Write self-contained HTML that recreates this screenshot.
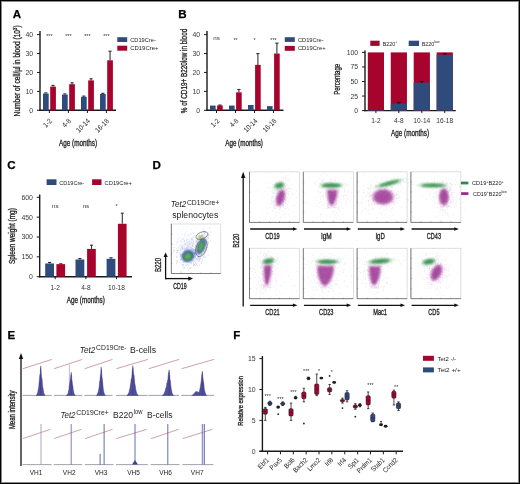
<!DOCTYPE html>
<html><head><meta charset="utf-8"><style>
html,body{margin:0;padding:0;background:#fff;}
body{width:520px;height:484px;overflow:hidden;}
svg{display:block;font-family:"Liberation Sans",sans-serif;filter:blur(0.3px);}
.c{stroke:#222;stroke-width:0.32px;}
</style></head><body>
<svg width="520" height="484" viewBox="0 0 520 484">
<defs><filter id="bl" x="-50%" y="-50%" width="200%" height="200%"><feGaussianBlur stdDeviation="0.8"/></filter></defs>
<rect x="0" y="0" width="520" height="484" fill="#fff"/>
<text transform="translate(12.70,18.20)" font-size="11.6" text-anchor="start" font-weight="bold" fill="#000" stroke="#000" stroke-width="0.25">A</text>
<line x1="40.00" y1="31.00" x2="40.00" y2="110.90" stroke="#1a1a1a" stroke-width="1.4"/>
<line x1="39.30" y1="110.30" x2="116.00" y2="110.30" stroke="#1a1a1a" stroke-width="1.4"/>
<line x1="37.00" y1="110.30" x2="40.00" y2="110.30" stroke="#1a1a1a" stroke-width="1"/>
<text transform="translate(33.20,112.75)" font-size="6.9" text-anchor="end" font-weight="normal" fill="#3a3a3a">0</text>
<line x1="37.00" y1="91.38" x2="40.00" y2="91.38" stroke="#1a1a1a" stroke-width="1"/>
<text transform="translate(33.20,93.83)" font-size="6.9" text-anchor="end" font-weight="normal" fill="#3a3a3a">10</text>
<line x1="37.00" y1="72.45" x2="40.00" y2="72.45" stroke="#1a1a1a" stroke-width="1"/>
<text transform="translate(33.20,74.90)" font-size="6.9" text-anchor="end" font-weight="normal" fill="#3a3a3a">20</text>
<line x1="37.00" y1="53.52" x2="40.00" y2="53.52" stroke="#1a1a1a" stroke-width="1"/>
<text transform="translate(33.20,55.97)" font-size="6.9" text-anchor="end" font-weight="normal" fill="#3a3a3a">30</text>
<line x1="37.00" y1="34.60" x2="40.00" y2="34.60" stroke="#1a1a1a" stroke-width="1"/>
<text transform="translate(33.20,37.05)" font-size="6.9" text-anchor="end" font-weight="normal" fill="#3a3a3a">40</text>
<line x1="45.85" y1="93.60" x2="45.85" y2="92.90" stroke="#1d2b48" stroke-width="1.1"/>
<line x1="44.25" y1="92.90" x2="47.45" y2="92.90" stroke="#1d2b48" stroke-width="1.1"/>
<rect x="43.00" y="93.60" width="5.70" height="16.70" fill="#2e4b7c"/>
<line x1="53.05" y1="86.60" x2="53.05" y2="85.40" stroke="#333" stroke-width="1.1"/>
<line x1="51.45" y1="85.40" x2="54.65" y2="85.40" stroke="#333" stroke-width="1.1"/>
<rect x="50.20" y="86.60" width="5.70" height="23.70" fill="#a6042c"/>
<line x1="49.40" y1="110.30" x2="49.40" y2="113.00" stroke="#1a1a1a" stroke-width="1"/>
<text transform="translate(49.40,38.40)" font-size="5.4" text-anchor="middle" font-weight="normal" fill="#333">***</text>
<line x1="64.85" y1="94.60" x2="64.85" y2="93.90" stroke="#1d2b48" stroke-width="1.1"/>
<line x1="63.25" y1="93.90" x2="66.45" y2="93.90" stroke="#1d2b48" stroke-width="1.1"/>
<rect x="62.00" y="94.60" width="5.70" height="15.70" fill="#2e4b7c"/>
<line x1="72.05" y1="84.20" x2="72.05" y2="82.80" stroke="#333" stroke-width="1.1"/>
<line x1="70.45" y1="82.80" x2="73.65" y2="82.80" stroke="#333" stroke-width="1.1"/>
<rect x="69.20" y="84.20" width="5.70" height="26.10" fill="#a6042c"/>
<line x1="68.40" y1="110.30" x2="68.40" y2="113.00" stroke="#1a1a1a" stroke-width="1"/>
<text transform="translate(68.40,38.40)" font-size="5.4" text-anchor="middle" font-weight="normal" fill="#333">***</text>
<line x1="83.85" y1="96.80" x2="83.85" y2="96.10" stroke="#1d2b48" stroke-width="1.1"/>
<line x1="82.25" y1="96.10" x2="85.45" y2="96.10" stroke="#1d2b48" stroke-width="1.1"/>
<rect x="81.00" y="96.80" width="5.70" height="13.50" fill="#2e4b7c"/>
<line x1="91.05" y1="80.40" x2="91.05" y2="78.80" stroke="#333" stroke-width="1.1"/>
<line x1="89.45" y1="78.80" x2="92.65" y2="78.80" stroke="#333" stroke-width="1.1"/>
<rect x="88.20" y="80.40" width="5.70" height="29.90" fill="#a6042c"/>
<line x1="87.40" y1="110.30" x2="87.40" y2="113.00" stroke="#1a1a1a" stroke-width="1"/>
<text transform="translate(87.40,38.40)" font-size="5.4" text-anchor="middle" font-weight="normal" fill="#333">***</text>
<line x1="102.85" y1="94.00" x2="102.85" y2="93.30" stroke="#1d2b48" stroke-width="1.1"/>
<line x1="101.25" y1="93.30" x2="104.45" y2="93.30" stroke="#1d2b48" stroke-width="1.1"/>
<rect x="100.00" y="94.00" width="5.70" height="16.30" fill="#2e4b7c"/>
<line x1="110.05" y1="60.30" x2="110.05" y2="51.20" stroke="#333" stroke-width="1.1"/>
<line x1="108.45" y1="51.20" x2="111.65" y2="51.20" stroke="#333" stroke-width="1.1"/>
<rect x="107.20" y="60.30" width="5.70" height="50.00" fill="#a6042c"/>
<line x1="106.40" y1="110.30" x2="106.40" y2="113.00" stroke="#1a1a1a" stroke-width="1"/>
<text transform="translate(106.40,38.40)" font-size="5.4" text-anchor="middle" font-weight="normal" fill="#333">***</text>
<text transform="translate(52.50,121.60) rotate(-45) scale(0.88,1)" font-size="7.2" text-anchor="end" font-weight="normal" fill="#222">1-2</text>
<text transform="translate(71.50,121.60) rotate(-45) scale(0.88,1)" font-size="7.2" text-anchor="end" font-weight="normal" fill="#222">4-8</text>
<text transform="translate(90.50,121.60) rotate(-45) scale(0.88,1)" font-size="7.2" text-anchor="end" font-weight="normal" fill="#222">10-14</text>
<text transform="translate(109.50,121.60) rotate(-45) scale(0.88,1)" font-size="7.2" text-anchor="end" font-weight="normal" fill="#222">16-18</text>
<text transform="translate(59.00,145.80)" font-size="8.8" textLength="38.10" lengthAdjust="spacingAndGlyphs" font-weight="normal" fill="#222" class="c">Age (months)</text>
<text transform="translate(20.30,116.40) rotate(-90)" font-size="8.8" textLength="91.00" lengthAdjust="spacingAndGlyphs" font-weight="normal" fill="#222" class="c">Number of cell/µl in blood (10<tspan font-size="5.5" dy="-3">3</tspan><tspan dy="3">)</tspan></text>
<rect x="117.30" y="37.20" width="9.90" height="4.80" fill="#2e4b7c"/>
<rect x="117.30" y="45.70" width="9.90" height="5.00" fill="#a6042c"/>
<text transform="translate(130.20,41.60)" font-size="5.8" textLength="25.60" lengthAdjust="spacingAndGlyphs" font-weight="normal" fill="#222">CD19Cre-</text>
<text transform="translate(130.20,50.30)" font-size="5.8" textLength="28.30" lengthAdjust="spacingAndGlyphs" font-weight="normal" fill="#222">CD19Cre+</text>
<text transform="translate(178.30,18.00)" font-size="11.6" text-anchor="start" font-weight="bold" fill="#000" stroke="#000" stroke-width="0.25">B</text>
<line x1="207.00" y1="31.00" x2="207.00" y2="110.90" stroke="#1a1a1a" stroke-width="1.4"/>
<line x1="206.30" y1="110.30" x2="283.50" y2="110.30" stroke="#1a1a1a" stroke-width="1.4"/>
<line x1="204.00" y1="110.30" x2="207.00" y2="110.30" stroke="#1a1a1a" stroke-width="1"/>
<text transform="translate(200.20,112.75)" font-size="6.9" text-anchor="end" font-weight="normal" fill="#3a3a3a">0</text>
<line x1="204.00" y1="91.38" x2="207.00" y2="91.38" stroke="#1a1a1a" stroke-width="1"/>
<text transform="translate(200.20,93.83)" font-size="6.9" text-anchor="end" font-weight="normal" fill="#3a3a3a">10</text>
<line x1="204.00" y1="72.45" x2="207.00" y2="72.45" stroke="#1a1a1a" stroke-width="1"/>
<text transform="translate(200.20,74.90)" font-size="6.9" text-anchor="end" font-weight="normal" fill="#3a3a3a">20</text>
<line x1="204.00" y1="53.52" x2="207.00" y2="53.52" stroke="#1a1a1a" stroke-width="1"/>
<text transform="translate(200.20,55.97)" font-size="6.9" text-anchor="end" font-weight="normal" fill="#3a3a3a">30</text>
<line x1="204.00" y1="34.60" x2="207.00" y2="34.60" stroke="#1a1a1a" stroke-width="1"/>
<text transform="translate(200.20,37.05)" font-size="6.9" text-anchor="end" font-weight="normal" fill="#3a3a3a">40</text>
<rect x="210.00" y="105.57" width="5.60" height="4.73" fill="#2e4b7c"/>
<line x1="219.90" y1="105.38" x2="219.90" y2="105.00" stroke="#333" stroke-width="1.1"/>
<line x1="218.30" y1="105.00" x2="221.50" y2="105.00" stroke="#333" stroke-width="1.1"/>
<rect x="217.10" y="105.38" width="5.60" height="4.92" fill="#a6042c"/>
<line x1="216.50" y1="110.30" x2="216.50" y2="113.00" stroke="#1a1a1a" stroke-width="1"/>
<text transform="translate(216.50,40.10)" font-size="6.2" text-anchor="middle" font-weight="normal" fill="#333">ns</text>
<rect x="229.00" y="105.57" width="5.60" height="4.73" fill="#2e4b7c"/>
<line x1="238.90" y1="92.32" x2="238.90" y2="89.48" stroke="#333" stroke-width="1.1"/>
<line x1="237.30" y1="89.48" x2="240.50" y2="89.48" stroke="#333" stroke-width="1.1"/>
<rect x="236.10" y="92.32" width="5.60" height="17.98" fill="#a6042c"/>
<line x1="235.50" y1="110.30" x2="235.50" y2="113.00" stroke="#1a1a1a" stroke-width="1"/>
<text transform="translate(235.50,41.60)" font-size="5.4" text-anchor="middle" font-weight="normal" fill="#333">**</text>
<rect x="248.00" y="105.00" width="5.60" height="5.30" fill="#2e4b7c"/>
<line x1="257.90" y1="64.88" x2="257.90" y2="53.52" stroke="#333" stroke-width="1.1"/>
<line x1="256.30" y1="53.52" x2="259.50" y2="53.52" stroke="#333" stroke-width="1.1"/>
<rect x="255.10" y="64.88" width="5.60" height="45.42" fill="#a6042c"/>
<line x1="254.50" y1="110.30" x2="254.50" y2="113.00" stroke="#1a1a1a" stroke-width="1"/>
<text transform="translate(254.50,41.60)" font-size="5.4" text-anchor="middle" font-weight="normal" fill="#333">*</text>
<rect x="267.00" y="106.14" width="5.60" height="4.16" fill="#2e4b7c"/>
<line x1="276.90" y1="53.52" x2="276.90" y2="43.12" stroke="#333" stroke-width="1.1"/>
<line x1="275.30" y1="43.12" x2="278.50" y2="43.12" stroke="#333" stroke-width="1.1"/>
<rect x="274.10" y="53.52" width="5.60" height="56.78" fill="#a6042c"/>
<line x1="273.50" y1="110.30" x2="273.50" y2="113.00" stroke="#1a1a1a" stroke-width="1"/>
<text transform="translate(273.50,41.60)" font-size="5.4" text-anchor="middle" font-weight="normal" fill="#333">***</text>
<text transform="translate(219.90,121.40) rotate(-45) scale(0.88,1)" font-size="7.2" text-anchor="end" font-weight="normal" fill="#222">1-2</text>
<text transform="translate(238.90,121.40) rotate(-45) scale(0.88,1)" font-size="7.2" text-anchor="end" font-weight="normal" fill="#222">4-8</text>
<text transform="translate(257.90,121.40) rotate(-45) scale(0.88,1)" font-size="7.2" text-anchor="end" font-weight="normal" fill="#222">10-14</text>
<text transform="translate(276.90,121.40) rotate(-45) scale(0.88,1)" font-size="7.2" text-anchor="end" font-weight="normal" fill="#222">16-18</text>
<text transform="translate(225.20,146.20)" font-size="8.8" textLength="37.70" lengthAdjust="spacingAndGlyphs" font-weight="normal" fill="#222" class="c">Age (months)</text>
<text transform="translate(186.50,113.20) rotate(-90)" font-size="8.8" textLength="84.40" lengthAdjust="spacingAndGlyphs" font-weight="normal" fill="#222" class="c">% of CD19+ B220low in blood</text>
<rect x="284.80" y="37.20" width="10.00" height="4.70" fill="#2e4b7c"/>
<rect x="284.80" y="45.90" width="10.00" height="4.90" fill="#a6042c"/>
<text transform="translate(297.90,41.60)" font-size="5.6" textLength="25.70" lengthAdjust="spacingAndGlyphs" font-weight="normal" fill="#222">CD19Cre-</text>
<text transform="translate(297.90,50.00)" font-size="5.6" textLength="27.70" lengthAdjust="spacingAndGlyphs" font-weight="normal" fill="#222">CD19Cre+</text>
<line x1="365.00" y1="50.50" x2="365.00" y2="111.20" stroke="#1a1a1a" stroke-width="1.4"/>
<line x1="364.30" y1="110.60" x2="455.80" y2="110.60" stroke="#1a1a1a" stroke-width="1.4"/>
<line x1="362.00" y1="110.60" x2="365.00" y2="110.60" stroke="#1a1a1a" stroke-width="1"/>
<text transform="translate(358.20,113.05)" font-size="6.9" text-anchor="end" font-weight="normal" fill="#3a3a3a">0</text>
<line x1="362.00" y1="96.05" x2="365.00" y2="96.05" stroke="#1a1a1a" stroke-width="1"/>
<text transform="translate(358.20,98.50)" font-size="6.9" text-anchor="end" font-weight="normal" fill="#3a3a3a">25</text>
<line x1="362.00" y1="81.50" x2="365.00" y2="81.50" stroke="#1a1a1a" stroke-width="1"/>
<text transform="translate(358.20,83.95)" font-size="6.9" text-anchor="end" font-weight="normal" fill="#3a3a3a">50</text>
<line x1="362.00" y1="66.95" x2="365.00" y2="66.95" stroke="#1a1a1a" stroke-width="1"/>
<text transform="translate(358.20,69.40)" font-size="6.9" text-anchor="end" font-weight="normal" fill="#3a3a3a">75</text>
<line x1="362.00" y1="52.40" x2="365.00" y2="52.40" stroke="#1a1a1a" stroke-width="1"/>
<text transform="translate(358.20,54.85)" font-size="6.9" text-anchor="end" font-weight="normal" fill="#3a3a3a">100</text>
<rect x="367.80" y="52.40" width="16.20" height="58.20" fill="#a6042c"/>
<rect x="367.80" y="110.02" width="16.20" height="0.58" fill="#2e4b7c"/>
<text transform="translate(375.90,123.00)" font-size="6.6" text-anchor="middle" font-weight="normal" fill="#333">1-2</text>
<line x1="375.90" y1="110.60" x2="375.90" y2="113.10" stroke="#1a1a1a" stroke-width="1"/>
<rect x="390.75" y="52.40" width="16.20" height="58.20" fill="#a6042c"/>
<rect x="390.75" y="103.62" width="16.20" height="6.98" fill="#2e4b7c"/>
<line x1="396.85" y1="102.42" x2="400.85" y2="102.42" stroke="#111" stroke-width="1.0"/>
<line x1="398.85" y1="102.42" x2="398.85" y2="104.12" stroke="#111" stroke-width="1.0"/>
<text transform="translate(398.85,123.00)" font-size="6.6" text-anchor="middle" font-weight="normal" fill="#333">4-8</text>
<line x1="398.85" y1="110.60" x2="398.85" y2="113.10" stroke="#1a1a1a" stroke-width="1"/>
<rect x="413.70" y="52.40" width="16.20" height="58.20" fill="#a6042c"/>
<rect x="413.70" y="82.66" width="16.20" height="27.94" fill="#2e4b7c"/>
<line x1="419.80" y1="81.46" x2="423.80" y2="81.46" stroke="#111" stroke-width="1.0"/>
<line x1="421.80" y1="81.46" x2="421.80" y2="83.16" stroke="#111" stroke-width="1.0"/>
<text transform="translate(421.80,123.00)" font-size="6.6" text-anchor="middle" font-weight="normal" fill="#333">10-14</text>
<line x1="421.80" y1="110.60" x2="421.80" y2="113.10" stroke="#1a1a1a" stroke-width="1"/>
<rect x="436.65" y="52.40" width="16.20" height="58.20" fill="#a6042c"/>
<rect x="436.65" y="54.73" width="16.20" height="55.87" fill="#2e4b7c"/>
<line x1="442.75" y1="53.53" x2="446.75" y2="53.53" stroke="#111" stroke-width="1.0"/>
<line x1="444.75" y1="53.53" x2="444.75" y2="55.23" stroke="#111" stroke-width="1.0"/>
<text transform="translate(444.75,123.00)" font-size="6.6" text-anchor="middle" font-weight="normal" fill="#333">16-18</text>
<line x1="444.75" y1="110.60" x2="444.75" y2="113.10" stroke="#1a1a1a" stroke-width="1"/>
<text transform="translate(391.00,136.20)" font-size="8.8" textLength="38.00" lengthAdjust="spacingAndGlyphs" font-weight="normal" fill="#222" class="c">Age (months)</text>
<text transform="translate(340.30,94.80) rotate(-90)" font-size="8.6" textLength="31.00" lengthAdjust="spacingAndGlyphs" font-weight="normal" fill="#222" class="c">Percentage</text>
<rect x="370.30" y="40.70" width="9.30" height="5.20" fill="#a6042c"/>
<text transform="translate(382.70,45.60)" font-size="5.4" text-anchor="start" font-weight="normal" fill="#222">B220<tspan font-size="3.5" dy="-2.2">+</tspan></text>
<rect x="408.70" y="40.70" width="10.30" height="5.30" fill="#2e4b7c"/>
<text transform="translate(421.70,45.60)" font-size="5.4" text-anchor="start" font-weight="normal" fill="#222">B220<tspan font-size="3.5" dy="-2.2">low</tspan></text>
<text transform="translate(7.20,169.00)" font-size="11.6" text-anchor="start" font-weight="bold" fill="#000" stroke="#000" stroke-width="0.25">C</text>
<line x1="39.70" y1="194.50" x2="39.70" y2="277.30" stroke="#1a1a1a" stroke-width="1.4"/>
<line x1="39.00" y1="276.70" x2="132.00" y2="276.70" stroke="#1a1a1a" stroke-width="1.4"/>
<line x1="36.70" y1="276.70" x2="39.70" y2="276.70" stroke="#1a1a1a" stroke-width="1"/>
<text transform="translate(32.90,279.15)" font-size="6.9" text-anchor="end" font-weight="normal" fill="#3a3a3a">0</text>
<line x1="36.70" y1="256.85" x2="39.70" y2="256.85" stroke="#1a1a1a" stroke-width="1"/>
<text transform="translate(32.90,259.30)" font-size="6.9" text-anchor="end" font-weight="normal" fill="#3a3a3a">150</text>
<line x1="36.70" y1="237.00" x2="39.70" y2="237.00" stroke="#1a1a1a" stroke-width="1"/>
<text transform="translate(32.90,239.45)" font-size="6.9" text-anchor="end" font-weight="normal" fill="#3a3a3a">300</text>
<line x1="36.70" y1="217.15" x2="39.70" y2="217.15" stroke="#1a1a1a" stroke-width="1"/>
<text transform="translate(32.90,219.60)" font-size="6.9" text-anchor="end" font-weight="normal" fill="#3a3a3a">450</text>
<line x1="36.70" y1="197.30" x2="39.70" y2="197.30" stroke="#1a1a1a" stroke-width="1"/>
<text transform="translate(32.90,199.75)" font-size="6.9" text-anchor="end" font-weight="normal" fill="#3a3a3a">600</text>
<line x1="49.60" y1="263.47" x2="49.60" y2="262.47" stroke="#1d2b48" stroke-width="1.1"/>
<line x1="48.00" y1="262.47" x2="51.20" y2="262.47" stroke="#1d2b48" stroke-width="1.1"/>
<rect x="45.20" y="263.47" width="8.80" height="13.23" fill="#2e4b7c"/>
<line x1="60.80" y1="264.13" x2="60.80" y2="263.73" stroke="#333" stroke-width="1.1"/>
<line x1="59.30" y1="263.73" x2="62.30" y2="263.73" stroke="#333" stroke-width="1.1"/>
<rect x="56.40" y="264.13" width="8.70" height="12.57" fill="#a6042c"/>
<line x1="55.20" y1="276.70" x2="55.20" y2="279.20" stroke="#1a1a1a" stroke-width="1"/>
<text transform="translate(55.20,207.80)" font-size="6.2" text-anchor="middle" font-weight="normal" fill="#333">ns</text>
<text transform="translate(55.20,289.90)" font-size="6.6" text-anchor="middle" font-weight="normal" fill="#333">1-2</text>
<line x1="79.90" y1="259.50" x2="79.90" y2="258.50" stroke="#1d2b48" stroke-width="1.1"/>
<line x1="78.30" y1="258.50" x2="81.50" y2="258.50" stroke="#1d2b48" stroke-width="1.1"/>
<rect x="75.50" y="259.50" width="8.80" height="17.20" fill="#2e4b7c"/>
<line x1="91.50" y1="248.91" x2="91.50" y2="245.20" stroke="#333" stroke-width="1.1"/>
<line x1="90.00" y1="245.20" x2="93.00" y2="245.20" stroke="#333" stroke-width="1.1"/>
<rect x="87.10" y="248.91" width="8.70" height="27.79" fill="#a6042c"/>
<line x1="85.90" y1="276.70" x2="85.90" y2="279.20" stroke="#1a1a1a" stroke-width="1"/>
<text transform="translate(85.90,207.80)" font-size="6.2" text-anchor="middle" font-weight="normal" fill="#333">ns</text>
<text transform="translate(85.90,289.90)" font-size="6.6" text-anchor="middle" font-weight="normal" fill="#333">4-8</text>
<line x1="111.00" y1="258.83" x2="111.00" y2="257.83" stroke="#1d2b48" stroke-width="1.1"/>
<line x1="109.40" y1="257.83" x2="112.60" y2="257.83" stroke="#1d2b48" stroke-width="1.1"/>
<rect x="106.60" y="258.83" width="8.80" height="17.87" fill="#2e4b7c"/>
<line x1="122.30" y1="223.77" x2="122.30" y2="213.18" stroke="#333" stroke-width="1.1"/>
<line x1="120.80" y1="213.18" x2="123.80" y2="213.18" stroke="#333" stroke-width="1.1"/>
<rect x="117.90" y="223.77" width="8.70" height="52.93" fill="#a6042c"/>
<line x1="116.50" y1="276.70" x2="116.50" y2="279.20" stroke="#1a1a1a" stroke-width="1"/>
<text transform="translate(116.50,208.10)" font-size="5.4" text-anchor="middle" font-weight="normal" fill="#333">*</text>
<text transform="translate(116.50,289.90)" font-size="6.6" text-anchor="middle" font-weight="normal" fill="#333">10-18</text>
<text transform="translate(66.80,302.50)" font-size="8.8" textLength="38.10" lengthAdjust="spacingAndGlyphs" font-weight="normal" fill="#222" class="c">Age (months)</text>
<text transform="translate(15.20,264.10) rotate(-90)" font-size="8.4" textLength="56.00" lengthAdjust="spacingAndGlyphs" font-weight="normal" fill="#222" class="c">Spleen weight (mg)</text>
<rect x="46.60" y="179.30" width="9.90" height="5.70" fill="#2e4b7c"/>
<text transform="translate(59.20,184.50)" font-size="5.6" textLength="25.00" lengthAdjust="spacingAndGlyphs" font-weight="normal" fill="#222">CD19Cre-</text>
<rect x="92.10" y="179.30" width="9.40" height="5.70" fill="#a6042c"/>
<text transform="translate(104.60,184.50)" font-size="5.6" textLength="27.30" lengthAdjust="spacingAndGlyphs" font-weight="normal" fill="#222">CD19Cre+</text>
<text transform="translate(152.40,169.00)" font-size="11.6" text-anchor="start" font-weight="bold" fill="#000" stroke="#000" stroke-width="0.25">D</text>
<text transform="translate(170.80,207.20)" font-size="9.4" textLength="15.50" lengthAdjust="spacingAndGlyphs" font-weight="normal" fill="#222" font-style="italic">Tet2</text>
<text transform="translate(186.90,204.50)" font-size="6.8" textLength="32.30" lengthAdjust="spacingAndGlyphs" font-weight="normal" fill="#222">CD19Cre+</text>
<text transform="translate(172.20,218.20)" font-size="9.2" textLength="46.10" lengthAdjust="spacingAndGlyphs" font-weight="normal" fill="#222">splenocytes</text>
<rect x="171.3" y="224" width="49.5" height="49.5" fill="#fff" stroke="#c8c8c8" stroke-width="0.6"/>
<line x1="171.30" y1="224.00" x2="171.30" y2="273.50" stroke="#666" stroke-width="0.8"/>
<line x1="171.30" y1="273.50" x2="220.80" y2="273.50" stroke="#666" stroke-width="0.8"/>
<line x1="181.20" y1="273.50" x2="181.20" y2="272.50" stroke="#666" stroke-width="0.5"/>
<line x1="171.30" y1="233.90" x2="172.30" y2="233.90" stroke="#666" stroke-width="0.5"/>
<line x1="191.10" y1="273.50" x2="191.10" y2="272.50" stroke="#666" stroke-width="0.5"/>
<line x1="171.30" y1="243.80" x2="172.30" y2="243.80" stroke="#666" stroke-width="0.5"/>
<line x1="201.00" y1="273.50" x2="201.00" y2="272.50" stroke="#666" stroke-width="0.5"/>
<line x1="171.30" y1="253.70" x2="172.30" y2="253.70" stroke="#666" stroke-width="0.5"/>
<line x1="210.90" y1="273.50" x2="210.90" y2="272.50" stroke="#666" stroke-width="0.5"/>
<line x1="171.30" y1="263.60" x2="172.30" y2="263.60" stroke="#666" stroke-width="0.5"/>
<path d="M187.4 247.0h0M184.9 243.7h0M181.7 247.1h0M193.9 241.0h0M193.0 240.6h0M189.6 243.1h0M181.5 254.2h0M191.1 243.8h0M173.0 244.4h0M181.1 245.9h0M188.4 242.5h0M187.5 239.4h0M189.8 244.2h0M189.2 253.3h0M193.6 246.3h0M181.5 243.8h0M184.9 245.0h0M190.9 242.3h0M181.7 242.2h0M188.3 250.9h0M183.8 248.3h0M184.3 236.5h0M191.4 248.8h0M175.9 251.2h0M183.8 241.3h0M189.3 241.7h0M182.4 253.3h0M193.4 244.8h0M195.3 239.4h0M183.4 238.5h0M188.1 239.1h0M180.7 241.0h0M180.5 246.0h0M186.9 230.8h0M180.5 251.0h0M196.0 240.2h0M169.4 242.3h0M186.4 239.7h0M184.6 252.4h0M193.0 240.0h0M189.6 244.6h0M196.9 239.7h0M191.3 243.9h0M183.3 255.5h0M193.5 242.0h0M175.1 249.8h0M185.4 233.5h0M189.4 248.7h0M185.6 255.6h0M189.3 241.1h0M190.7 245.1h0M191.3 247.9h0M182.4 245.2h0M192.3 239.8h0M185.7 251.3h0M192.9 236.2h0M179.7 249.2h0M185.3 243.5h0M190.7 234.2h0M189.2 233.9h0M185.1 249.7h0M195.4 242.6h0M189.2 243.1h0M189.6 245.6h0M187.0 245.8h0M189.9 241.6h0M192.6 243.0h0M198.1 236.8h0M183.7 244.4h0M189.9 247.6h0M186.6 246.9h0M187.9 226.5h0M182.2 249.6h0M189.8 243.2h0M187.0 248.3h0M186.7 240.8h0M200.2 235.2h0M183.9 245.9h0M185.7 244.7h0M171.9 253.5h0M188.3 235.3h0M189.7 247.9h0M196.1 246.1h0M177.4 249.8h0M187.3 247.8h0M183.8 229.2h0M187.8 233.9h0M185.6 235.4h0M191.7 247.8h0M186.9 245.4h0M191.4 241.2h0M191.5 250.2h0M191.3 238.5h0M197.0 228.1h0M190.7 239.2h0M189.9 246.1h0M190.2 245.5h0M174.5 244.6h0M187.0 237.7h0M177.2 242.7h0M195.7 241.6h0M191.3 234.3h0M183.3 239.6h0M195.9 246.9h0M187.6 253.7h0M191.3 239.2h0M181.7 257.6h0M184.6 242.1h0M190.3 243.9h0M191.2 233.8h0M197.4 244.9h0M193.7 237.2h0M186.6 251.0h0M188.0 244.0h0M193.2 237.0h0M174.3 252.1h0M180.4 254.9h0M186.6 240.3h0M189.6 247.2h0M191.7 248.8h0M190.0 248.2h0M199.6 243.9h0M186.5 250.2h0M174.2 247.7h0M180.7 256.3h0M180.8 249.1h0M186.0 244.7h0M184.8 247.4h0M196.1 236.7h0M192.9 245.6h0M182.0 240.0h0M187.7 250.4h0M176.9 248.6h0M194.6 242.8h0M189.6 247.1h0M184.0 238.8h0M177.2 248.1h0M189.8 238.0h0M180.0 244.8h0M179.0 250.0h0M182.3 250.3h0M176.3 255.1h0M177.6 239.2h0M189.7 239.9h0M173.1 250.0h0M187.0 241.0h0M193.3 243.6h0M191.4 242.5h0M195.8 241.0h0M182.5 234.1h0M195.7 245.3h0M184.0 243.4h0M191.0 229.2h0M197.1 251.3h0M184.6 250.5h0M196.0 235.7h0M192.7 245.1h0M182.2 247.4h0M191.1 245.9h0M186.2 243.4h0M180.8 246.9h0M191.8 240.7h0M180.0 244.3h0M203.9 237.2h0M181.8 231.4h0M191.6 243.2h0M196.8 238.6h0M188.3 246.3h0M180.6 256.1h0M186.4 240.0h0M199.4 245.4h0M177.9 247.3h0M189.0 243.5h0M181.9 241.9h0M200.9 239.1h0M176.7 243.8h0M198.7 240.7h0M198.7 239.5h0M183.5 248.6h0M173.8 250.2h0M188.4 246.2h0M183.0 246.6h0M190.5 243.5h0M190.8 242.1h0M187.9 248.4h0M184.6 240.6h0M183.9 246.6h0M187.0 245.1h0M187.6 244.7h0M182.3 239.7h0M192.5 246.3h0M188.6 241.5h0M186.1 238.4h0M177.7 252.2h0M184.7 250.7h0M173.2 238.5h0M186.9 254.4h0M180.7 240.4h0M184.9 249.2h0M190.0 242.6h0M196.7 240.5h0M188.8 246.4h0M198.4 240.8h0M188.6 235.6h0M188.6 247.4h0M189.0 249.3h0M192.9 245.0h0M194.1 254.6h0M192.5 238.0h0M195.8 253.6h0M188.1 248.8h0M191.9 239.9h0M181.8 249.6h0M192.4 246.8h0M191.0 240.8h0M193.0 242.5h0M188.2 243.4h0M188.0 247.6h0M179.7 246.0h0M182.3 238.4h0M178.4 238.1h0M185.4 249.0h0M189.6 241.4h0M181.3 239.5h0M197.8 238.3h0M189.6 236.1h0M180.2 237.8h0M193.9 244.3h0M177.4 251.7h0M184.5 234.6h0M174.5 247.5h0M179.4 241.3h0M188.0 244.8h0M192.4 244.0h0M198.2 242.2h0M178.8 247.5h0M178.3 244.3h0M186.6 244.4h0M184.3 235.9h0M180.8 249.1h0M185.0 243.6h0M184.2 241.4h0M191.6 242.4h0M184.4 241.8h0M177.4 234.3h0M182.2 248.2h0M180.2 251.0h0M183.3 238.1h0M184.7 243.8h0M191.3 244.4h0M184.1 240.9h0M186.1 244.4h0M191.6 242.1h0M179.0 241.8h0M182.8 242.7h0M181.1 248.2h0M184.9 246.5h0M188.3 240.2h0M197.5 233.1h0M192.9 239.9h0" stroke="#9aa4d8" stroke-width="0.6" stroke-linecap="round" opacity="0.4"/>
<path d="M187.4 242.6h0M185.0 259.1h0M196.7 264.5h0M192.7 260.7h0M194.0 258.0h0M190.0 253.9h0M187.7 249.9h0M191.1 248.3h0M194.5 264.5h0M187.0 256.7h0M193.6 252.9h0M184.8 259.3h0M192.5 257.5h0M188.7 265.7h0M196.0 251.5h0M188.2 253.4h0M193.0 249.1h0M190.0 252.1h0M186.5 261.0h0M194.3 252.3h0M186.8 261.4h0M188.5 257.5h0M198.1 256.7h0M191.2 267.3h0M190.0 259.4h0M184.8 257.6h0M184.1 268.5h0M191.5 247.0h0M176.8 253.1h0M192.5 250.8h0M186.9 254.8h0M184.7 251.6h0M184.5 249.7h0M188.4 257.5h0M189.6 253.7h0M184.1 259.2h0M189.6 264.1h0M191.4 253.4h0M184.0 254.3h0M182.7 257.0h0M190.7 257.4h0M196.0 263.5h0M184.7 258.0h0M196.6 240.2h0M185.9 258.2h0M189.8 257.3h0M187.8 258.2h0M190.2 259.2h0M176.8 257.4h0M185.4 251.5h0M184.6 261.6h0M186.5 260.5h0M192.3 255.3h0M190.2 254.1h0M181.2 259.7h0M188.8 252.5h0M189.4 259.5h0M185.4 261.2h0M195.5 248.5h0M188.3 254.9h0M196.1 253.1h0M190.6 250.5h0M187.9 256.0h0M183.1 267.1h0M187.9 246.0h0M191.2 253.4h0M191.1 256.4h0M180.3 259.2h0M193.7 249.4h0M179.7 252.9h0M183.0 260.8h0M197.1 253.2h0M194.8 265.0h0M183.8 254.5h0M191.9 256.9h0M180.2 253.7h0M190.0 256.3h0M181.3 258.7h0M186.6 259.5h0M187.2 255.9h0M189.0 261.5h0M193.7 250.6h0M190.1 250.4h0M190.2 259.0h0M194.3 250.2h0M188.1 257.1h0M180.9 260.2h0M185.7 259.5h0M177.7 250.5h0M188.8 257.0h0M187.6 261.4h0M185.2 254.1h0M186.4 247.9h0M184.7 257.8h0M191.6 253.0h0M187.8 252.3h0M193.6 262.4h0M190.6 268.1h0M185.0 257.8h0M191.4 260.0h0M176.9 250.3h0M192.9 257.8h0M197.5 265.7h0M189.6 256.5h0M193.3 255.0h0M192.8 246.1h0M177.6 242.1h0M190.9 252.2h0M197.8 262.8h0M187.3 254.9h0M183.5 253.7h0M186.6 260.5h0M188.3 256.2h0M189.5 260.4h0M190.0 254.0h0M190.8 253.5h0M186.1 265.5h0M187.8 250.6h0M194.0 254.5h0M184.6 267.3h0M191.8 258.9h0M188.6 254.8h0M183.1 264.5h0M187.4 254.7h0M189.9 255.4h0M190.3 252.5h0M182.5 246.8h0M187.7 260.1h0M193.5 250.7h0M191.4 263.2h0M188.3 260.1h0M196.1 251.6h0M192.1 249.5h0M188.8 255.1h0M191.4 260.6h0M197.7 246.5h0M186.5 259.7h0M184.2 261.1h0M190.0 253.2h0M186.7 247.8h0M187.8 247.2h0M183.3 255.5h0M188.2 260.8h0M187.4 254.1h0M194.5 261.4h0M188.9 257.6h0M194.6 253.8h0M188.1 270.3h0M193.6 241.3h0M188.9 257.9h0M194.3 256.2h0M184.1 252.2h0M191.1 260.2h0M180.2 254.5h0M183.0 247.7h0M185.7 254.8h0M188.4 251.7h0M182.8 256.7h0M186.1 253.3h0M189.9 259.2h0M197.9 260.1h0M183.2 256.3h0M180.9 271.1h0M184.5 257.8h0M187.1 248.7h0M190.1 254.6h0M180.0 262.3h0M189.0 244.6h0M192.4 254.7h0M191.4 256.6h0M193.7 251.4h0M191.1 251.8h0M189.4 250.5h0M191.8 263.8h0M189.7 254.1h0M180.6 255.7h0M191.3 259.5h0M191.3 257.1h0M191.2 262.0h0M184.8 254.7h0M192.4 253.8h0M185.2 254.3h0M188.3 259.4h0M186.7 249.8h0M190.5 255.6h0M185.2 262.1h0M185.8 255.3h0M195.1 259.5h0M185.8 259.8h0M189.6 268.4h0M188.6 262.5h0M186.9 261.3h0M192.2 238.9h0M187.2 259.4h0M185.9 253.4h0M198.4 250.4h0M182.3 264.2h0M182.7 265.7h0M185.6 258.2h0M194.3 253.0h0M177.1 252.5h0M195.5 256.0h0M186.3 262.0h0M192.0 257.4h0M176.5 260.9h0M194.1 256.7h0M186.1 242.9h0M190.0 257.7h0M197.8 244.9h0M186.5 257.1h0M191.1 251.6h0M191.5 249.4h0M188.0 253.0h0M187.0 252.6h0M183.1 265.1h0M188.0 252.7h0M191.4 259.7h0M183.1 258.2h0M191.9 256.8h0M181.1 247.8h0M194.7 254.0h0M187.4 254.8h0M188.2 253.4h0M181.3 255.6h0M183.6 255.0h0M184.1 261.9h0M183.4 262.5h0M184.0 260.3h0M195.1 253.1h0M184.6 258.2h0M184.4 248.1h0M185.5 258.4h0M186.0 257.6h0M193.4 257.3h0M193.8 256.1h0M186.6 256.7h0M185.9 255.4h0M182.8 249.0h0M186.4 256.8h0M183.3 258.6h0M190.0 253.9h0M191.4 239.0h0M182.5 248.7h0M199.3 264.8h0M176.4 263.4h0M189.7 253.3h0M185.0 244.8h0M193.0 255.3h0M186.6 253.4h0M189.8 252.1h0M187.8 253.2h0M177.2 262.0h0M190.8 258.7h0M183.7 258.3h0M191.3 254.9h0M198.9 261.2h0M178.9 250.2h0M195.9 260.3h0M194.4 257.0h0M183.3 254.6h0M190.0 249.6h0M176.9 256.7h0M204.7 257.5h0M182.9 254.7h0M187.2 252.1h0M194.0 252.1h0M186.1 264.7h0M185.8 258.6h0M187.2 254.7h0M187.8 252.1h0M173.7 251.5h0M180.1 256.2h0M188.0 256.3h0M190.9 255.0h0M182.4 255.1h0M177.5 261.1h0M191.6 257.0h0M187.0 255.6h0M192.5 253.5h0M193.0 256.5h0M192.3 261.1h0M184.4 256.0h0M182.2 254.8h0M199.8 259.3h0M189.5 258.4h0M195.6 256.3h0M190.6 247.2h0M186.1 259.7h0M195.1 252.5h0M183.0 256.8h0M182.7 254.1h0M193.6 249.2h0M193.5 265.3h0M194.5 254.2h0M186.1 259.5h0M197.3 254.2h0M194.3 253.0h0M190.0 253.7h0M193.3 260.5h0M181.0 259.7h0M187.7 252.9h0M188.5 260.3h0M199.1 253.2h0M185.7 248.4h0M197.4 251.0h0M185.0 251.3h0M185.0 251.4h0M189.5 257.8h0M188.8 257.1h0M187.5 264.5h0M180.3 249.9h0M185.2 253.2h0M182.3 257.2h0M186.4 250.1h0M190.9 262.6h0M190.9 253.5h0M188.3 255.1h0M189.6 259.3h0M181.5 245.8h0M185.7 252.2h0" stroke="#4a60b8" stroke-width="0.66" stroke-linecap="round" opacity="0.45"/>
<path d="M204.6 243.5h0M195.3 262.3h0M201.1 237.9h0M203.5 228.7h0M194.4 247.3h0M204.4 233.2h0M194.9 249.5h0M199.7 243.5h0M198.2 256.8h0M203.9 256.5h0M200.9 248.5h0M202.3 259.1h0M198.8 249.8h0M201.7 247.7h0M203.2 237.2h0M203.8 235.6h0M203.1 252.2h0M193.5 255.3h0M209.0 234.8h0M204.2 254.8h0M210.6 240.9h0M201.4 250.6h0M201.1 248.4h0M208.3 237.9h0M201.2 235.8h0M201.0 242.1h0M201.3 249.3h0M203.0 242.3h0M197.0 253.1h0M203.0 248.6h0M195.7 257.4h0M197.4 250.8h0M205.2 246.5h0M206.6 240.2h0M203.4 249.6h0M194.4 249.8h0M194.8 254.8h0M199.4 245.0h0M202.8 245.0h0M203.3 243.5h0M203.0 247.8h0M209.4 228.1h0M204.4 248.6h0M195.4 245.5h0M199.4 255.0h0M193.4 256.5h0M193.8 263.5h0M198.7 251.6h0M203.0 238.8h0M201.7 254.6h0M203.2 254.8h0M204.0 234.8h0M201.0 241.5h0M196.9 250.1h0M202.7 245.5h0M201.9 246.2h0M199.5 252.5h0M205.8 243.4h0M192.5 255.1h0M198.2 254.8h0M197.1 242.7h0M205.1 237.0h0M197.4 251.4h0M199.7 259.4h0M202.4 236.2h0M199.9 254.2h0M205.2 238.2h0M201.1 253.4h0M204.0 244.3h0M199.7 252.9h0M204.5 233.5h0M200.6 250.7h0M198.5 253.2h0M199.5 245.7h0M198.5 250.6h0M206.4 247.2h0M202.8 260.1h0M201.7 252.0h0M206.8 247.9h0M203.7 239.5h0M198.6 256.9h0M201.4 250.6h0M199.9 247.9h0M193.8 252.6h0M202.9 238.8h0M201.1 240.4h0M200.6 255.4h0M194.4 251.8h0M205.3 244.0h0M198.7 240.0h0M198.2 248.6h0M205.6 232.5h0M206.0 236.6h0M207.1 239.7h0M201.3 240.2h0M195.7 255.4h0M201.8 252.2h0M206.3 236.6h0M201.0 242.5h0M196.7 249.4h0M200.8 241.2h0M203.7 231.4h0M199.0 257.0h0M204.3 240.4h0M192.5 245.0h0M203.8 250.5h0M199.6 258.4h0M205.6 245.3h0M201.9 253.7h0M197.6 242.3h0M197.1 244.5h0M205.7 240.3h0M191.3 253.6h0M198.0 257.7h0M194.1 252.8h0M201.5 263.4h0M199.6 248.6h0M197.7 253.8h0M203.8 248.8h0M194.9 250.5h0M197.8 250.8h0M197.2 258.6h0M205.6 245.2h0M197.1 259.7h0M198.2 249.4h0M201.0 257.2h0M206.2 238.4h0M196.6 247.2h0M195.0 265.2h0M195.2 253.9h0M208.0 236.3h0M198.1 247.2h0M200.0 245.3h0M204.7 241.9h0M204.2 243.1h0M197.9 250.1h0M198.5 248.3h0M205.7 249.1h0M198.5 251.9h0M196.9 254.1h0M195.5 249.8h0M201.7 240.8h0M208.6 243.2h0M204.4 253.7h0M208.1 241.9h0M200.5 258.6h0M201.0 246.0h0M207.8 251.2h0M201.5 242.1h0M201.4 249.8h0M196.7 259.2h0M198.7 249.9h0M208.2 241.8h0M198.9 261.0h0M200.1 237.7h0M203.1 232.9h0M207.6 234.6h0M198.4 257.7h0M197.1 242.9h0M193.1 250.1h0M199.6 244.3h0M199.6 250.9h0M199.9 246.7h0M199.1 247.1h0M197.3 246.0h0M196.6 241.3h0M206.5 249.8h0M196.5 247.3h0M202.8 234.4h0M196.7 251.2h0M202.4 246.8h0M201.3 238.4h0M204.3 250.3h0M204.1 231.2h0M190.0 262.6h0M197.8 245.1h0M202.1 246.2h0M204.0 237.1h0M193.1 257.5h0M196.4 252.0h0M196.7 243.1h0M198.9 254.5h0M196.0 249.8h0M204.2 242.3h0M204.9 241.3h0M198.7 245.9h0M193.3 243.0h0M202.1 235.6h0M197.6 251.8h0M196.2 255.3h0M201.2 236.5h0M204.5 251.6h0M206.1 242.4h0M202.7 249.8h0M202.9 248.0h0M206.4 243.9h0M202.3 235.6h0M206.5 243.3h0M200.5 239.2h0M203.3 237.6h0M201.9 242.3h0M202.1 239.7h0M202.4 243.8h0M200.6 248.9h0M208.2 232.2h0M201.6 240.8h0M207.7 237.0h0M199.7 244.1h0M197.2 253.5h0M197.0 253.2h0M201.7 232.6h0M203.4 251.5h0M202.1 248.4h0M205.9 239.1h0M205.3 244.4h0M203.7 248.8h0M198.8 235.7h0M204.7 247.4h0M199.1 248.2h0M201.3 242.7h0M200.9 248.1h0M205.4 249.1h0M201.5 261.8h0M203.1 256.4h0M201.0 248.1h0M202.6 241.7h0M202.6 242.5h0M204.4 252.7h0M205.1 233.1h0M202.0 244.0h0M201.0 237.8h0M192.7 248.3h0M193.6 264.9h0M201.3 245.9h0M204.9 249.7h0M202.5 244.6h0M195.0 256.7h0M199.1 260.1h0M199.9 246.8h0M195.7 252.7h0M195.3 249.3h0M200.3 258.1h0M195.2 253.5h0M201.0 240.9h0M193.8 253.4h0M207.6 244.8h0M199.7 243.7h0M205.6 257.0h0M204.4 233.9h0M195.7 254.4h0M207.3 247.4h0M200.4 242.6h0M192.9 251.1h0M194.8 253.1h0M199.5 236.1h0M204.0 242.0h0M203.3 248.0h0M195.8 249.9h0M208.9 234.7h0M205.0 252.6h0M208.5 235.0h0M199.8 243.7h0M208.3 238.1h0M204.1 231.8h0M199.3 249.1h0M197.7 240.9h0M198.1 258.6h0M203.8 245.7h0M200.1 239.1h0M198.6 247.2h0M196.2 258.5h0M204.9 239.9h0M202.9 255.5h0M203.3 242.1h0M198.3 237.6h0M206.0 242.5h0M196.5 246.8h0M200.0 251.5h0M199.0 257.6h0M195.8 252.8h0M196.1 250.6h0M200.8 248.9h0M203.9 248.0h0M201.8 254.4h0M203.0 243.2h0M200.2 242.4h0M200.5 246.6h0M208.1 255.0h0M205.7 241.9h0M199.8 243.9h0M204.5 240.0h0M207.4 245.0h0M210.8 232.0h0M200.2 248.9h0M199.9 251.4h0M201.4 248.5h0M197.4 239.8h0M192.3 248.6h0M202.5 246.0h0M200.2 242.0h0" stroke="#4a60b8" stroke-width="0.66" stroke-linecap="round" opacity="0.45"/>
<ellipse cx="188.0" cy="255.9" rx="6.8" ry="6.2" transform="rotate(-30 188.0 255.9)" fill="#6a7cc4" opacity="0.6" filter="url(#bl)"/>
<ellipse cx="188.0" cy="255.9" rx="5.8" ry="5.2" transform="rotate(-30 188.0 255.9)" fill="#36509e" opacity="0.9" filter="url(#bl)"/>
<ellipse cx="201.2" cy="246.5" rx="3.9" ry="8.4" transform="rotate(22 201.2 246.5)" fill="#6a7cc4" opacity="0.6" filter="url(#bl)"/>
<ellipse cx="201.2" cy="246.5" rx="3.2" ry="7.4" transform="rotate(22 201.2 246.5)" fill="#36509e" opacity="0.9" filter="url(#bl)"/>
<ellipse cx="187.8" cy="256.5" rx="4.4" ry="3.9" transform="rotate(-30 187.8 256.5)" fill="#3a9070" opacity="1" filter="url(#bl)"/>
<ellipse cx="187.8" cy="256.5" rx="3.3" ry="2.8" transform="rotate(-30 187.8 256.5)" fill="#62ae48" opacity="1" filter="url(#bl)"/>
<ellipse cx="201.0" cy="246.4" rx="2.5" ry="6.2" transform="rotate(22 201.0 246.4)" fill="#3a9070" opacity="1" filter="url(#bl)"/>
<ellipse cx="201.0" cy="246.4" rx="1.7" ry="5.0" transform="rotate(22 201.0 246.4)" fill="#62ae48" opacity="1" filter="url(#bl)"/>
<ellipse cx="200.6" cy="237.2" rx="2.4" ry="1.8" transform="rotate(-15 200.6 237.2)" fill="#a0b040" opacity="1" filter="url(#bl)"/>
<ellipse cx="201.9" cy="235.5" rx="6.2" ry="3.4" transform="rotate(-22 201.9 235.5)" fill="none" stroke="#4a4a5a" stroke-width="0.55"/>
<ellipse cx="201.3" cy="247.8" rx="5.2" ry="9.2" transform="rotate(20 201.3 247.8)" fill="none" stroke="#4a4a5a" stroke-width="0.55"/>
<line x1="165.60" y1="279.20" x2="165.60" y2="256.00" stroke="#111" stroke-width="1.3"/>
<path d="M163.5 257 L165.6 252.5 L167.7 257Z" fill="#111"/>
<line x1="165.00" y1="278.60" x2="189.00" y2="278.60" stroke="#111" stroke-width="1.3"/>
<path d="M188.3 276.5 L193 278.6 L188.3 280.7Z" fill="#111"/>
<text transform="translate(173.20,289.40)" font-size="8.4" textLength="13.40" lengthAdjust="spacingAndGlyphs" font-weight="normal" fill="#222" class="c">CD19</text>
<text transform="translate(160.50,272.10) rotate(-90)" font-size="8.4" textLength="14.20" lengthAdjust="spacingAndGlyphs" font-weight="normal" fill="#222" class="c">B220</text>
<line x1="243.20" y1="306.50" x2="243.20" y2="177.00" stroke="#111" stroke-width="1.3"/>
<path d="M241 178 L243.2 171.8 L245.4 178Z" fill="#111"/>
<text transform="translate(238.90,247.70) rotate(-90)" font-size="8.4" textLength="14.10" lengthAdjust="spacingAndGlyphs" font-weight="normal" fill="#222" class="c">B220</text>
<rect x="249.5" y="171.9" width="50" height="50.5" fill="#fff" stroke="#c8c8c8" stroke-width="0.6"/>
<line x1="249.50" y1="171.90" x2="249.50" y2="222.40" stroke="#666" stroke-width="0.8"/>
<line x1="249.50" y1="222.40" x2="299.50" y2="222.40" stroke="#666" stroke-width="0.8"/>
<line x1="259.50" y1="222.40" x2="259.50" y2="221.40" stroke="#666" stroke-width="0.5"/>
<line x1="249.50" y1="182.00" x2="250.50" y2="182.00" stroke="#666" stroke-width="0.5"/>
<line x1="269.50" y1="222.40" x2="269.50" y2="221.40" stroke="#666" stroke-width="0.5"/>
<line x1="249.50" y1="192.10" x2="250.50" y2="192.10" stroke="#666" stroke-width="0.5"/>
<line x1="279.50" y1="222.40" x2="279.50" y2="221.40" stroke="#666" stroke-width="0.5"/>
<line x1="249.50" y1="202.20" x2="250.50" y2="202.20" stroke="#666" stroke-width="0.5"/>
<line x1="289.50" y1="222.40" x2="289.50" y2="221.40" stroke="#666" stroke-width="0.5"/>
<line x1="249.50" y1="212.30" x2="250.50" y2="212.30" stroke="#666" stroke-width="0.5"/>
<path d="M293.3 216.0h0M280.1 211.3h0M269.5 177.3h0M277.1 188.5h0M276.6 199.7h0M301.5 190.7h0M280.8 200.6h0M280.3 207.5h0M292.8 184.6h0M281.6 194.9h0M283.0 181.5h0M268.3 173.3h0M284.2 199.7h0M281.0 172.7h0M277.9 189.7h0M270.7 188.0h0M285.3 203.4h0M280.3 203.1h0M276.3 198.5h0M280.8 203.5h0M280.0 196.2h0M279.6 190.9h0M296.0 203.1h0M283.5 221.9h0M290.3 181.3h0M285.3 206.5h0M293.6 211.6h0M285.9 185.3h0M274.4 200.5h0M284.0 186.9h0M277.8 193.5h0M280.9 201.2h0M278.5 184.7h0M289.1 214.5h0M279.8 208.5h0M283.6 204.7h0M283.8 189.6h0M284.5 208.4h0M274.3 218.4h0M295.0 216.9h0M294.3 205.5h0M278.1 191.4h0M274.8 198.9h0M280.3 204.8h0M266.5 222.1h0M296.3 197.4h0M285.2 202.7h0M282.4 195.5h0M279.6 189.0h0M281.7 197.4h0M282.7 188.7h0M280.8 198.2h0M284.7 186.5h0M283.4 208.1h0M284.7 193.8h0M277.1 195.2h0M285.6 214.1h0M279.4 190.9h0M283.1 199.9h0M274.2 189.9h0M279.8 204.8h0M272.2 187.0h0M284.0 184.8h0M281.3 201.4h0M279.7 187.0h0M280.1 194.2h0M282.8 188.9h0M288.1 180.0h0M279.3 197.8h0M287.2 191.3h0M284.3 191.7h0M285.6 216.0h0M277.7 202.4h0M274.1 208.0h0M288.9 198.1h0M272.6 201.9h0M288.5 209.2h0M286.2 178.4h0M275.8 212.7h0M272.0 209.6h0M293.6 205.7h0M288.3 194.2h0M272.0 196.6h0M279.1 197.2h0M285.3 196.2h0M281.8 202.2h0M280.5 217.1h0M283.6 198.6h0M279.1 191.1h0M289.8 199.3h0M273.0 191.8h0M279.6 193.0h0M288.0 185.4h0M283.9 199.2h0M272.3 198.2h0M279.8 203.0h0M277.4 200.9h0M268.9 186.3h0M286.0 208.7h0M280.4 191.4h0M288.0 175.6h0M274.9 204.8h0M285.0 186.8h0M267.4 213.0h0M281.6 188.2h0M280.9 207.2h0M262.5 209.4h0M285.6 175.7h0M285.9 178.9h0M288.4 201.9h0M296.2 191.3h0M280.5 208.7h0M276.1 190.3h0M277.9 196.9h0M273.0 202.8h0M284.3 198.5h0M292.3 194.2h0M289.6 191.9h0M285.8 177.3h0M281.9 195.8h0M277.1 191.3h0M278.1 190.1h0M265.3 191.4h0M276.7 192.2h0M273.1 196.3h0M286.0 195.1h0M277.1 212.0h0M287.3 207.4h0M288.5 194.2h0M279.6 209.4h0M276.6 196.4h0M283.1 201.6h0M278.6 208.1h0M279.3 205.4h0M287.9 204.7h0M285.6 185.5h0M271.4 191.2h0M283.8 213.5h0M272.0 200.9h0M274.6 190.0h0M278.6 205.0h0M282.0 210.1h0M273.6 207.1h0M287.0 198.4h0M283.8 191.8h0M272.9 193.4h0M276.0 228.2h0M277.1 215.1h0M281.9 201.0h0M285.7 189.5h0M286.9 201.7h0M270.0 204.0h0M284.3 202.5h0M291.5 193.3h0M284.1 205.6h0M274.2 210.4h0M270.4 184.0h0M284.1 186.2h0M279.7 180.3h0M281.0 185.7h0M282.9 181.5h0M283.6 194.9h0M280.9 197.0h0M281.4 183.8h0M262.7 198.1h0M274.0 192.9h0M283.5 176.8h0M275.2 191.3h0M273.2 201.1h0M279.5 189.0h0M273.7 206.2h0M275.9 203.9h0M283.6 177.7h0M273.0 197.7h0M282.9 205.9h0M286.1 208.6h0M277.9 195.5h0M285.9 193.2h0M287.8 180.9h0M285.0 195.9h0M266.8 208.0h0M282.7 197.9h0M273.0 192.8h0M291.0 189.0h0M256.4 188.7h0M272.2 196.3h0M277.8 188.1h0M274.6 208.8h0M270.5 218.3h0M276.7 186.2h0M286.0 203.7h0M273.3 205.6h0M267.7 188.0h0M288.3 195.0h0M271.5 203.1h0M286.9 197.5h0M267.9 194.0h0M283.4 205.8h0M293.4 195.0h0M277.1 197.3h0M288.9 187.8h0M289.6 168.7h0M286.0 190.6h0M283.7 205.0h0M272.3 196.8h0M282.2 203.9h0M274.0 187.2h0M267.1 224.5h0M279.2 195.4h0M270.1 207.5h0M276.8 212.8h0M286.4 197.9h0M285.6 186.0h0M278.2 191.6h0M271.7 197.9h0M279.5 212.8h0M257.2 190.6h0M274.1 192.8h0M283.4 202.0h0M280.7 192.7h0" stroke="#b898c0" stroke-width="0.6" stroke-linecap="round" opacity="0.35"/>
<path d="M282.4 186.5h0M269.2 187.1h0M270.6 182.3h0M280.2 185.7h0M278.9 181.5h0M277.1 181.8h0M282.1 188.1h0M290.1 188.7h0M274.5 184.7h0M274.7 188.3h0M290.7 185.9h0M266.1 183.1h0M273.0 189.7h0M279.7 186.9h0M287.8 179.4h0M277.1 195.5h0M280.2 181.7h0M266.7 181.7h0M266.4 189.4h0M280.7 189.9h0M277.7 182.7h0M277.6 195.1h0M270.1 188.9h0M280.2 188.3h0M277.7 188.4h0M283.5 183.8h0M276.6 185.4h0M273.9 186.1h0M277.9 187.0h0M288.0 189.5h0M277.7 188.9h0M281.8 188.6h0M279.7 186.8h0M275.9 182.8h0M285.5 190.1h0M283.3 186.6h0M280.2 183.2h0M270.6 191.1h0M279.7 182.9h0M275.7 192.7h0M271.8 196.0h0M285.5 195.2h0M275.5 186.5h0M276.8 187.0h0M277.3 182.6h0M284.1 180.6h0M277.3 188.8h0M275.9 184.4h0M280.8 183.5h0M272.6 186.9h0M280.2 193.5h0M274.6 191.5h0M274.7 185.1h0M277.9 187.3h0M286.0 192.1h0M277.5 192.4h0M285.6 187.8h0M276.3 190.7h0M279.2 187.3h0M278.7 188.9h0M286.6 189.0h0M279.4 190.3h0M285.9 179.4h0M285.5 177.6h0M282.9 187.5h0M287.5 184.7h0M275.8 182.7h0M273.6 190.8h0M277.2 182.7h0M281.2 181.4h0M276.4 184.2h0M289.8 189.7h0M276.6 178.8h0M280.9 185.5h0M281.8 187.6h0M278.7 190.2h0M284.0 185.3h0M276.6 184.0h0M281.7 179.7h0M277.6 182.5h0M272.6 190.3h0M279.2 185.8h0M282.2 177.7h0M279.3 187.0h0M282.4 179.6h0M283.4 185.6h0M287.9 188.7h0M284.8 194.4h0M278.8 183.7h0M276.4 181.9h0" stroke="#a0c8a8" stroke-width="0.6" stroke-linecap="round" opacity="0.35"/>
<path d="M283.2 187.3h0M279.6 200.0h0M284.0 196.6h0M285.7 195.2h0M282.9 187.3h0M279.4 192.7h0M284.2 201.7h0M276.5 199.7h0M282.3 196.8h0M281.0 196.1h0M281.4 187.7h0M278.4 204.5h0M285.2 197.3h0M278.6 196.0h0M282.7 200.3h0M278.2 199.2h0M279.1 200.3h0M281.4 189.5h0M279.6 201.8h0M277.4 196.2h0M283.6 196.4h0M275.6 208.1h0M281.5 203.9h0M275.3 205.7h0M276.3 193.6h0M280.8 205.4h0M278.7 193.4h0M283.9 187.5h0M281.6 201.2h0M278.4 200.2h0M282.4 200.0h0M279.9 206.2h0M278.9 198.2h0M277.5 202.8h0M278.6 199.9h0M280.8 198.2h0M285.7 198.6h0M283.5 203.2h0M284.6 197.9h0M282.2 202.5h0M278.3 198.6h0M280.2 197.4h0M285.4 194.9h0M278.0 187.1h0M280.1 193.9h0M279.7 200.7h0M285.2 200.7h0M282.9 194.2h0M280.3 205.4h0M287.2 188.4h0M280.9 206.8h0M285.1 190.4h0M278.8 200.6h0M282.9 193.7h0M276.5 202.1h0M274.6 204.3h0M280.1 199.3h0M277.4 193.5h0M284.6 190.4h0M288.6 191.9h0M276.9 197.0h0M280.9 202.0h0M279.7 196.3h0M280.6 194.5h0M271.6 200.8h0M281.0 198.7h0M278.3 198.5h0M280.6 197.3h0M286.2 189.5h0M282.7 192.3h0M277.4 205.4h0M277.5 196.3h0M277.4 202.3h0M280.0 188.0h0M282.5 196.2h0M278.0 203.2h0M278.4 195.0h0M280.3 200.0h0M277.5 202.8h0M287.6 197.3h0M289.0 188.0h0M285.1 197.0h0M281.4 196.0h0M280.5 190.4h0M277.5 204.2h0M284.3 196.8h0M280.0 193.6h0M274.4 206.3h0M282.3 198.8h0M280.5 191.9h0M283.2 202.9h0M276.3 202.2h0M276.4 200.2h0M278.3 194.8h0M281.3 200.4h0M284.6 194.1h0M283.2 206.0h0M279.8 200.2h0M278.4 196.3h0M276.5 197.1h0M279.2 205.0h0M282.1 202.7h0M279.8 196.2h0M279.2 198.6h0M273.8 200.3h0M276.7 193.7h0M281.3 195.0h0M285.5 198.5h0M283.4 205.1h0M278.5 199.4h0M284.8 197.0h0M281.5 194.8h0M281.2 195.9h0M279.3 203.1h0M284.4 199.5h0M279.9 202.4h0M281.2 191.9h0M285.1 193.6h0M284.6 193.3h0M287.3 193.6h0M280.9 206.3h0M275.6 204.8h0M280.6 187.7h0M281.6 202.0h0M283.5 184.2h0M280.8 196.0h0M279.8 195.9h0M276.1 193.3h0M283.6 207.3h0M280.5 193.7h0M280.2 203.6h0M284.3 192.1h0M280.8 198.6h0M283.0 205.1h0M280.3 204.5h0M277.2 205.5h0M278.7 199.5h0M284.5 193.6h0M280.9 187.9h0M281.1 197.5h0M278.8 200.1h0M274.4 195.9h0M281.1 196.4h0M280.3 207.6h0M280.5 192.4h0M278.6 197.7h0M283.4 193.6h0M284.9 193.1h0M282.3 200.6h0M278.8 209.5h0M280.0 196.6h0M280.7 202.6h0M276.2 198.1h0M277.4 200.5h0M284.4 199.0h0M279.9 198.6h0M270.8 199.5h0M281.9 199.0h0M280.4 193.5h0M278.3 204.0h0M278.3 204.7h0M273.6 193.3h0M281.3 197.8h0M276.6 192.9h0M286.0 191.9h0M279.2 191.1h0M278.0 200.7h0M285.1 187.4h0M285.6 195.7h0M276.4 206.1h0M282.0 191.1h0M279.7 193.4h0M278.0 195.1h0M282.6 200.2h0M272.5 211.4h0M277.4 197.5h0M279.5 201.7h0M278.9 199.9h0M286.5 199.9h0M276.9 198.6h0M278.7 195.1h0M280.6 199.6h0M278.5 202.0h0M281.8 190.7h0M283.6 196.5h0M285.0 195.2h0M281.7 199.8h0M274.7 187.7h0M275.2 204.3h0M273.7 201.1h0M283.0 201.2h0M283.2 195.6h0M280.2 198.9h0M280.7 201.8h0M280.9 193.8h0M278.3 199.4h0M277.4 189.8h0M280.1 194.5h0M283.5 183.4h0M279.9 196.1h0M285.6 187.8h0M278.9 200.0h0M280.2 204.4h0M285.1 193.0h0M282.8 196.4h0M276.0 205.2h0M279.9 192.7h0M280.5 192.9h0M282.9 200.5h0M284.0 201.0h0M277.2 202.8h0M279.2 194.7h0M280.0 197.8h0M284.9 195.4h0M281.6 197.8h0M278.4 190.9h0M279.3 199.7h0M280.8 200.5h0M281.3 195.4h0M283.2 192.7h0M277.0 194.9h0M277.0 193.8h0M279.1 194.2h0M281.5 193.4h0M281.7 188.3h0M282.2 193.1h0M285.7 183.0h0M277.8 198.4h0M273.9 193.9h0M280.6 198.3h0M275.8 197.7h0M282.3 192.7h0M282.8 198.0h0M281.2 195.3h0M282.0 198.6h0M283.2 201.0h0M279.0 196.0h0M283.7 196.5h0M280.9 200.8h0M283.3 185.2h0M280.6 198.9h0M282.0 193.8h0M284.2 197.9h0M279.7 193.4h0M283.1 192.2h0M274.7 207.6h0M282.9 204.3h0M283.7 201.9h0M273.8 202.7h0M283.4 201.3h0" stroke="#cf92cb" stroke-width="0.6" stroke-linecap="round" opacity="0.4"/>
<ellipse cx="280.5" cy="197.7" rx="4.2749999999999995" ry="9.025" transform="rotate(15 280.5 197.7)" fill="#cf92cb" opacity="0.7" filter="url(#bl)"/>
<ellipse cx="280.5" cy="197.7" rx="3.375" ry="7.6000000000000005" transform="rotate(15 280.5 197.7)" fill="#a94ea1" opacity="0.9" filter="url(#bl)"/>
<path d="M276.0 201.2h0M283.3 196.6h0M280.0 200.5h0M279.3 201.6h0M280.0 200.2h0M282.1 192.5h0M275.8 208.5h0M279.7 202.5h0M280.8 204.3h0M282.0 195.8h0M282.4 190.9h0M279.3 200.8h0M276.7 197.4h0M280.6 202.8h0M279.6 195.0h0M278.3 193.2h0M279.4 205.3h0M277.3 202.1h0M281.7 196.1h0M286.6 189.7h0M280.2 198.4h0M282.4 205.1h0M284.2 199.2h0M280.9 203.0h0M281.0 199.2h0M280.6 196.2h0M276.6 204.1h0M281.7 190.1h0M281.0 197.7h0M279.1 204.3h0M280.6 196.7h0M279.3 197.3h0M279.6 198.2h0M285.4 200.5h0M277.2 204.2h0M281.2 201.0h0M280.9 200.9h0M280.3 203.0h0M280.9 203.0h0M279.7 197.5h0M278.4 200.8h0M282.4 196.4h0M279.0 207.3h0M283.7 194.3h0M279.7 199.9h0M280.1 199.1h0M282.2 199.4h0M278.0 199.8h0M280.2 198.1h0M280.9 192.5h0M278.7 195.9h0M281.3 187.5h0M283.6 194.1h0M278.8 199.3h0M275.1 201.4h0M278.6 199.7h0M279.4 198.6h0M280.7 197.7h0M278.8 191.6h0M279.1 202.7h0M279.1 199.4h0M280.3 199.5h0M283.6 192.8h0M281.1 197.2h0M280.8 194.5h0M280.2 193.7h0M276.2 206.2h0M283.4 198.5h0M282.7 194.5h0M277.5 189.9h0M279.4 202.9h0M281.4 194.1h0M281.0 194.0h0M278.4 196.2h0M280.6 194.6h0M279.9 194.0h0M279.6 202.8h0M278.0 205.6h0M277.5 197.9h0M278.7 196.6h0M280.1 199.7h0M282.9 196.2h0M278.6 196.5h0M281.7 195.3h0M280.4 204.1h0M277.7 198.4h0M284.1 191.3h0M281.1 197.0h0M276.8 201.8h0M281.3 196.1h0M280.6 200.2h0M281.2 200.1h0M282.3 193.7h0M279.7 198.0h0M273.8 204.1h0M280.9 193.8h0M277.2 197.8h0M281.1 195.6h0M280.6 194.3h0M279.3 197.0h0M278.8 199.8h0M280.1 198.1h0M280.0 202.4h0M281.3 198.8h0M281.0 194.7h0M279.3 200.0h0M281.3 196.4h0M279.7 191.6h0M280.1 201.5h0M282.4 193.0h0M279.9 198.4h0M278.6 198.5h0M281.0 194.6h0M277.6 200.0h0M282.0 194.7h0M277.9 200.4h0M281.8 196.9h0M283.5 197.4h0M277.7 201.1h0M279.9 198.8h0M281.5 194.1h0M278.7 196.5h0M283.8 194.7h0M282.6 199.1h0M278.4 198.1h0M282.3 194.7h0M276.6 198.0h0M278.2 198.8h0M277.4 196.3h0M280.5 192.0h0M279.9 198.2h0M280.7 193.2h0M282.5 191.6h0M280.9 199.7h0M282.5 201.6h0M280.8 198.8h0M281.8 193.0h0M282.5 200.2h0M281.1 193.5h0M282.5 200.3h0M277.9 199.6h0M283.7 198.5h0M281.6 196.4h0M278.4 201.2h0M285.6 199.5h0M279.5 200.5h0M279.3 200.2h0M282.9 194.5h0M278.8 197.0h0M281.6 199.1h0M283.9 193.4h0M281.9 195.7h0M280.4 198.9h0M279.1 196.4h0M278.3 198.1h0M279.5 195.6h0M281.5 195.5h0M283.0 195.9h0M281.7 199.1h0M279.0 196.5h0M279.4 196.0h0M278.3 204.1h0M278.3 203.1h0M282.5 193.3h0M276.0 199.1h0M276.5 199.4h0M281.9 199.6h0M280.4 196.7h0M281.2 196.7h0M280.0 196.1h0M283.1 196.0h0M282.2 193.8h0M280.6 192.5h0M279.5 200.0h0M281.5 196.1h0M281.9 196.7h0M280.9 198.8h0M283.8 189.1h0M277.6 199.9h0M278.2 205.6h0M280.6 195.6h0M282.5 200.3h0M283.2 200.4h0M279.5 200.2h0M279.6 195.8h0M279.8 196.7h0M282.3 196.3h0M281.5 196.1h0M284.6 188.3h0M280.0 198.2h0M277.7 200.8h0M279.6 202.3h0M281.5 200.4h0M281.3 193.8h0M280.6 196.0h0M281.4 196.2h0M287.2 193.4h0M282.9 196.6h0M279.2 200.9h0M281.7 193.4h0" stroke="#8a3585" stroke-width="0.6" stroke-linecap="round" opacity="0.3"/>
<path d="M280.4 185.0h0M273.6 187.5h0M276.0 185.1h0M280.8 185.7h0M279.5 189.5h0M280.2 184.3h0M279.9 185.2h0M272.4 184.6h0M276.3 190.1h0M278.7 185.3h0M278.2 187.7h0M280.1 188.4h0M282.2 187.8h0M279.1 186.3h0M278.0 185.6h0M274.2 185.9h0M276.3 185.2h0M282.8 185.1h0M283.1 186.1h0M282.3 186.6h0M278.0 187.4h0M278.2 185.0h0M283.6 188.3h0M277.3 189.2h0M281.2 183.6h0M280.2 186.0h0M280.2 184.7h0M275.7 186.6h0M282.1 186.3h0M281.6 187.0h0M276.5 186.3h0M280.7 187.0h0M280.0 186.4h0M280.6 189.0h0M273.2 187.2h0M286.3 184.1h0M274.2 187.2h0M275.0 185.5h0M280.7 188.3h0M280.9 186.4h0M282.2 185.2h0M276.9 186.1h0M280.1 184.9h0M277.3 185.5h0M274.6 185.0h0M278.9 185.1h0M280.0 187.9h0M280.1 185.3h0M275.5 184.7h0M280.0 183.9h0M280.0 183.5h0M279.6 185.4h0M281.9 184.2h0M278.4 186.3h0M280.2 188.4h0M278.3 184.9h0M278.6 186.6h0M280.3 186.6h0M276.6 190.8h0M284.4 184.2h0M276.0 186.8h0M279.5 181.6h0M278.7 183.1h0M281.2 187.6h0M281.5 182.3h0M283.6 186.1h0M278.5 186.7h0M283.4 183.9h0M279.0 184.7h0M281.6 181.1h0M282.8 182.9h0M281.2 182.2h0M276.4 185.3h0M280.9 182.3h0M280.7 184.1h0M282.6 184.2h0M280.6 184.9h0M284.1 183.7h0M280.1 188.9h0M279.8 186.7h0M277.3 186.5h0M273.0 187.5h0M276.8 183.6h0M275.9 188.6h0M279.8 182.7h0M284.0 183.1h0M278.4 186.3h0M275.4 183.7h0M277.8 188.1h0M281.2 182.2h0M282.7 184.8h0M280.7 185.3h0M280.0 183.6h0M276.4 185.1h0M278.6 186.9h0M276.6 189.2h0M277.3 185.1h0M281.5 185.8h0M277.9 184.1h0M275.8 183.7h0M283.0 186.6h0M284.7 185.0h0M280.6 186.6h0M281.8 184.5h0M281.2 188.9h0M273.9 184.5h0M277.0 187.6h0M282.5 184.1h0M281.2 185.0h0M279.9 184.5h0M279.2 185.6h0M283.5 188.5h0M274.5 187.8h0M279.7 187.2h0M282.6 186.1h0M281.1 183.4h0M275.3 189.7h0M282.2 183.1h0M283.2 185.8h0M272.9 188.9h0" stroke="#70b070" stroke-width="0.6" stroke-linecap="round" opacity="0.35"/>
<ellipse cx="279.3" cy="185.6" rx="5.25" ry="3.1500000000000004" transform="rotate(-15 279.3 185.6)" fill="#8cc49a" opacity="0.6" filter="url(#bl)"/>
<ellipse cx="279.3" cy="185.6" rx="4.0" ry="2.25" transform="rotate(-15 279.3 185.6)" fill="#318a48" opacity="0.9" filter="url(#bl)"/>
<line x1="250.20" y1="229.00" x2="293.50" y2="229.00" stroke="#111" stroke-width="1.3"/>
<path d="M292.9 227.2 L297.5 229.0 L292.9 230.8Z" fill="#111"/>
<text transform="translate(265.30,238.60)" font-size="8.6" textLength="14.40" lengthAdjust="spacingAndGlyphs" font-weight="normal" fill="#222" class="c">CD19</text>
<rect x="303.3" y="171.9" width="50" height="50.5" fill="#fff" stroke="#c8c8c8" stroke-width="0.6"/>
<line x1="303.30" y1="171.90" x2="303.30" y2="222.40" stroke="#666" stroke-width="0.8"/>
<line x1="303.30" y1="222.40" x2="353.30" y2="222.40" stroke="#666" stroke-width="0.8"/>
<line x1="313.30" y1="222.40" x2="313.30" y2="221.40" stroke="#666" stroke-width="0.5"/>
<line x1="303.30" y1="182.00" x2="304.30" y2="182.00" stroke="#666" stroke-width="0.5"/>
<line x1="323.30" y1="222.40" x2="323.30" y2="221.40" stroke="#666" stroke-width="0.5"/>
<line x1="303.30" y1="192.10" x2="304.30" y2="192.10" stroke="#666" stroke-width="0.5"/>
<line x1="333.30" y1="222.40" x2="333.30" y2="221.40" stroke="#666" stroke-width="0.5"/>
<line x1="303.30" y1="202.20" x2="304.30" y2="202.20" stroke="#666" stroke-width="0.5"/>
<line x1="343.30" y1="222.40" x2="343.30" y2="221.40" stroke="#666" stroke-width="0.5"/>
<line x1="303.30" y1="212.30" x2="304.30" y2="212.30" stroke="#666" stroke-width="0.5"/>
<path d="M324.3 208.7h0M326.6 191.0h0M319.9 195.9h0M339.8 191.7h0M317.5 217.8h0M346.2 204.3h0M327.8 186.6h0M319.2 203.1h0M342.0 188.0h0M331.9 195.3h0M329.9 202.6h0M348.2 192.0h0M338.5 208.0h0M329.7 196.5h0M321.5 207.9h0M327.8 191.8h0M332.4 189.9h0M323.8 195.1h0M343.5 196.0h0M336.0 184.3h0M316.8 214.8h0M328.8 183.6h0M331.1 203.5h0M318.5 189.7h0M333.9 189.3h0M338.1 206.9h0M335.4 193.9h0M331.6 192.0h0M330.9 200.9h0M329.6 207.0h0M352.1 192.8h0M334.6 205.6h0M336.9 195.7h0M328.2 207.3h0M336.8 202.6h0M325.7 203.8h0M338.1 196.2h0M336.9 218.1h0M317.3 203.6h0M322.8 185.2h0M330.1 203.0h0M332.3 187.0h0M320.7 192.7h0M332.0 190.2h0M320.2 214.3h0M325.4 196.4h0M327.7 192.4h0M332.2 195.1h0M336.7 186.8h0M320.4 216.1h0M331.3 205.1h0M341.1 203.1h0M332.2 183.4h0M319.4 207.0h0M337.2 203.2h0M319.0 178.0h0M323.7 186.9h0M333.2 188.3h0M344.3 192.1h0M327.5 206.0h0M334.5 189.5h0M338.3 215.9h0M322.3 195.6h0M323.5 179.7h0M336.8 204.4h0M339.5 201.9h0M316.2 197.6h0M326.7 186.9h0M323.3 205.1h0M329.6 216.3h0M335.6 180.0h0M338.9 209.6h0M332.2 186.5h0M345.8 185.6h0M331.3 180.0h0M322.1 182.0h0M340.5 209.0h0M328.8 185.2h0M331.5 201.5h0M320.0 187.0h0M331.1 204.5h0M332.5 202.1h0M322.1 174.5h0M334.4 189.3h0M331.0 194.4h0M335.7 190.6h0M343.3 198.2h0M336.1 203.8h0M340.1 201.7h0M318.2 192.0h0M346.5 202.4h0M336.3 202.3h0M326.9 191.5h0M326.8 208.8h0M334.8 214.7h0M335.8 215.7h0M335.5 186.7h0M345.6 201.1h0M341.3 199.9h0M329.3 199.5h0M323.1 186.6h0M324.9 192.9h0M321.2 196.9h0M334.3 217.1h0M346.5 197.4h0M338.9 195.8h0M335.0 197.6h0M327.7 198.6h0M320.2 202.1h0M329.6 187.6h0M329.1 203.2h0M326.5 202.4h0M336.4 212.7h0M323.3 196.8h0M336.0 212.1h0M334.0 205.1h0M320.3 192.4h0M345.1 195.2h0M349.1 191.0h0M329.7 182.7h0M337.0 200.4h0M347.9 199.5h0M329.9 184.5h0M331.3 206.9h0M337.8 209.6h0M338.8 197.5h0M336.7 199.5h0M321.3 214.2h0M334.9 187.9h0M335.0 200.6h0M339.9 211.7h0M307.7 203.2h0M344.1 188.9h0M317.1 200.6h0M334.6 201.2h0M323.1 193.4h0M333.5 205.0h0M349.4 200.7h0M327.1 175.4h0M340.5 196.6h0M331.1 188.5h0M337.8 180.8h0M332.8 199.1h0M334.3 210.4h0M331.1 198.8h0M338.8 183.1h0M329.6 198.5h0M339.6 190.2h0M338.3 201.6h0M320.0 183.7h0M320.5 199.2h0M333.6 204.8h0M338.5 192.6h0M340.5 205.7h0M335.7 202.5h0M321.6 201.4h0M323.7 186.5h0M329.1 199.2h0M331.5 194.7h0M323.9 199.7h0M326.0 184.4h0M332.7 211.8h0M328.7 187.7h0M343.0 214.3h0M329.6 195.9h0M333.6 226.2h0M333.0 207.4h0M335.5 180.4h0M323.1 186.1h0M335.4 198.9h0M346.3 195.3h0M334.4 198.6h0M333.0 220.2h0M334.2 212.0h0M342.3 192.1h0M337.4 194.2h0M332.8 199.4h0M332.1 193.4h0M344.4 195.4h0M337.6 214.0h0M336.9 207.8h0M343.1 208.4h0M345.7 184.2h0M347.6 198.2h0M317.9 191.7h0M320.7 197.7h0M320.0 188.2h0M334.3 199.4h0M325.5 195.6h0M331.1 198.6h0M331.9 195.8h0M339.0 182.4h0M328.0 199.2h0M328.7 192.6h0M328.4 199.9h0M341.9 196.1h0M329.8 201.3h0M330.0 179.3h0M334.1 194.3h0M327.3 204.0h0M332.3 192.5h0M314.4 181.3h0M332.0 196.8h0M335.4 200.1h0M328.1 185.7h0M323.1 196.6h0M322.7 205.2h0M321.3 180.6h0M330.4 180.8h0M345.0 188.3h0M331.5 195.5h0M325.3 180.8h0M316.9 206.2h0M340.1 218.8h0M320.2 203.3h0M331.8 206.1h0M327.8 204.9h0M339.1 203.8h0M343.6 196.2h0M344.4 191.1h0" stroke="#b898c0" stroke-width="0.6" stroke-linecap="round" opacity="0.35"/>
<path d="M350.2 174.1h0M331.5 182.1h0M331.3 189.6h0M339.5 185.8h0M350.6 179.3h0M322.1 191.6h0M335.0 176.9h0M335.2 180.5h0M348.1 190.1h0M325.1 190.7h0M321.8 189.2h0M337.9 184.9h0M315.2 184.2h0M305.3 183.1h0M310.3 190.4h0M320.3 175.4h0M337.9 186.9h0M325.5 194.1h0M340.1 185.7h0M324.0 173.2h0M336.7 189.4h0M324.6 179.6h0M330.8 178.5h0M331.4 188.6h0M348.4 186.5h0M333.5 188.5h0M347.2 184.1h0M317.4 182.1h0M317.0 181.7h0M329.9 186.8h0M333.1 185.7h0M327.2 187.1h0M341.3 188.5h0M348.3 184.2h0M328.4 192.4h0M333.6 187.1h0M327.5 189.4h0M326.7 181.2h0M330.6 183.6h0M340.8 183.8h0M332.7 184.5h0M335.2 182.8h0M343.8 179.5h0M326.9 182.5h0M338.7 185.6h0M336.8 184.0h0M323.2 180.8h0M327.5 183.2h0M334.5 186.9h0M342.4 185.0h0M322.8 181.0h0M332.0 186.9h0M353.4 186.1h0M351.2 193.1h0M319.4 190.4h0M344.2 190.9h0M331.2 189.3h0M325.8 185.1h0M331.5 192.7h0M328.9 189.3h0M332.0 182.5h0M334.1 188.1h0M323.2 188.0h0M323.2 181.8h0M333.8 184.4h0M320.1 178.7h0M331.6 186.4h0M326.1 186.2h0M314.0 187.0h0M336.0 186.5h0M324.3 185.7h0M332.8 189.8h0M334.4 186.4h0M323.1 189.0h0M344.6 183.4h0M338.6 186.7h0M330.8 180.1h0M351.2 177.7h0M334.7 183.9h0M344.3 183.7h0M331.7 187.9h0M336.5 183.3h0M339.0 187.0h0M342.5 183.3h0M330.8 183.8h0M321.8 186.4h0M335.9 191.2h0M327.6 187.0h0M344.2 184.9h0M332.0 186.0h0" stroke="#a0c8a8" stroke-width="0.6" stroke-linecap="round" opacity="0.35"/>
<path d="M332.0 201.5h0M331.8 188.9h0M332.2 203.2h0M332.1 193.1h0M333.6 200.5h0M336.5 191.3h0M333.9 207.3h0M330.3 205.5h0M328.4 206.5h0M333.5 192.9h0M327.4 206.4h0M325.7 192.7h0M327.4 197.2h0M335.6 192.2h0M337.0 200.1h0M334.3 196.4h0M339.0 188.7h0M331.8 193.1h0M337.4 198.6h0M338.0 198.2h0M328.5 200.8h0M328.6 205.1h0M331.1 208.4h0M338.5 192.9h0M330.8 194.8h0M334.3 195.3h0M330.4 188.9h0M336.8 191.6h0M333.9 188.4h0M331.5 193.6h0M334.4 199.6h0M328.5 191.2h0M338.8 190.8h0M327.0 191.4h0M332.9 198.8h0M327.1 206.1h0M327.6 193.1h0M331.3 200.1h0M336.9 196.6h0M335.9 201.6h0M329.3 207.5h0M330.7 207.2h0M338.4 189.4h0M325.3 190.5h0M329.3 194.2h0M335.2 207.7h0M332.4 196.8h0M334.8 205.4h0M332.0 201.5h0M328.5 190.7h0M332.8 201.6h0M335.9 204.4h0M328.6 207.6h0M338.0 189.9h0M328.1 199.8h0M329.0 202.2h0M330.3 193.1h0M334.1 198.9h0M335.8 189.9h0M331.5 200.9h0M335.2 201.8h0M331.9 188.6h0M334.1 202.0h0M328.2 201.4h0M334.4 207.6h0M331.2 193.1h0M328.7 207.6h0M337.9 196.6h0M328.9 206.4h0M330.2 203.1h0M334.8 201.7h0M328.2 191.0h0M328.9 192.7h0M326.9 189.1h0M331.0 196.5h0M333.4 190.0h0M332.3 207.2h0M334.7 195.5h0M327.9 197.1h0M326.0 198.0h0M328.0 201.9h0M338.0 195.8h0M335.3 203.7h0M333.4 201.2h0M337.0 202.5h0M335.9 192.3h0M328.8 194.4h0M332.7 204.8h0M335.5 205.4h0M328.3 200.2h0M332.8 188.7h0M329.3 202.9h0M325.0 189.8h0M334.9 191.9h0M328.3 188.5h0M335.0 193.7h0M327.0 208.1h0M338.5 190.7h0M328.2 207.8h0M332.3 195.1h0M331.0 194.8h0M329.0 198.0h0M326.1 189.5h0M326.4 191.6h0M334.1 200.9h0M336.1 193.7h0M330.0 203.0h0M328.1 198.2h0M332.2 207.0h0M327.2 189.4h0M330.5 202.3h0M328.8 202.7h0M334.9 204.3h0M333.5 190.3h0M335.1 192.2h0M334.8 204.5h0M326.5 193.0h0M332.5 201.7h0M327.8 191.2h0M327.2 200.0h0M328.8 201.1h0M331.1 193.6h0M334.6 199.1h0M335.6 189.0h0M329.3 192.8h0M334.0 201.2h0M336.5 200.7h0M329.5 192.5h0M329.1 201.7h0M328.3 191.5h0M335.2 203.8h0M336.8 202.7h0M329.7 204.3h0M335.0 194.7h0M333.9 189.5h0M325.7 190.2h0M327.7 198.7h0M335.3 207.0h0M328.2 197.6h0M332.3 190.8h0M330.2 198.8h0M332.1 202.7h0M327.5 203.9h0M330.6 189.8h0M328.9 198.1h0M328.6 201.8h0M331.8 194.8h0M334.8 202.6h0M331.3 195.8h0M335.9 207.0h0M327.3 200.8h0M333.7 197.5h0M325.9 194.0h0M335.5 208.0h0M331.7 191.0h0M329.5 200.8h0M335.9 189.8h0M331.0 203.8h0M330.7 190.1h0M338.9 190.3h0M329.1 189.4h0M327.8 203.8h0M326.0 190.5h0M332.6 191.7h0M328.2 205.1h0M335.9 191.9h0M329.9 196.9h0M328.5 190.9h0M327.9 207.8h0M335.4 193.6h0M335.7 206.2h0M337.6 197.9h0M329.4 200.5h0M334.6 197.7h0M327.7 203.1h0M338.5 192.3h0M336.7 190.5h0M328.7 195.2h0M331.7 193.5h0M328.2 208.2h0M329.8 205.5h0M335.6 191.9h0M327.9 195.2h0M336.1 196.8h0M332.4 205.7h0M336.2 188.6h0M336.5 200.5h0M329.9 207.4h0M335.0 205.4h0M330.3 193.7h0M330.1 195.9h0M327.0 196.0h0M337.8 192.9h0M333.7 196.6h0M334.2 206.1h0M337.8 193.3h0M336.9 204.5h0M334.6 203.0h0M329.1 204.7h0M330.4 201.5h0M327.9 205.2h0M329.9 199.2h0M330.1 204.8h0M335.3 205.3h0M328.0 206.0h0M334.0 207.2h0M333.5 201.9h0M337.7 189.4h0M331.4 199.4h0M335.8 195.2h0M335.7 204.0h0M329.9 192.7h0M326.7 193.4h0M325.8 194.9h0M328.8 204.3h0M325.9 189.8h0M328.4 203.2h0M330.7 197.6h0M336.5 204.4h0M333.8 194.6h0M331.3 206.3h0M334.0 206.4h0M337.0 194.6h0M327.2 199.9h0M335.7 200.1h0M331.7 198.8h0M336.8 196.7h0M328.5 201.7h0M330.2 195.6h0M333.5 207.6h0M338.1 190.9h0M333.6 189.1h0M334.7 197.0h0M326.8 197.0h0M335.8 198.9h0M330.2 204.2h0M335.5 192.8h0M328.7 204.4h0M336.6 206.1h0M330.5 197.1h0M336.5 202.6h0M329.4 192.4h0M335.1 195.0h0M332.8 192.1h0M334.0 198.4h0M338.7 191.3h0M332.1 208.4h0M328.3 204.3h0M332.1 206.6h0M335.7 203.6h0" stroke="#cf92cb" stroke-width="0.6" stroke-linecap="round" opacity="0.4"/>
<path d="M326.8 189.4 L337.8 189.4 C338.3 197.9 334.8 204.4 331.6 206.4 C328.3 204.4 326.3 197.9 326.8 189.4Z" fill="#cf92cb" opacity="0.7" filter="url(#bl)"/>
<path d="M328.0 190.6 L336.6 190.6 C337.1 197.9 333.6 203.2 331.6 205.2 C329.5 203.2 327.5 197.9 328.0 190.6Z" fill="#a94ea1" opacity="0.9" filter="url(#bl)"/>
<path d="M334.7 195.1h0M328.8 193.1h0M334.2 196.9h0M333.4 202.1h0M334.4 197.0h0M329.9 197.7h0M333.4 198.6h0M332.6 195.9h0M330.6 193.8h0M332.1 195.9h0M329.5 196.5h0M331.0 190.5h0M332.9 199.7h0M330.4 193.5h0M330.1 197.1h0M334.0 198.2h0M332.8 193.0h0M332.9 199.8h0M332.8 199.7h0M334.4 193.9h0M329.9 202.4h0M331.4 202.7h0M329.0 191.5h0M332.5 200.8h0M331.9 192.2h0M334.4 198.7h0M333.8 194.8h0M330.0 193.6h0M331.5 192.5h0M330.8 198.4h0M330.1 192.5h0M329.9 191.5h0M332.1 194.5h0M332.0 192.8h0M334.8 196.1h0M334.5 196.7h0M330.2 196.5h0M330.0 198.1h0M329.1 192.6h0M334.0 199.5h0M331.1 195.6h0M331.1 195.9h0M331.3 199.4h0M334.9 192.4h0M329.2 197.8h0M332.6 201.4h0M332.9 195.0h0M331.2 202.4h0M330.8 196.0h0M332.8 197.6h0M333.9 200.0h0M331.2 192.3h0M332.9 201.5h0M332.8 198.1h0M334.9 194.8h0M331.3 197.5h0M329.4 192.8h0M332.8 202.1h0M330.9 190.7h0M331.9 196.6h0M334.5 195.1h0M332.2 194.9h0M332.1 202.5h0M331.0 196.6h0M332.7 195.4h0M330.6 200.6h0M331.3 195.2h0M334.7 195.1h0M330.6 197.4h0M334.1 194.7h0M333.6 192.5h0M329.9 190.7h0M334.6 191.2h0M330.2 192.3h0M330.4 191.1h0M332.8 199.9h0M333.4 202.2h0M334.2 197.6h0M335.5 191.6h0M330.1 196.0h0M333.4 200.1h0M329.5 195.4h0M332.7 201.7h0M334.4 198.2h0M328.8 190.9h0M328.6 192.0h0M332.4 199.6h0M329.7 191.9h0M332.9 192.8h0M334.1 199.1h0M335.1 195.1h0M331.3 196.0h0M330.3 193.7h0M333.4 203.1h0M330.2 199.6h0M329.7 192.7h0M333.6 195.0h0M332.5 191.2h0M329.5 199.2h0M333.7 196.1h0M331.6 197.9h0M332.0 201.9h0M331.4 194.8h0M332.9 202.7h0M331.9 202.3h0M329.8 192.3h0M333.2 195.4h0M334.7 190.5h0M331.8 200.6h0M334.7 190.5h0M333.0 195.8h0M333.1 197.8h0M334.8 195.7h0M333.2 202.8h0M330.9 198.4h0M330.6 195.3h0M332.8 202.1h0M333.1 200.6h0M332.2 203.3h0M333.8 194.5h0M332.9 193.8h0M334.8 192.5h0M330.6 196.8h0M330.0 202.4h0M332.6 202.5h0M334.1 192.3h0M334.1 197.9h0M331.5 198.0h0M330.0 202.5h0M329.9 200.5h0M329.5 194.0h0M331.4 201.7h0M330.6 199.8h0M332.5 199.9h0M332.2 191.7h0M330.4 199.8h0M330.7 198.9h0M334.7 195.2h0M333.5 202.7h0M332.4 195.9h0M332.8 200.9h0M334.1 196.3h0M334.8 195.6h0M329.7 196.5h0M330.1 200.1h0M329.6 199.2h0M331.7 203.2h0M330.0 200.0h0M331.2 198.7h0M334.3 193.6h0M332.1 190.8h0M334.9 191.5h0M329.8 202.0h0M331.8 196.4h0M332.9 199.7h0M334.8 194.9h0M329.6 192.8h0M330.0 201.0h0M332.2 192.8h0M329.9 194.8h0M331.5 202.5h0M330.6 200.6h0M330.5 202.3h0M332.1 202.2h0M332.6 203.0h0M332.0 198.6h0M331.4 201.5h0M335.4 191.7h0M332.5 200.9h0M330.5 200.1h0M333.9 196.4h0M333.1 202.9h0M333.5 192.5h0M331.4 197.6h0M329.5 192.6h0M331.9 196.5h0M331.2 193.9h0M333.3 197.6h0M330.1 198.1h0M331.1 201.9h0M333.4 202.9h0M332.8 192.2h0M331.2 203.0h0M330.9 197.5h0M330.0 190.8h0M330.6 192.0h0M332.2 198.6h0M332.3 202.7h0M334.9 195.1h0M332.0 198.6h0M332.4 201.6h0M332.7 195.1h0M335.2 194.3h0M335.4 193.6h0M328.5 191.2h0M330.3 197.6h0M329.7 197.0h0M332.4 201.3h0M333.9 199.3h0M332.2 203.3h0" stroke="#8a3585" stroke-width="0.6" stroke-linecap="round" opacity="0.3"/>
<path d="M331.2 185.3h0M338.2 185.9h0M337.2 185.1h0M330.5 185.3h0M318.4 187.1h0M320.4 183.8h0M335.9 185.5h0M336.9 188.1h0M344.1 187.6h0M329.7 188.6h0M325.2 185.3h0M338.2 185.1h0M330.5 184.8h0M340.7 181.6h0M340.1 187.1h0M330.8 186.3h0M324.6 187.1h0M352.4 184.0h0M340.9 185.3h0M329.0 184.6h0M330.0 183.4h0M321.9 188.0h0M331.2 186.3h0M333.4 186.1h0M320.8 183.9h0M335.7 187.0h0M323.4 184.5h0M323.9 186.4h0M333.7 185.5h0M326.8 185.9h0M331.5 184.2h0M333.6 184.4h0M337.9 186.4h0M326.6 186.3h0M331.8 184.3h0M325.0 182.8h0M323.5 185.9h0M339.6 184.4h0M332.4 185.9h0M336.7 186.1h0M339.8 186.6h0M326.0 186.0h0M315.1 185.1h0M331.4 186.3h0M329.2 186.7h0M340.4 184.1h0M327.6 185.8h0M334.7 185.6h0M337.0 183.6h0M336.7 187.2h0M339.0 186.1h0M329.7 186.0h0M330.8 182.9h0M327.1 185.3h0M327.7 183.9h0M329.7 184.8h0M331.8 185.3h0M332.5 186.9h0M332.2 186.0h0M322.9 180.8h0M328.5 186.5h0M329.0 184.4h0M322.7 186.8h0M327.7 185.8h0M339.1 186.2h0M346.8 185.2h0M337.9 186.5h0M326.8 185.5h0M327.4 183.8h0M333.4 184.2h0M342.9 184.2h0M327.5 185.5h0M327.7 185.5h0M327.1 183.2h0M314.7 183.4h0M341.8 186.1h0M332.4 184.7h0M330.3 185.9h0M321.7 184.2h0M325.2 187.4h0M324.0 187.2h0M328.1 189.7h0M330.8 185.5h0M340.6 186.8h0M337.8 183.7h0M339.1 188.0h0M330.6 184.6h0M323.8 187.0h0M333.3 185.4h0M322.8 187.9h0M337.3 185.4h0M341.5 183.9h0M337.4 183.8h0M341.0 185.0h0M339.7 184.8h0M334.1 187.2h0M325.1 185.6h0M325.5 186.7h0M327.1 184.8h0M329.9 187.2h0M324.1 185.4h0M329.0 184.5h0M325.9 185.2h0M332.7 183.0h0M332.9 183.6h0M331.4 189.0h0M324.6 185.3h0M329.5 186.9h0M328.0 182.6h0M320.2 185.7h0M333.0 187.1h0M327.6 186.4h0M324.0 187.4h0M330.8 184.3h0M332.5 188.1h0M325.5 183.5h0M324.3 183.6h0M331.0 185.9h0M330.2 185.7h0M339.5 184.9h0" stroke="#70b070" stroke-width="0.6" stroke-linecap="round" opacity="0.35"/>
<ellipse cx="331.3" cy="185.4" rx="12.075000000000001" ry="2.7300000000000004" transform="rotate(0 331.3 185.4)" fill="#8cc49a" opacity="0.6" filter="url(#bl)"/>
<ellipse cx="331.3" cy="185.4" rx="9.200000000000001" ry="1.9500000000000002" transform="rotate(0 331.3 185.4)" fill="#318a48" opacity="0.9" filter="url(#bl)"/>
<line x1="304.00" y1="229.00" x2="347.30" y2="229.00" stroke="#111" stroke-width="1.3"/>
<path d="M346.7 227.2 L351.3 229.0 L346.7 230.8Z" fill="#111"/>
<text transform="translate(320.90,238.60)" font-size="8.6" textLength="10.80" lengthAdjust="spacingAndGlyphs" font-weight="normal" fill="#222" class="c">IgM</text>
<rect x="357.1" y="171.9" width="50" height="50.5" fill="#fff" stroke="#c8c8c8" stroke-width="0.6"/>
<line x1="357.10" y1="171.90" x2="357.10" y2="222.40" stroke="#666" stroke-width="0.8"/>
<line x1="357.10" y1="222.40" x2="407.10" y2="222.40" stroke="#666" stroke-width="0.8"/>
<line x1="367.10" y1="222.40" x2="367.10" y2="221.40" stroke="#666" stroke-width="0.5"/>
<line x1="357.10" y1="182.00" x2="358.10" y2="182.00" stroke="#666" stroke-width="0.5"/>
<line x1="377.10" y1="222.40" x2="377.10" y2="221.40" stroke="#666" stroke-width="0.5"/>
<line x1="357.10" y1="192.10" x2="358.10" y2="192.10" stroke="#666" stroke-width="0.5"/>
<line x1="387.10" y1="222.40" x2="387.10" y2="221.40" stroke="#666" stroke-width="0.5"/>
<line x1="357.10" y1="202.20" x2="358.10" y2="202.20" stroke="#666" stroke-width="0.5"/>
<line x1="397.10" y1="222.40" x2="397.10" y2="221.40" stroke="#666" stroke-width="0.5"/>
<line x1="357.10" y1="212.30" x2="358.10" y2="212.30" stroke="#666" stroke-width="0.5"/>
<path d="M364.1 174.8h0M386.8 190.3h0M379.3 200.9h0M390.1 181.8h0M368.6 197.6h0M380.9 208.0h0M375.5 177.0h0M400.9 181.1h0M368.3 200.7h0M367.0 220.9h0M386.7 202.1h0M376.5 218.3h0M391.3 190.0h0M402.2 180.6h0M374.2 199.7h0M385.2 187.6h0M407.1 211.1h0M368.9 200.5h0M373.5 192.7h0M398.1 198.1h0M381.5 197.9h0M365.3 208.7h0M371.7 209.5h0M376.1 192.5h0M405.7 198.7h0M373.4 191.7h0M392.3 215.0h0M392.4 193.1h0M366.1 190.4h0M381.3 199.3h0M373.1 209.3h0M368.5 190.0h0M390.7 201.5h0M377.2 206.2h0M361.7 212.7h0M416.3 215.7h0M384.9 215.9h0M383.9 209.7h0M380.1 198.8h0M391.1 180.0h0M379.9 213.5h0M338.7 200.6h0M397.1 200.1h0M386.1 210.3h0M388.2 178.6h0M368.7 194.0h0M385.3 192.6h0M381.5 213.0h0M338.5 208.0h0M397.3 202.7h0M383.3 197.5h0M388.6 199.2h0M372.1 204.4h0M370.6 196.5h0M377.7 185.8h0M392.3 196.2h0M365.4 196.2h0M362.2 210.7h0M390.9 216.0h0M374.5 203.7h0M368.4 188.7h0M381.7 200.9h0M397.1 194.3h0M399.8 206.2h0M369.8 195.2h0M369.2 213.3h0M374.7 205.4h0M397.0 194.5h0M375.7 200.2h0M371.4 184.7h0M368.5 200.2h0M386.0 213.8h0M355.4 201.7h0M365.6 208.0h0M393.6 198.1h0M405.4 193.3h0M375.1 186.8h0M373.2 198.0h0M393.3 209.2h0M379.0 189.9h0M378.0 192.8h0M376.0 193.0h0M369.9 196.4h0M375.4 195.3h0M362.2 198.3h0M391.8 203.1h0M374.8 186.0h0M363.4 185.7h0M373.4 193.9h0M356.3 203.3h0M359.9 190.3h0M372.2 204.8h0M410.8 193.5h0M379.0 193.1h0M380.1 195.3h0M420.3 186.5h0M381.5 189.4h0M388.5 191.9h0M391.8 186.6h0M414.9 198.9h0M356.5 203.6h0M376.0 185.9h0M389.7 192.0h0M394.2 191.7h0M396.7 198.3h0M388.5 198.4h0M377.6 193.5h0M389.9 203.7h0M377.0 218.2h0M408.5 186.0h0M399.4 196.2h0M386.6 189.4h0M407.9 189.1h0M381.9 190.0h0M412.1 208.8h0M363.3 192.6h0M388.6 192.8h0M377.8 186.7h0M386.9 186.5h0M395.6 219.7h0M378.2 212.5h0M388.7 190.5h0M377.9 187.8h0M384.8 203.6h0M397.1 194.3h0M365.2 196.2h0M408.2 199.6h0M382.2 177.2h0M376.6 202.1h0M368.9 209.7h0M374.6 188.7h0M374.4 196.0h0M398.1 191.6h0M356.4 196.2h0M390.9 211.5h0M366.3 211.0h0M393.2 201.2h0M371.6 188.6h0M368.8 205.8h0M386.4 207.0h0M410.3 197.1h0M382.4 215.1h0M363.6 192.7h0M377.6 193.3h0M385.3 189.0h0M400.5 184.0h0M370.9 180.9h0M362.1 202.5h0M392.5 195.1h0M395.7 202.8h0M374.5 196.6h0M388.6 216.0h0M376.5 200.4h0M391.3 208.5h0M389.5 207.1h0M367.2 194.5h0M354.2 196.5h0M418.0 199.2h0M384.4 199.5h0M385.3 184.4h0M372.8 195.3h0M385.6 188.8h0M381.5 190.0h0M363.4 190.7h0M371.1 204.9h0M403.1 202.4h0M379.9 191.7h0M359.6 192.0h0M406.5 207.8h0M386.5 194.6h0M383.2 200.9h0M383.0 201.0h0M371.6 197.4h0M377.9 207.1h0M364.6 209.2h0M381.8 192.2h0M383.4 198.1h0M379.6 201.0h0M374.5 181.0h0M393.5 196.7h0M408.0 200.6h0M353.2 208.7h0M372.8 202.1h0M416.3 207.2h0M366.8 196.1h0M359.1 203.3h0M391.5 187.3h0M389.9 205.8h0M395.2 190.7h0M372.8 186.4h0M363.8 199.9h0M383.7 209.2h0M387.2 193.9h0M361.8 211.5h0M385.6 196.7h0M368.1 187.1h0M392.6 187.8h0M391.8 202.9h0M377.4 181.7h0M389.2 210.2h0M370.8 185.1h0M399.4 198.3h0M373.8 208.5h0M379.0 201.2h0M377.1 189.9h0M386.4 188.9h0M356.6 191.9h0M401.5 207.3h0M415.5 206.3h0M407.2 199.3h0M376.6 201.4h0M368.9 203.9h0M376.4 199.4h0M370.4 195.7h0M397.7 195.0h0M373.1 199.6h0M396.2 195.2h0M365.7 182.4h0M363.1 207.0h0M381.8 201.5h0" stroke="#b898c0" stroke-width="0.6" stroke-linecap="round" opacity="0.35"/>
<path d="M402.3 180.9h0M394.5 180.2h0M370.3 190.8h0M388.5 185.7h0M376.2 186.4h0M412.6 174.1h0M391.5 187.6h0M386.4 184.6h0M364.2 192.9h0M385.0 189.2h0M387.7 182.5h0M394.1 181.2h0M384.3 190.3h0M401.0 180.6h0M399.6 183.6h0M396.1 181.7h0M390.4 184.6h0M396.2 182.8h0M382.4 185.0h0M393.7 178.6h0M389.7 186.0h0M390.9 181.9h0M388.4 181.9h0M400.6 179.0h0M368.0 184.7h0M392.9 183.2h0M382.3 180.5h0M386.6 181.1h0M381.2 185.6h0M380.2 187.0h0M379.8 184.3h0M387.7 189.1h0M408.9 181.6h0M380.3 185.8h0M400.8 183.2h0M369.5 188.5h0M380.9 188.4h0M396.3 179.6h0M414.6 175.6h0M418.3 175.0h0M389.8 190.1h0M382.4 183.6h0M406.8 178.6h0M393.7 177.7h0M411.5 181.0h0M394.0 184.7h0M382.7 183.5h0M370.6 189.8h0M404.7 182.4h0M400.8 182.9h0M376.9 182.0h0M397.0 182.0h0M400.7 179.4h0M378.9 187.8h0M381.0 179.7h0M381.0 182.5h0M375.2 185.2h0M402.6 188.3h0M409.5 176.5h0M402.8 179.5h0M393.3 179.9h0M386.7 178.1h0M409.9 175.1h0M395.6 179.6h0M391.3 178.6h0M385.4 187.7h0M394.5 175.0h0M398.2 176.3h0M393.0 184.3h0M381.1 184.5h0M386.5 185.6h0M401.3 185.1h0M394.8 189.1h0M379.3 192.5h0M386.7 186.9h0M387.7 184.1h0M378.4 187.7h0M413.6 177.4h0M388.9 183.5h0M397.5 180.5h0M389.3 184.2h0M405.6 182.4h0M375.9 184.7h0M390.1 186.2h0M400.6 179.7h0M414.5 176.1h0M407.3 183.7h0M408.5 179.0h0M394.7 176.5h0M367.2 187.1h0" stroke="#a0c8a8" stroke-width="0.6" stroke-linecap="round" opacity="0.35"/>
<path d="M389.0 202.1h0M382.3 202.0h0M387.9 204.4h0M370.0 193.0h0M375.2 191.9h0M396.7 192.5h0M376.3 195.1h0M390.4 194.7h0M389.2 199.6h0M377.8 185.5h0M375.6 190.9h0M396.6 193.5h0M374.3 198.8h0M383.5 192.4h0M392.1 201.4h0M385.4 193.3h0M375.9 187.0h0M386.3 198.9h0M375.5 197.1h0M410.1 191.5h0M369.1 199.9h0M379.6 194.6h0M388.2 196.3h0M391.3 199.5h0M392.7 197.6h0M365.3 203.6h0M369.1 202.0h0M385.2 190.2h0M383.6 201.2h0M374.7 197.2h0M377.0 192.1h0M378.0 203.1h0M388.8 196.8h0M382.4 197.6h0M385.5 197.9h0M369.0 201.4h0M376.0 184.3h0M388.9 191.1h0M381.9 196.5h0M378.2 199.6h0M380.9 195.6h0M375.2 195.6h0M374.6 197.2h0M394.0 201.9h0M386.6 190.4h0M391.6 201.5h0M400.1 186.0h0M383.2 195.3h0M392.1 191.7h0M380.0 208.2h0M391.3 187.3h0M383.3 203.6h0M378.0 199.8h0M383.9 189.9h0M377.9 202.5h0M392.9 194.0h0M392.4 193.5h0M385.1 196.8h0M372.8 198.5h0M379.9 183.6h0M376.3 192.8h0M376.2 192.2h0M377.4 185.0h0M390.5 197.3h0M385.2 195.6h0M383.6 195.7h0M374.1 189.6h0M383.7 201.9h0M385.0 204.8h0M371.8 195.6h0M378.0 202.9h0M397.1 194.4h0M389.1 195.8h0M374.8 196.4h0M374.5 204.5h0M388.0 202.7h0M386.1 185.1h0M389.7 197.4h0M363.4 197.4h0M391.5 205.3h0M374.6 200.8h0M385.9 196.1h0M380.8 199.5h0M387.9 200.1h0M379.7 190.5h0M394.0 203.3h0M378.4 196.8h0M389.8 188.4h0M387.2 208.7h0M385.3 193.5h0M400.0 197.0h0M384.9 194.8h0M384.6 188.2h0M372.5 189.7h0M390.6 196.5h0M392.6 187.0h0M378.1 204.0h0M376.6 187.8h0M376.9 195.2h0M383.0 203.3h0M394.1 204.5h0M387.9 194.5h0M379.0 189.7h0M393.6 203.0h0M383.8 192.6h0M388.7 199.3h0M384.4 191.2h0M385.1 194.1h0M389.2 199.8h0M386.7 194.8h0M395.7 200.7h0M393.6 201.0h0M388.6 198.8h0M374.3 188.0h0M375.4 199.9h0M390.6 197.8h0M383.8 205.9h0M379.8 188.2h0M370.3 195.3h0M388.9 200.5h0M381.3 200.9h0M382.7 193.4h0M380.0 200.6h0M391.0 191.4h0M374.9 197.5h0M400.6 191.2h0M372.8 199.0h0M387.3 193.9h0M382.9 199.3h0M368.7 196.8h0M388.1 201.4h0M392.7 196.6h0M371.2 203.5h0M389.5 193.8h0M391.6 202.0h0M382.0 185.4h0M379.2 193.2h0M376.2 196.5h0M374.2 198.8h0M398.7 191.1h0M391.7 194.3h0M387.6 196.3h0M393.7 193.4h0M389.1 193.1h0M385.0 196.8h0M392.1 189.2h0M372.0 203.7h0M386.3 205.2h0M374.6 197.9h0M388.1 205.5h0M382.7 194.7h0M389.0 196.4h0M376.9 200.6h0M367.4 191.9h0M394.3 194.5h0M380.4 198.7h0M392.3 199.5h0M375.2 194.1h0M391.7 196.3h0M377.9 201.2h0M392.5 207.5h0M374.3 193.4h0M377.4 198.6h0M379.2 202.4h0M361.0 201.6h0M377.8 195.6h0M387.8 197.9h0M374.8 204.2h0M387.8 194.5h0M384.8 191.5h0M373.0 195.4h0M386.1 197.4h0M376.7 190.1h0M369.3 204.7h0M386.1 193.0h0M392.8 199.5h0M379.7 193.9h0M392.4 198.5h0M396.5 198.7h0M378.3 194.0h0M377.3 198.1h0M385.2 199.9h0M386.8 191.8h0M381.4 192.3h0M387.1 190.5h0M378.3 192.7h0M378.0 195.6h0M395.5 195.7h0M371.4 195.4h0M389.2 199.6h0M385.1 206.6h0M392.2 197.3h0M393.0 190.4h0M381.7 192.7h0M384.6 204.8h0M379.0 204.7h0M374.8 203.9h0M369.3 192.7h0M391.3 196.5h0M384.3 196.8h0M384.6 196.0h0M375.1 195.5h0M384.0 192.5h0M386.9 205.5h0M369.7 194.2h0M380.8 197.0h0M383.9 193.4h0M382.8 196.9h0M382.4 204.4h0M384.2 189.7h0M370.3 199.8h0M380.3 193.9h0M372.0 195.4h0M382.4 193.5h0M380.2 201.2h0M389.5 199.6h0M381.7 190.3h0M389.4 204.2h0M393.5 202.6h0M385.4 198.7h0M383.0 203.0h0M380.9 207.4h0M389.4 195.3h0M383.1 189.0h0M377.1 195.4h0M403.1 192.9h0M390.6 197.3h0M380.7 200.0h0M366.8 201.5h0M398.9 198.3h0M382.6 197.7h0M388.5 194.5h0M384.1 199.4h0M380.3 198.8h0M385.8 200.4h0M375.1 194.3h0M379.6 202.8h0M385.1 188.8h0M372.7 206.4h0M385.9 190.6h0M375.7 197.6h0M394.7 204.8h0M380.1 195.4h0M398.8 192.1h0M395.9 198.6h0M383.9 203.2h0M387.0 192.8h0M370.7 197.0h0M387.3 203.6h0M361.8 203.5h0" stroke="#cf92cb" stroke-width="0.6" stroke-linecap="round" opacity="0.4"/>
<ellipse cx="383.1" cy="196.9" rx="11.399999999999999" ry="8.075" transform="rotate(0 383.1 196.9)" fill="#cf92cb" opacity="0.7" filter="url(#bl)"/>
<ellipse cx="383.1" cy="196.9" rx="9.0" ry="6.800000000000001" transform="rotate(0 383.1 196.9)" fill="#a94ea1" opacity="0.9" filter="url(#bl)"/>
<path d="M386.0 201.9h0M386.8 197.6h0M385.1 198.2h0M380.2 196.5h0M383.7 195.4h0M376.3 192.2h0M385.5 198.6h0M383.6 193.1h0M387.1 195.6h0M373.4 202.0h0M376.1 204.3h0M385.6 195.5h0M372.1 194.6h0M390.0 201.3h0M384.3 191.3h0M381.3 196.0h0M385.3 196.5h0M384.7 191.6h0M380.1 201.6h0M376.3 199.9h0M393.9 199.0h0M376.6 201.0h0M374.5 198.0h0M381.2 200.9h0M388.6 197.5h0M391.5 200.1h0M380.9 193.7h0M394.6 195.6h0M385.0 196.5h0M380.9 191.6h0M382.4 196.5h0M387.7 195.2h0M375.8 193.4h0M382.9 197.7h0M386.5 195.6h0M385.6 197.4h0M391.0 196.7h0M383.8 198.8h0M388.8 193.9h0M380.9 196.0h0M373.2 201.2h0M388.1 197.0h0M398.8 201.1h0M392.5 202.0h0M387.3 192.3h0M390.2 198.3h0M377.5 197.1h0M386.6 200.1h0M383.9 195.2h0M386.7 194.4h0M382.7 199.4h0M376.4 198.1h0M374.0 193.9h0M377.4 196.6h0M386.4 196.7h0M387.4 197.2h0M382.1 198.5h0M382.0 197.3h0M388.0 195.0h0M388.5 193.3h0M382.1 191.2h0M380.6 202.1h0M384.8 201.1h0M376.2 193.6h0M385.3 199.6h0M387.0 191.4h0M385.5 196.7h0M383.7 198.5h0M381.8 191.4h0M378.1 192.2h0M377.0 196.5h0M389.2 194.6h0M379.5 193.1h0M375.0 197.1h0M380.8 196.1h0M378.6 198.5h0M377.5 198.7h0M380.0 199.5h0M379.0 198.4h0M385.2 196.6h0M390.7 197.5h0M379.0 199.2h0M379.3 195.1h0M383.2 197.5h0M391.1 191.2h0M381.9 200.6h0M382.4 198.0h0M390.2 192.9h0M383.3 199.5h0M380.4 191.1h0M378.4 197.5h0M384.0 203.0h0M389.3 191.8h0M387.9 199.9h0M390.7 196.4h0M380.5 197.4h0M390.3 198.9h0M391.0 199.5h0M380.4 193.6h0M391.8 191.9h0M381.5 195.9h0M378.8 195.0h0M383.1 204.7h0M382.8 195.2h0M383.7 200.0h0M379.3 195.6h0M374.9 199.2h0M386.3 201.8h0M377.5 204.1h0M387.2 196.0h0M381.3 195.9h0M377.4 199.4h0M380.3 194.5h0M385.5 197.3h0M380.4 196.1h0M380.8 201.3h0M387.8 194.5h0M382.9 201.4h0M381.8 202.8h0M385.2 199.1h0M373.4 199.7h0M384.7 198.8h0M385.4 198.6h0M380.7 199.9h0M383.4 193.4h0M378.3 197.4h0M384.7 189.6h0M373.4 200.4h0M383.0 206.3h0M375.9 196.1h0M380.3 198.7h0M389.7 202.2h0M378.4 201.0h0M377.4 197.9h0M383.9 198.9h0M379.4 201.3h0M382.8 196.8h0M381.9 193.4h0M386.5 198.0h0M385.2 203.0h0M379.0 196.0h0M383.1 199.7h0M382.3 200.0h0M385.2 191.1h0M379.9 190.2h0M381.8 195.5h0M385.9 197.5h0M382.8 201.1h0M385.9 192.8h0M379.9 198.0h0M391.1 196.2h0M382.3 197.8h0M386.8 196.6h0M384.5 195.5h0M380.5 194.3h0M386.2 195.1h0M385.7 198.2h0M387.7 188.0h0M378.6 192.9h0M382.3 199.6h0M395.0 202.0h0M389.5 198.2h0M381.3 198.7h0M372.9 200.0h0M383.1 198.9h0M378.3 193.3h0M380.1 196.8h0M384.7 195.7h0M384.7 199.1h0M377.7 196.6h0M375.8 195.1h0M387.3 194.5h0M391.8 198.6h0M387.3 197.2h0M387.2 200.5h0M383.6 195.2h0M380.5 203.3h0M382.2 195.4h0M379.8 191.3h0M380.8 198.0h0M380.8 194.4h0M385.0 198.4h0M381.1 197.9h0M378.5 199.7h0M378.5 195.8h0M383.7 195.5h0M377.7 203.8h0M390.2 191.1h0M383.7 192.7h0M384.6 192.6h0M385.8 198.7h0M391.1 200.9h0M381.0 200.0h0M380.9 196.5h0M380.8 191.1h0M385.9 190.2h0M382.0 198.6h0M383.6 191.7h0M380.1 199.2h0M388.3 202.2h0" stroke="#8a3585" stroke-width="0.6" stroke-linecap="round" opacity="0.3"/>
<path d="M375.9 187.5h0M385.8 185.3h0M376.6 186.6h0M394.1 181.2h0M386.1 182.9h0M396.9 179.6h0M382.3 184.8h0M387.5 186.6h0M390.8 181.8h0M393.5 182.7h0M391.2 182.8h0M392.1 181.0h0M380.1 185.2h0M381.2 186.4h0M403.8 181.1h0M392.5 182.9h0M383.6 183.1h0M392.6 180.5h0M391.3 182.6h0M394.6 182.0h0M389.7 182.5h0M376.3 186.4h0M394.6 183.3h0M398.9 179.4h0M382.4 186.1h0M386.6 187.5h0M390.9 180.9h0M385.5 186.4h0M375.7 187.2h0M379.4 188.1h0M385.5 183.0h0M376.3 185.9h0M370.1 187.9h0M405.2 179.2h0M386.8 182.5h0M391.5 182.1h0M383.3 186.8h0M392.0 181.4h0M400.0 180.4h0M392.9 182.6h0M398.0 181.8h0M386.8 185.0h0M386.3 184.3h0M400.8 178.8h0M381.3 184.9h0M385.9 186.0h0M378.1 189.4h0M400.6 179.7h0M390.3 182.6h0M394.3 182.9h0M394.9 182.9h0M403.3 179.4h0M394.2 181.8h0M389.5 183.6h0M388.8 183.9h0M382.8 184.9h0M384.3 183.1h0M383.7 184.2h0M387.5 181.8h0M386.8 182.5h0M383.1 185.2h0M397.4 181.6h0M385.4 183.8h0M398.4 178.7h0M397.0 179.3h0M384.4 184.7h0M388.0 185.9h0M392.7 182.4h0M396.1 181.6h0M383.5 186.4h0M400.6 182.0h0M381.1 188.1h0M386.3 185.2h0M398.7 184.0h0M376.8 185.3h0M398.0 181.7h0M385.8 180.4h0M392.3 182.3h0M370.7 191.9h0M370.5 187.6h0M389.1 183.7h0M394.6 181.6h0M382.4 184.7h0M373.2 186.2h0M403.4 178.6h0M389.1 185.9h0M396.9 181.5h0M394.4 181.6h0M382.8 186.4h0M390.6 185.1h0M387.0 183.5h0M391.6 182.5h0M386.5 182.9h0M391.1 183.3h0M402.6 179.7h0M376.3 187.5h0M405.9 178.3h0M383.1 184.8h0M367.9 188.6h0M387.2 181.9h0M393.1 181.2h0M375.2 186.2h0M394.4 184.5h0M398.4 181.2h0M385.2 184.1h0M396.1 180.8h0M392.5 183.8h0M382.2 184.5h0M392.4 182.5h0M388.0 183.0h0M389.3 185.8h0M398.6 178.7h0M389.5 183.4h0M388.9 181.6h0M388.2 183.8h0M384.2 185.1h0M370.6 186.3h0M390.0 183.7h0M387.7 183.2h0M390.8 184.4h0" stroke="#70b070" stroke-width="0.6" stroke-linecap="round" opacity="0.35"/>
<ellipse cx="389.1" cy="183.4" rx="13.65" ry="2.3100000000000005" transform="rotate(-15 389.1 183.4)" fill="#8cc49a" opacity="0.6" filter="url(#bl)"/>
<ellipse cx="389.1" cy="183.4" rx="10.4" ry="1.6500000000000001" transform="rotate(-15 389.1 183.4)" fill="#318a48" opacity="0.9" filter="url(#bl)"/>
<line x1="357.80" y1="229.00" x2="401.10" y2="229.00" stroke="#111" stroke-width="1.3"/>
<path d="M400.5 227.2 L405.1 229.0 L400.5 230.8Z" fill="#111"/>
<text transform="translate(375.40,238.60)" font-size="8.6" textLength="9.40" lengthAdjust="spacingAndGlyphs" font-weight="normal" fill="#222" class="c">IgD</text>
<rect x="410.9" y="171.9" width="50" height="50.5" fill="#fff" stroke="#c8c8c8" stroke-width="0.6"/>
<line x1="410.90" y1="171.90" x2="410.90" y2="222.40" stroke="#666" stroke-width="0.8"/>
<line x1="410.90" y1="222.40" x2="460.90" y2="222.40" stroke="#666" stroke-width="0.8"/>
<line x1="420.90" y1="222.40" x2="420.90" y2="221.40" stroke="#666" stroke-width="0.5"/>
<line x1="410.90" y1="182.00" x2="411.90" y2="182.00" stroke="#666" stroke-width="0.5"/>
<line x1="430.90" y1="222.40" x2="430.90" y2="221.40" stroke="#666" stroke-width="0.5"/>
<line x1="410.90" y1="192.10" x2="411.90" y2="192.10" stroke="#666" stroke-width="0.5"/>
<line x1="440.90" y1="222.40" x2="440.90" y2="221.40" stroke="#666" stroke-width="0.5"/>
<line x1="410.90" y1="202.20" x2="411.90" y2="202.20" stroke="#666" stroke-width="0.5"/>
<line x1="450.90" y1="222.40" x2="450.90" y2="221.40" stroke="#666" stroke-width="0.5"/>
<line x1="410.90" y1="212.30" x2="411.90" y2="212.30" stroke="#666" stroke-width="0.5"/>
<path d="M451.0 196.1h0M440.2 207.9h0M448.2 206.0h0M441.7 188.0h0M445.4 190.4h0M453.0 205.7h0M426.7 203.8h0M454.4 207.6h0M440.2 188.0h0M451.6 207.4h0M444.4 185.0h0M431.8 199.7h0M437.4 189.9h0M447.4 207.7h0M427.6 190.0h0M454.2 196.5h0M441.2 203.5h0M434.9 184.3h0M444.1 213.1h0M451.9 196.8h0M451.9 192.7h0M434.6 179.6h0M446.0 206.2h0M446.8 196.5h0M440.7 208.2h0M443.5 182.0h0M454.7 190.2h0M447.0 196.9h0M452.2 199.5h0M453.6 199.1h0M440.3 191.7h0M449.0 188.3h0M451.2 194.4h0M436.6 187.9h0M442.8 215.2h0M450.0 197.1h0M436.7 216.6h0M441.7 196.9h0M440.6 210.7h0M445.3 192.2h0M445.4 186.6h0M435.6 195.2h0M421.1 209.1h0M459.6 185.4h0M442.8 180.6h0M445.3 199.1h0M449.8 183.1h0M439.1 190.2h0M442.0 220.5h0M442.3 196.5h0M439.9 205.1h0M464.2 208.9h0M456.0 185.8h0M452.3 197.2h0M453.8 207.8h0M449.1 179.6h0M445.0 191.7h0M447.4 197.3h0M452.2 180.3h0M438.0 196.1h0M446.4 192.7h0M443.7 197.5h0M452.2 195.7h0M445.8 178.1h0M423.2 181.8h0M446.7 173.0h0M447.1 195.9h0M443.9 189.3h0M440.6 205.5h0M446.7 196.6h0M440.0 199.1h0M453.3 196.7h0M441.0 184.7h0M444.7 187.4h0M432.5 205.9h0M439.0 175.8h0M438.2 216.0h0M443.1 183.2h0M435.2 204.3h0M447.1 199.1h0M442.3 201.9h0M456.1 202.0h0M442.6 182.4h0M447.4 213.1h0M449.0 183.9h0M445.4 210.4h0M438.9 202.0h0M453.5 213.9h0M431.3 178.8h0M446.9 204.2h0M441.1 196.7h0M440.7 209.3h0M426.4 199.5h0M433.8 189.9h0M431.8 187.5h0M443.7 197.2h0M458.1 194.6h0M446.6 200.6h0M445.9 212.1h0M445.0 198.5h0M443.0 196.9h0M443.5 207.2h0M444.1 197.6h0M443.5 204.8h0M440.2 206.6h0M439.4 204.1h0M459.1 199.3h0M443.2 184.6h0M449.8 197.0h0M451.1 190.1h0M448.0 215.7h0M447.1 193.5h0M433.6 196.8h0M449.1 203.1h0M435.0 186.2h0M436.2 186.3h0M441.7 199.7h0M459.2 198.9h0M455.4 179.7h0M456.1 205.2h0M447.4 205.5h0M448.8 216.8h0M450.3 178.8h0M430.0 213.7h0M443.2 210.7h0M441.2 190.1h0M441.2 200.2h0M445.4 190.5h0M448.2 203.3h0M436.6 185.3h0M428.3 193.7h0M444.0 189.7h0M439.1 195.5h0M444.1 202.8h0M450.5 201.5h0M452.8 186.8h0M448.7 200.8h0M435.6 189.8h0M447.4 197.7h0M433.9 191.1h0M456.0 205.7h0M444.6 210.9h0M436.7 195.1h0M451.5 193.4h0M435.0 203.0h0M456.6 170.5h0M445.1 183.9h0M441.5 182.2h0M464.6 189.8h0M444.3 189.5h0M436.0 192.2h0M445.6 215.2h0M446.2 213.2h0M435.4 197.6h0M440.4 180.6h0M473.6 194.4h0M445.8 189.0h0M439.3 186.1h0M452.1 192.7h0M442.7 198.8h0M434.1 199.3h0M442.5 201.5h0M440.8 197.3h0M448.0 207.0h0M438.4 207.0h0M436.1 194.9h0M444.9 198.4h0M424.0 186.7h0M442.4 206.5h0M438.3 212.7h0M429.6 197.7h0M448.2 197.1h0M446.0 206.6h0M437.5 203.0h0M452.4 194.5h0M425.5 184.5h0M437.1 185.9h0M447.3 188.5h0M463.6 202.8h0M433.5 193.9h0M456.1 204.0h0M435.8 207.7h0M440.1 220.0h0M439.5 203.1h0M448.4 192.3h0M442.7 209.0h0M447.9 196.3h0M447.4 215.1h0M451.3 201.9h0M446.5 180.6h0M445.0 191.8h0M449.7 190.6h0M447.5 185.9h0M451.0 189.3h0M443.7 202.9h0M441.3 197.0h0M452.3 215.3h0M429.5 187.5h0M449.3 206.7h0M440.1 197.9h0M442.4 220.6h0M442.3 184.5h0M431.5 183.6h0M454.3 192.8h0M459.4 203.6h0M446.9 203.6h0M450.2 206.5h0M436.1 191.1h0M439.5 198.0h0M441.9 184.1h0M438.4 215.5h0M460.8 188.0h0M446.9 196.5h0M437.2 204.3h0M443.3 214.3h0M447.5 193.7h0M422.8 195.8h0M450.6 189.5h0M450.9 204.0h0M429.9 194.9h0" stroke="#b898c0" stroke-width="0.6" stroke-linecap="round" opacity="0.35"/>
<path d="M437.2 188.1h0M435.0 185.3h0M428.2 184.4h0M432.9 181.6h0M441.5 184.2h0M439.9 183.6h0M438.4 185.9h0M444.9 187.1h0M445.4 184.8h0M432.2 184.5h0M416.0 184.9h0M447.5 188.2h0M421.5 186.5h0M443.0 180.5h0M437.6 186.6h0M443.0 186.3h0M409.5 178.2h0M459.6 184.0h0M450.0 189.9h0M434.1 181.3h0M451.3 185.3h0M439.9 187.1h0M445.7 189.0h0M413.8 180.3h0M434.8 185.4h0M443.3 184.9h0M430.5 192.7h0M451.4 189.6h0M446.8 182.6h0M431.8 185.2h0M418.2 182.3h0M435.1 181.0h0M440.2 187.1h0M429.7 184.2h0M441.0 187.1h0M437.8 181.0h0M411.1 192.7h0M424.1 184.1h0M408.4 182.5h0M423.1 188.3h0M397.4 180.4h0M427.4 183.6h0M422.5 183.8h0M411.7 186.4h0M449.0 185.9h0M425.7 189.9h0M439.5 181.7h0M425.2 183.2h0M432.3 189.7h0M423.4 184.9h0M434.4 181.1h0M426.5 187.6h0M448.1 178.7h0M442.4 184.4h0M450.2 187.6h0M459.4 186.5h0M427.6 182.4h0M413.7 187.4h0M439.8 188.3h0M437.6 180.0h0M427.4 184.5h0M435.0 188.1h0M452.0 186.4h0M405.2 181.7h0M404.2 182.7h0M416.8 186.3h0M429.9 189.4h0M447.4 183.8h0M445.6 185.4h0M439.0 190.2h0M417.5 185.2h0M453.6 182.7h0M435.8 185.9h0M427.3 180.7h0M423.7 181.9h0M447.4 186.3h0M442.3 181.2h0M439.6 185.9h0M447.0 182.8h0M443.8 190.3h0M457.1 182.1h0M417.8 180.2h0M445.8 187.5h0M437.5 182.3h0M449.8 191.1h0M432.4 185.0h0M448.9 187.2h0M451.0 184.0h0M437.5 184.2h0M425.3 184.3h0" stroke="#a0c8a8" stroke-width="0.6" stroke-linecap="round" opacity="0.35"/>
<path d="M442.8 199.7h0M442.7 197.3h0M440.8 190.1h0M449.3 191.4h0M450.8 202.2h0M435.2 193.3h0M442.3 197.0h0M443.2 193.5h0M448.7 196.2h0M447.6 193.1h0M441.3 204.3h0M442.8 190.8h0M443.3 202.8h0M443.3 192.9h0M446.3 202.4h0M443.1 195.1h0M442.5 212.0h0M443.2 206.6h0M443.3 199.2h0M436.2 197.9h0M444.1 195.1h0M442.4 189.3h0M438.2 197.8h0M441.5 196.4h0M443.2 194.1h0M441.1 207.3h0M439.7 194.1h0M442.8 190.5h0M440.3 201.7h0M447.4 197.6h0M456.2 201.5h0M448.6 192.4h0M448.0 206.3h0M442.5 207.0h0M440.8 190.6h0M443.7 192.4h0M446.3 190.7h0M444.2 186.0h0M443.8 202.8h0M442.9 198.6h0M448.1 190.8h0M439.1 197.4h0M445.0 195.4h0M440.2 203.7h0M439.5 195.5h0M443.8 200.9h0M442.2 192.3h0M451.6 192.2h0M446.9 196.0h0M442.1 196.7h0M442.9 198.6h0M434.2 196.8h0M444.2 191.5h0M442.4 209.9h0M450.9 200.5h0M444.8 195.2h0M449.2 194.4h0M440.8 200.8h0M440.2 192.5h0M449.4 188.0h0M443.7 197.6h0M444.9 188.8h0M443.0 195.0h0M451.2 202.5h0M441.0 201.8h0M446.4 196.3h0M443.0 195.4h0M438.1 193.4h0M447.5 204.9h0M451.0 194.8h0M446.3 183.5h0M442.9 189.9h0M447.0 187.7h0M440.0 190.8h0M445.4 201.6h0M440.4 206.9h0M444.5 192.3h0M445.2 196.8h0M447.1 198.8h0M452.2 203.4h0M441.5 201.3h0M446.8 191.3h0M441.1 192.4h0M434.5 200.4h0M443.1 203.8h0M441.8 197.3h0M446.7 202.3h0M445.1 191.1h0M452.3 201.7h0M449.1 205.9h0M449.3 199.2h0M445.7 200.4h0M438.2 201.4h0M440.2 199.3h0M440.1 200.9h0M442.1 210.7h0M444.7 199.7h0M440.5 195.3h0M443.7 195.3h0M442.3 192.0h0M446.8 194.8h0M440.8 198.9h0M440.8 195.9h0M442.0 191.8h0M443.1 192.3h0M439.2 198.9h0M442.8 188.8h0M442.4 197.9h0M445.6 199.0h0M444.9 200.2h0M442.1 192.5h0M446.3 194.6h0M444.0 200.5h0M447.5 203.7h0M441.3 194.8h0M446.0 189.0h0M439.2 200.3h0M441.6 191.8h0M447.0 199.9h0M447.4 195.1h0M442.8 195.0h0M445.1 185.6h0M441.3 200.8h0M441.0 196.5h0M444.4 199.8h0M442.1 190.6h0M453.4 192.9h0M450.4 187.2h0M444.4 195.8h0M451.1 208.2h0M447.6 191.3h0M440.9 192.7h0M442.0 198.4h0M441.0 195.5h0M449.5 204.9h0M436.9 191.6h0M442.5 204.1h0M442.7 207.5h0M445.3 204.9h0M440.7 195.2h0M447.8 200.1h0M436.9 195.4h0M444.6 200.4h0M441.5 206.5h0M444.5 204.9h0M445.5 197.4h0M442.7 190.4h0M447.2 201.1h0M447.5 194.8h0M440.1 194.8h0M442.8 196.8h0M447.7 191.9h0M442.1 200.7h0M447.4 209.2h0M445.9 192.2h0M440.0 192.5h0M444.2 198.3h0M443.7 193.5h0M443.2 196.5h0M446.2 197.4h0M440.9 190.4h0M449.5 196.4h0M443.3 196.8h0M448.2 195.2h0M444.6 195.6h0M446.1 191.3h0M444.7 202.6h0M448.4 200.3h0M445.1 205.6h0M446.6 204.6h0M439.4 190.8h0M447.0 195.4h0M442.3 191.7h0M449.6 190.3h0M444.3 189.2h0M443.3 209.3h0M453.1 194.2h0M440.1 205.9h0M440.7 187.1h0M445.3 191.0h0M438.5 203.1h0M441.2 191.0h0M444.6 195.9h0M448.2 197.4h0M450.0 203.2h0M450.7 203.1h0M444.2 199.9h0M444.0 188.3h0M439.5 201.0h0M435.0 192.4h0M439.1 196.6h0M440.0 198.3h0M443.2 194.3h0M440.8 184.7h0M444.2 189.8h0M442.8 199.0h0M447.9 200.8h0M449.5 189.1h0M446.5 205.6h0M445.4 190.8h0M445.5 194.1h0M441.5 202.8h0M443.3 190.7h0M441.4 207.7h0M440.8 200.6h0M444.6 203.4h0M442.9 191.7h0M441.5 191.2h0M453.7 198.0h0M442.8 203.9h0M446.4 195.9h0M446.3 198.4h0M448.2 206.0h0M442.8 196.7h0M443.3 203.7h0M445.4 201.2h0M447.3 193.4h0M444.4 204.5h0M447.4 201.4h0M442.9 194.9h0M440.7 195.4h0M443.7 189.0h0M448.3 192.7h0M444.9 200.2h0M441.9 186.9h0M447.6 199.2h0M443.0 203.2h0M447.3 191.7h0M443.7 187.2h0M443.0 204.7h0M440.8 201.5h0M438.3 195.3h0M447.5 206.4h0M445.7 201.1h0M450.4 183.5h0M437.5 207.3h0M453.2 200.2h0M444.2 198.3h0M444.1 193.5h0M443.9 196.2h0M446.5 200.7h0M447.6 200.2h0M440.3 204.6h0M433.9 197.6h0M445.2 194.0h0M451.0 190.9h0M439.6 194.1h0M445.5 201.3h0M444.4 200.6h0M441.3 193.6h0" stroke="#cf92cb" stroke-width="0.6" stroke-linecap="round" opacity="0.4"/>
<ellipse cx="443.9" cy="196.9" rx="5.225" ry="9.025" transform="rotate(0 443.9 196.9)" fill="#cf92cb" opacity="0.7" filter="url(#bl)"/>
<ellipse cx="443.9" cy="196.9" rx="4.125" ry="7.6000000000000005" transform="rotate(0 443.9 196.9)" fill="#a94ea1" opacity="0.9" filter="url(#bl)"/>
<path d="M444.2 192.0h0M444.3 195.5h0M445.4 193.2h0M442.8 194.8h0M443.2 193.2h0M443.4 191.9h0M445.1 199.4h0M443.9 196.2h0M442.0 193.4h0M443.5 193.6h0M441.4 197.5h0M443.9 195.4h0M442.2 196.7h0M442.5 195.3h0M444.3 199.6h0M445.6 194.7h0M446.5 192.7h0M443.6 201.7h0M449.0 197.4h0M443.2 195.5h0M441.3 196.4h0M443.0 194.1h0M446.5 194.1h0M447.5 200.0h0M445.3 194.8h0M442.9 189.6h0M444.5 195.9h0M444.8 194.4h0M445.0 191.4h0M439.3 198.7h0M446.2 185.4h0M446.7 195.6h0M443.6 191.3h0M441.8 199.5h0M442.4 196.8h0M443.6 204.2h0M445.8 192.1h0M442.9 192.7h0M441.0 194.4h0M446.3 197.1h0M445.4 196.4h0M443.0 197.2h0M443.8 204.0h0M447.8 198.3h0M445.2 189.6h0M443.7 205.7h0M442.2 199.9h0M446.5 195.4h0M443.5 195.2h0M445.6 197.0h0M447.1 201.3h0M443.9 206.5h0M443.3 194.7h0M443.4 193.7h0M443.0 196.6h0M445.8 191.1h0M441.0 194.1h0M443.3 198.6h0M442.3 202.5h0M442.8 196.1h0M444.0 201.2h0M444.6 197.0h0M442.8 197.5h0M444.8 195.6h0M443.9 190.1h0M442.8 201.3h0M446.9 196.6h0M439.3 203.7h0M443.6 206.4h0M443.1 200.6h0M442.6 202.0h0M446.4 193.0h0M446.7 207.4h0M443.5 192.5h0M444.5 195.4h0M440.7 193.0h0M444.4 191.3h0M446.2 198.6h0M443.5 202.1h0M442.0 199.4h0M441.1 195.7h0M445.3 194.9h0M443.7 199.3h0M447.2 201.7h0M444.9 195.9h0M440.9 203.2h0M447.9 189.0h0M445.8 196.7h0M445.4 198.1h0M443.5 196.9h0M443.8 201.2h0M443.4 194.9h0M445.3 199.3h0M444.8 197.9h0M447.0 201.0h0M444.4 196.1h0M445.3 190.0h0M442.8 194.3h0M444.3 195.5h0M449.1 199.6h0M444.8 205.2h0M443.9 195.7h0M446.5 200.0h0M445.9 201.4h0M443.2 194.5h0M442.4 197.3h0M446.0 193.0h0M442.8 192.0h0M448.2 199.9h0M444.4 192.4h0M441.7 194.5h0M444.0 192.2h0M443.4 201.4h0M443.9 197.3h0M439.5 195.9h0M443.6 194.3h0M441.0 196.6h0M441.8 194.9h0M440.5 196.6h0M445.8 193.8h0M444.6 191.3h0M445.1 198.9h0M443.1 200.2h0M442.1 197.1h0M447.5 196.8h0M441.5 201.2h0M445.1 195.9h0M440.1 189.9h0M440.7 202.4h0M444.5 193.8h0M446.4 202.3h0M442.1 198.7h0M440.4 198.3h0M447.8 191.7h0M444.0 194.5h0M443.7 197.2h0M444.5 200.2h0M445.0 200.8h0M446.1 201.0h0M442.5 198.4h0M443.1 193.8h0M448.1 198.0h0M444.0 189.1h0M443.4 199.8h0M443.5 194.9h0M447.0 195.7h0M443.2 196.5h0M443.4 200.8h0M445.1 196.6h0M443.2 196.1h0M447.5 195.8h0M445.3 191.1h0M444.6 199.5h0M446.6 198.1h0M445.1 198.1h0M446.2 204.5h0M444.3 193.9h0M445.2 196.5h0M445.3 199.8h0M444.2 195.3h0M444.6 192.3h0M444.5 193.6h0M444.9 197.4h0M443.5 192.4h0M444.0 194.4h0M443.6 199.5h0M445.9 192.1h0M445.9 202.0h0M446.3 197.9h0M443.7 203.4h0M443.2 191.2h0M444.1 198.0h0M441.7 192.4h0M448.1 197.3h0M445.6 194.7h0M440.7 196.2h0M446.7 194.4h0M440.2 196.3h0M443.3 197.0h0M441.7 195.7h0M442.8 200.2h0M444.2 200.1h0M443.8 189.0h0M439.8 198.9h0M445.8 200.1h0M443.8 190.3h0M442.9 198.4h0M446.8 195.6h0M442.7 194.0h0M446.1 200.1h0M440.1 201.4h0M442.0 191.4h0M440.6 194.2h0M448.8 206.4h0M441.3 194.4h0M444.3 198.4h0M442.9 191.0h0M443.1 194.4h0M440.2 197.4h0M440.8 190.5h0" stroke="#8a3585" stroke-width="0.6" stroke-linecap="round" opacity="0.3"/>
<path d="M445.2 186.6h0M444.6 185.6h0M429.7 185.3h0M422.0 186.4h0M435.2 185.0h0M418.0 185.3h0M446.1 187.3h0M440.0 184.9h0M434.1 186.1h0M434.6 186.8h0M427.6 182.4h0M413.5 184.2h0M421.9 186.3h0M441.6 185.4h0M437.3 185.5h0M434.4 184.8h0M429.7 186.9h0M430.8 185.3h0M442.6 186.7h0M429.8 185.7h0M424.9 185.6h0M435.5 185.4h0M434.3 185.9h0M412.6 184.3h0M433.6 184.8h0M425.2 185.1h0M445.9 185.1h0M427.8 184.8h0M423.4 186.0h0M425.1 186.6h0M440.3 186.1h0M441.3 185.3h0M418.9 185.3h0M438.1 183.4h0M423.2 186.8h0M436.5 187.1h0M438.4 185.5h0M436.5 186.5h0M432.8 185.1h0M435.5 185.0h0M452.4 184.4h0M420.8 183.7h0M441.4 184.9h0M434.3 185.1h0M435.2 183.5h0M433.7 184.7h0M441.8 186.2h0M422.8 184.2h0M437.6 186.9h0M439.2 185.2h0M442.0 182.4h0M428.7 184.1h0M424.7 186.1h0M435.2 185.8h0M431.9 186.2h0M439.3 184.7h0M440.6 184.2h0M447.2 183.7h0M430.7 184.0h0M433.3 187.1h0M426.9 187.7h0M444.4 185.9h0M428.2 186.6h0M409.9 184.4h0M440.8 185.3h0M453.1 184.5h0M422.2 185.1h0M437.7 187.6h0M418.7 185.6h0M443.3 184.5h0M429.3 183.8h0M439.2 186.5h0M437.8 185.7h0M441.1 185.2h0M438.8 186.5h0M443.6 186.1h0M433.7 186.3h0M420.4 183.1h0M446.2 185.6h0M424.5 184.6h0M431.8 185.5h0M426.8 186.7h0M419.1 189.0h0M424.2 187.6h0M438.5 183.2h0M423.0 185.5h0M435.2 184.9h0M433.1 185.6h0M423.7 185.5h0M451.6 184.6h0M424.7 186.3h0M444.0 186.8h0M427.8 185.3h0M434.7 185.1h0M436.3 186.8h0M437.5 185.4h0M431.4 187.7h0M422.9 188.0h0M439.0 185.5h0M426.9 187.8h0M443.0 186.6h0M450.1 183.1h0M433.8 185.0h0M427.0 185.5h0M437.4 186.1h0M431.9 183.7h0M437.6 186.2h0M450.5 186.6h0M433.1 183.9h0M455.4 184.5h0M434.6 186.4h0M437.2 187.1h0M424.5 184.5h0M434.4 183.8h0M428.0 187.2h0M435.5 185.3h0M428.3 185.5h0M432.7 184.0h0M439.5 183.7h0M443.6 185.0h0" stroke="#70b070" stroke-width="0.6" stroke-linecap="round" opacity="0.35"/>
<ellipse cx="432.9" cy="185.4" rx="14.700000000000001" ry="2.3100000000000005" transform="rotate(0 432.9 185.4)" fill="#8cc49a" opacity="0.6" filter="url(#bl)"/>
<ellipse cx="432.9" cy="185.4" rx="11.200000000000001" ry="1.6500000000000001" transform="rotate(0 432.9 185.4)" fill="#318a48" opacity="0.9" filter="url(#bl)"/>
<line x1="411.60" y1="229.00" x2="454.90" y2="229.00" stroke="#111" stroke-width="1.3"/>
<path d="M454.3 227.2 L458.9 229.0 L454.3 230.8Z" fill="#111"/>
<text transform="translate(426.85,238.60)" font-size="8.6" textLength="14.10" lengthAdjust="spacingAndGlyphs" font-weight="normal" fill="#222" class="c">CD43</text>
<rect x="249.5" y="248.2" width="50" height="50.5" fill="#fff" stroke="#c8c8c8" stroke-width="0.6"/>
<line x1="249.50" y1="248.20" x2="249.50" y2="298.70" stroke="#666" stroke-width="0.8"/>
<line x1="249.50" y1="298.70" x2="299.50" y2="298.70" stroke="#666" stroke-width="0.8"/>
<line x1="259.50" y1="298.70" x2="259.50" y2="297.70" stroke="#666" stroke-width="0.5"/>
<line x1="249.50" y1="258.30" x2="250.50" y2="258.30" stroke="#666" stroke-width="0.5"/>
<line x1="269.50" y1="298.70" x2="269.50" y2="297.70" stroke="#666" stroke-width="0.5"/>
<line x1="249.50" y1="268.40" x2="250.50" y2="268.40" stroke="#666" stroke-width="0.5"/>
<line x1="279.50" y1="298.70" x2="279.50" y2="297.70" stroke="#666" stroke-width="0.5"/>
<line x1="249.50" y1="278.50" x2="250.50" y2="278.50" stroke="#666" stroke-width="0.5"/>
<line x1="289.50" y1="298.70" x2="289.50" y2="297.70" stroke="#666" stroke-width="0.5"/>
<line x1="249.50" y1="288.60" x2="250.50" y2="288.60" stroke="#666" stroke-width="0.5"/>
<path d="M252.1 257.6h0M269.2 265.4h0M279.4 291.4h0M281.4 285.8h0M276.3 268.5h0M276.0 270.4h0M267.0 259.7h0M267.7 280.1h0M266.9 262.7h0M273.4 286.0h0M266.7 284.5h0M273.9 264.1h0M267.1 253.9h0M260.3 280.4h0M261.4 280.0h0M269.7 251.6h0M264.0 293.0h0M267.4 276.9h0M262.5 256.9h0M256.6 308.8h0M266.0 265.4h0M268.0 253.0h0M276.7 295.3h0M262.2 279.2h0M261.2 285.4h0M261.6 273.8h0M276.1 281.5h0M265.1 257.8h0M256.5 289.4h0M270.7 276.1h0M275.8 277.2h0M262.4 274.2h0M266.6 275.3h0M284.1 282.2h0M269.1 272.5h0M262.7 263.9h0M254.6 270.1h0M257.0 253.9h0M260.9 251.9h0M276.6 289.9h0M260.7 299.3h0M271.8 246.1h0M267.4 263.8h0M255.5 272.4h0M275.1 280.6h0M257.4 267.7h0M262.1 288.8h0M266.6 264.0h0M261.1 252.5h0M261.5 285.9h0M254.3 277.7h0M266.5 285.0h0M259.5 286.1h0M277.8 302.1h0M256.2 275.1h0M265.8 276.9h0M260.6 285.5h0M283.2 293.0h0M260.8 268.7h0M272.2 277.0h0M262.1 289.9h0M270.8 287.4h0M266.1 290.4h0M264.1 262.4h0M267.2 259.1h0M275.8 284.0h0M255.8 277.4h0M273.0 271.3h0M270.1 268.6h0M266.8 274.5h0M270.5 264.1h0M259.6 279.3h0M263.8 281.5h0M263.8 260.1h0M272.3 278.6h0M272.2 271.5h0M264.8 290.2h0M255.7 295.8h0M270.7 274.8h0M267.9 282.5h0M262.0 278.7h0M260.7 253.8h0M268.6 276.6h0M271.7 282.0h0M272.0 284.7h0M260.0 289.7h0M285.5 268.8h0M258.6 283.5h0M273.5 287.3h0M277.7 259.2h0M269.8 280.9h0M275.8 265.0h0M267.4 271.1h0M266.1 273.7h0M266.2 254.7h0M267.0 276.2h0M264.6 233.9h0M262.5 267.8h0M261.3 294.2h0M273.5 273.3h0M271.3 314.0h0M260.6 281.0h0M263.1 292.9h0M274.8 274.0h0M271.4 266.1h0M256.4 285.3h0M278.4 271.9h0M263.6 254.5h0M281.9 261.4h0M260.6 273.2h0M275.5 276.1h0M267.1 275.7h0M273.0 275.0h0M268.3 274.6h0M259.6 291.2h0M262.5 260.0h0M264.2 275.8h0M272.8 258.2h0M258.6 277.5h0M269.8 262.6h0M259.5 277.5h0M266.2 256.5h0M261.2 292.9h0M260.0 287.8h0M256.8 292.9h0M278.1 268.0h0M262.6 282.8h0M258.8 281.9h0M275.5 278.5h0M269.4 273.6h0M274.1 265.8h0M278.1 275.2h0M265.0 256.3h0M264.2 278.2h0M275.7 256.5h0M266.3 267.4h0M259.0 275.5h0M262.0 285.7h0M248.8 284.1h0M254.2 252.6h0M270.8 271.5h0M268.1 264.1h0M260.1 266.8h0M266.8 265.6h0M264.3 265.4h0M268.8 262.1h0M253.0 244.7h0M267.1 276.6h0M273.8 266.8h0M259.4 258.0h0M272.4 268.1h0M273.9 274.5h0M265.3 253.6h0M262.6 284.7h0M263.1 283.4h0M256.0 287.4h0M286.2 288.5h0M269.4 261.0h0M263.6 267.8h0M268.5 251.8h0M261.3 284.7h0M268.2 284.2h0M273.0 262.0h0M258.0 280.9h0M267.4 276.4h0M261.7 287.4h0M270.6 288.8h0M264.8 283.6h0M266.8 264.4h0M266.7 256.0h0M266.0 277.5h0M271.9 263.1h0M258.2 266.9h0M253.1 267.8h0M285.0 277.1h0M262.0 267.5h0M279.2 261.8h0M266.4 274.5h0M262.2 267.0h0M255.8 265.6h0M276.0 292.0h0M265.3 283.7h0M270.3 276.7h0M266.3 289.7h0M271.1 272.8h0M265.6 286.4h0M263.2 267.0h0M265.3 269.6h0M275.8 279.6h0M266.6 269.3h0M276.8 280.6h0M281.4 286.1h0M265.7 269.0h0M265.3 277.6h0M272.6 281.1h0M277.9 257.6h0M267.4 258.8h0M260.2 268.4h0M262.8 264.1h0M256.9 288.8h0M265.0 286.8h0M259.7 248.3h0M263.2 285.8h0M263.4 280.1h0M259.9 291.8h0M270.1 287.8h0M265.3 290.4h0M267.7 269.7h0M262.8 276.1h0M261.0 261.5h0M268.1 283.8h0M265.2 285.3h0M278.0 260.6h0M268.9 264.2h0M262.8 277.5h0M251.1 282.5h0M272.9 281.8h0M271.6 296.7h0M264.7 288.2h0M277.0 281.2h0" stroke="#b898c0" stroke-width="0.6" stroke-linecap="round" opacity="0.35"/>
<path d="M257.1 262.5h0M265.4 254.6h0M268.7 264.5h0M266.7 260.7h0M277.3 256.9h0M262.6 262.4h0M276.0 262.5h0M268.6 259.0h0M277.0 263.6h0M257.8 264.6h0M254.4 270.3h0M271.9 257.8h0M260.1 261.3h0M257.9 265.6h0M263.9 254.1h0M269.3 266.3h0M260.2 261.1h0M280.1 260.0h0M265.1 262.6h0M272.7 256.0h0M266.6 254.3h0M257.3 256.3h0M274.1 261.6h0M274.0 265.6h0M269.0 262.2h0M271.4 262.8h0M261.6 261.2h0M267.6 261.5h0M263.7 261.5h0M270.4 261.7h0M272.8 264.1h0M272.7 264.7h0M274.9 266.3h0M272.0 257.8h0M284.1 263.5h0M276.9 262.9h0M267.9 256.2h0M271.0 259.2h0M264.3 252.4h0M277.4 254.4h0M261.9 264.4h0M271.5 257.2h0M268.6 262.3h0M269.9 263.3h0M273.1 258.8h0M259.9 272.3h0M265.3 257.4h0M273.7 262.9h0M266.4 272.0h0M254.6 269.3h0M268.5 262.6h0M270.3 259.8h0M269.5 255.2h0M267.4 269.6h0M253.1 269.4h0M253.7 260.0h0M273.7 258.5h0M263.7 255.4h0M267.6 260.6h0M263.3 255.2h0M269.8 262.8h0M276.1 262.1h0M279.0 264.7h0M251.9 271.5h0M267.0 256.8h0M272.0 264.8h0M257.8 257.6h0M272.4 258.0h0M277.9 260.5h0M264.0 256.1h0M271.0 253.1h0M259.3 257.0h0M280.6 266.6h0M266.8 259.8h0M273.9 265.8h0M265.1 271.6h0M268.0 266.3h0M253.5 263.6h0M265.6 270.5h0M266.2 255.9h0M280.3 256.1h0M267.5 255.8h0M272.9 261.3h0M266.4 259.8h0M264.3 258.7h0M260.5 268.0h0M273.1 254.2h0M261.4 264.3h0M282.7 257.8h0M266.3 260.5h0" stroke="#a0c8a8" stroke-width="0.6" stroke-linecap="round" opacity="0.35"/>
<path d="M263.2 285.8h0M269.5 266.6h0M270.4 268.5h0M264.0 280.5h0M270.8 286.0h0M271.5 279.8h0M266.7 283.3h0M270.6 283.9h0M263.2 280.8h0M269.5 272.8h0M263.7 272.7h0M263.5 274.9h0M263.1 275.3h0M264.4 281.5h0M263.7 286.6h0M268.4 279.2h0M269.0 268.6h0M268.3 277.2h0M267.2 268.2h0M267.9 284.2h0M265.5 269.7h0M263.2 285.2h0M267.4 275.4h0M262.1 274.2h0M271.7 266.3h0M265.1 274.8h0M262.6 274.8h0M271.6 265.7h0M264.3 282.3h0M262.7 271.5h0M267.6 271.5h0M267.0 282.1h0M271.0 284.5h0M262.7 277.6h0M269.6 267.0h0M272.3 266.9h0M262.1 265.0h0M266.1 288.1h0M268.1 277.3h0M265.6 266.6h0M269.9 272.7h0M268.6 282.9h0M267.0 268.1h0M264.2 286.1h0M268.6 272.2h0M263.2 288.1h0M266.7 280.6h0M270.6 276.7h0M268.8 266.0h0M270.2 271.5h0M266.3 281.2h0M270.7 267.4h0M267.6 280.9h0M270.9 282.0h0M269.6 269.7h0M264.9 283.5h0M265.3 285.8h0M267.4 287.1h0M269.7 287.5h0M265.8 282.9h0M268.1 274.9h0M266.2 283.4h0M264.6 285.7h0M263.6 276.5h0M265.0 267.9h0M268.5 264.9h0M266.1 278.9h0M267.3 283.2h0M263.2 280.4h0M262.1 271.8h0M271.7 267.6h0M268.7 267.0h0M269.2 273.0h0M269.6 285.1h0M270.4 287.3h0M272.5 273.5h0M265.0 282.4h0M267.6 271.7h0M263.6 284.4h0M268.2 285.5h0M266.2 278.2h0M266.3 273.0h0M266.5 281.2h0M270.4 281.2h0M261.7 265.8h0M264.4 286.8h0M266.1 283.6h0M261.8 269.2h0M268.3 274.2h0M261.5 265.0h0M271.7 270.7h0M264.8 282.1h0M266.4 273.6h0M265.1 281.1h0M267.4 272.4h0M266.6 269.5h0M267.0 282.0h0M265.7 265.1h0M264.5 277.7h0M267.9 273.2h0M263.9 272.6h0M263.3 285.1h0M263.6 285.9h0M267.6 277.3h0M268.6 273.7h0M265.4 285.3h0M263.9 265.2h0M267.7 285.2h0M266.0 282.2h0M269.5 271.6h0M271.2 277.6h0M265.6 267.6h0M270.7 280.6h0M270.2 275.1h0M269.2 266.4h0M269.5 271.8h0M263.9 271.0h0M269.9 270.3h0M270.7 281.2h0M262.7 273.8h0M264.9 283.5h0M266.9 281.3h0M262.4 274.6h0M270.3 269.3h0M271.2 275.0h0M267.2 283.5h0M263.0 287.8h0M267.6 273.5h0M272.2 265.0h0M268.5 267.4h0M266.1 270.3h0M265.1 275.1h0M269.5 267.9h0M263.1 279.0h0M263.8 287.5h0M264.9 269.2h0M267.2 272.6h0M263.6 285.8h0M268.3 277.8h0M265.8 270.0h0M271.3 274.6h0M266.8 282.7h0M265.8 265.4h0M266.4 283.7h0M268.8 273.3h0M269.5 264.7h0M263.5 280.5h0M271.0 273.9h0M267.8 270.1h0M267.9 272.2h0M265.6 273.3h0M268.3 286.4h0M265.5 288.2h0M265.8 275.1h0M265.8 284.9h0M264.1 280.4h0M264.9 277.0h0M265.8 286.1h0M267.3 287.0h0M267.9 272.1h0M268.3 286.5h0M267.5 283.9h0M263.7 278.9h0M268.1 284.1h0M265.2 279.6h0M267.2 282.4h0M272.8 271.6h0M268.5 282.6h0M268.5 284.3h0M272.2 273.1h0M268.2 285.9h0M267.3 274.4h0M272.5 264.8h0M267.7 284.1h0M270.4 275.1h0M266.4 264.2h0M268.7 269.8h0M268.5 272.4h0M266.1 285.7h0M261.7 266.5h0M266.6 284.2h0M262.4 274.5h0M261.5 266.2h0M263.2 285.6h0M267.1 271.6h0M264.4 277.7h0M268.4 279.5h0M263.7 287.8h0M263.0 270.9h0M264.2 270.8h0M271.5 264.4h0M270.2 270.4h0M269.4 283.6h0M268.7 264.3h0M268.0 284.6h0M266.4 278.5h0M267.2 283.9h0M267.3 272.3h0M264.0 275.3h0M270.1 280.2h0M262.5 279.7h0M270.1 273.6h0M267.6 266.9h0M267.3 280.4h0M262.0 271.8h0M264.0 280.9h0M267.3 278.4h0M263.5 281.4h0M268.7 287.6h0M264.3 285.1h0M265.9 281.3h0M268.8 280.9h0M272.0 273.7h0M266.9 274.4h0M263.9 281.2h0M265.5 285.6h0M264.0 285.4h0M268.6 266.7h0M266.7 269.6h0M270.1 268.6h0M268.6 281.8h0M262.1 267.0h0M263.1 278.0h0M267.4 281.2h0M269.3 286.5h0M270.1 279.8h0M265.1 276.1h0M270.1 265.2h0M268.3 280.0h0M266.7 276.2h0M265.8 286.2h0M272.9 267.1h0M270.4 282.4h0M266.3 287.8h0M267.4 267.5h0M266.1 275.7h0M264.8 283.0h0M264.6 287.5h0M271.1 270.7h0M270.0 269.4h0M266.4 270.4h0M264.6 275.2h0M270.6 283.9h0M264.1 286.4h0M266.9 264.3h0M267.4 281.8h0M270.5 287.2h0M264.9 280.4h0M262.7 273.5h0M270.0 273.3h0" stroke="#cf92cb" stroke-width="0.6" stroke-linecap="round" opacity="0.4"/>
<path d="M263.3 264.7 L272.0 264.7 C272.5 275.4 269.0 284.2 266.8 286.2 C264.5 284.2 262.8 275.4 263.3 264.7Z" fill="#cf92cb" opacity="0.7" filter="url(#bl)"/>
<path d="M264.5 265.9 L270.8 265.9 C271.3 275.4 267.8 283.0 266.8 285.0 C265.7 283.0 264.0 275.4 264.5 265.9Z" fill="#a94ea1" opacity="0.9" filter="url(#bl)"/>
<path d="M266.0 271.2h0M268.5 275.1h0M265.9 277.0h0M266.2 273.3h0M266.7 279.9h0M268.7 273.5h0M267.2 270.9h0M266.5 282.9h0M267.7 275.1h0M267.9 271.6h0M268.6 273.1h0M267.9 275.4h0M267.8 275.7h0M265.9 272.5h0M266.6 272.1h0M269.2 266.0h0M267.1 274.9h0M265.8 278.0h0M268.7 267.9h0M269.7 266.4h0M268.9 274.6h0M266.7 280.7h0M267.1 271.7h0M266.9 279.2h0M268.3 278.3h0M267.0 278.8h0M267.0 278.7h0M266.9 275.9h0M267.7 282.1h0M267.3 275.6h0M267.9 267.5h0M266.4 282.0h0M266.4 279.3h0M266.4 278.2h0M268.0 276.1h0M269.5 266.3h0M266.3 274.9h0M267.6 271.1h0M266.2 278.7h0M266.1 266.9h0M266.8 276.8h0M267.5 279.1h0M267.7 272.1h0M268.1 268.3h0M266.3 277.0h0M266.0 277.4h0M266.9 282.7h0M267.1 281.8h0M268.6 269.5h0M266.7 276.5h0M267.8 277.8h0M266.2 277.6h0M267.5 282.6h0M268.9 273.3h0M266.5 283.1h0M266.2 269.0h0M265.9 274.3h0M268.5 269.9h0M268.3 266.0h0M268.1 272.8h0M267.3 270.2h0M265.1 269.4h0M266.6 280.8h0M269.3 270.9h0M267.5 272.2h0M267.1 268.2h0M267.5 281.0h0M267.9 280.0h0M265.3 269.7h0M268.3 268.0h0M266.7 275.2h0M266.3 278.2h0M266.8 276.3h0M268.9 268.1h0M269.0 268.9h0M266.8 279.0h0M266.1 273.6h0M268.5 268.1h0M267.6 272.2h0M266.3 272.1h0M268.8 268.6h0M265.9 273.3h0M266.2 281.0h0M265.8 269.7h0M268.1 275.5h0M270.0 266.2h0M267.9 278.0h0M267.0 273.1h0M266.3 267.3h0M266.4 280.9h0M267.5 281.5h0M266.2 281.8h0M268.6 273.1h0M266.2 271.1h0M267.8 266.1h0M266.2 275.3h0M268.0 270.2h0M268.9 268.7h0M266.7 281.0h0M267.9 268.0h0M265.6 270.9h0M267.2 278.1h0M266.3 270.4h0M268.1 278.4h0M267.7 271.9h0M267.3 269.6h0M266.5 275.9h0M267.2 276.3h0M265.5 266.5h0M265.9 272.9h0M267.5 275.3h0M268.3 276.6h0M268.0 276.3h0M269.5 267.7h0M267.0 282.0h0M267.0 280.2h0M265.9 273.3h0M268.0 274.1h0M267.9 279.6h0M268.8 274.8h0M265.3 272.2h0M267.4 273.2h0M266.3 279.2h0M268.9 266.1h0M269.2 269.0h0M265.9 275.6h0M268.1 274.8h0M269.6 269.6h0M265.7 266.7h0M267.7 276.1h0M268.5 276.2h0M265.3 269.2h0M266.7 275.1h0M266.9 272.6h0M266.4 281.1h0M267.2 277.8h0M269.3 270.7h0M266.5 270.2h0M268.5 269.1h0M266.6 277.8h0M268.0 267.8h0M267.6 271.6h0M265.6 277.2h0M269.4 266.5h0M266.0 280.9h0M267.1 269.6h0M266.5 280.3h0M266.1 282.4h0M266.0 281.5h0M268.6 276.2h0M268.1 278.3h0M269.3 271.8h0M266.4 281.5h0M268.0 279.2h0M266.9 269.4h0M267.1 279.2h0M266.7 281.8h0M266.0 273.5h0M269.1 270.5h0M269.2 270.3h0M267.1 279.8h0M265.2 271.0h0M269.3 267.8h0M267.6 282.5h0M269.4 270.6h0M266.7 273.4h0M267.4 281.6h0M266.4 277.6h0M265.9 267.6h0M266.0 270.3h0M266.5 275.7h0M269.3 269.5h0M265.3 272.1h0M267.9 265.9h0M267.9 266.2h0M267.5 266.1h0M267.2 276.5h0M269.1 269.5h0M267.3 282.7h0M267.7 282.0h0M267.5 272.1h0M268.4 272.9h0M266.1 268.6h0M267.4 273.6h0M266.5 283.0h0M267.0 265.8h0M266.0 281.0h0M267.5 274.8h0M266.5 280.4h0M268.5 276.3h0M266.9 282.7h0M268.0 271.6h0M267.5 278.5h0M266.7 277.5h0M266.6 278.2h0M265.6 269.8h0M266.0 275.4h0M266.5 270.6h0M267.0 272.2h0M266.8 282.8h0" stroke="#8a3585" stroke-width="0.6" stroke-linecap="round" opacity="0.3"/>
<path d="M265.0 261.3h0M262.1 261.4h0M264.2 261.7h0M267.3 262.3h0M269.0 261.8h0M268.4 261.7h0M264.7 263.0h0M273.3 262.2h0M263.9 262.7h0M263.0 263.5h0M267.6 260.6h0M265.8 261.3h0M268.1 259.6h0M268.7 261.6h0M270.3 260.8h0M269.1 265.0h0M272.1 261.1h0M263.8 263.1h0M269.7 256.5h0M268.0 261.9h0M268.6 261.3h0M268.3 263.6h0M269.7 260.5h0M268.3 264.8h0M265.3 260.9h0M269.6 261.3h0M269.9 263.3h0M272.5 261.2h0M268.6 261.1h0M267.9 263.0h0M263.7 260.3h0M266.6 259.9h0M266.2 263.6h0M260.8 263.5h0M263.8 261.6h0M266.2 259.9h0M263.3 262.2h0M257.5 259.5h0M267.4 263.3h0M274.8 259.6h0M265.6 261.2h0M270.4 262.5h0M265.3 262.6h0M268.7 263.1h0M267.0 261.1h0M265.1 259.5h0M269.6 262.2h0M272.5 261.0h0M266.6 260.0h0M264.2 260.7h0M269.7 261.2h0M260.4 262.5h0M267.1 259.7h0M268.5 262.1h0M264.4 259.6h0M267.4 261.8h0M268.0 263.9h0M268.7 259.5h0M271.0 259.7h0M270.9 260.9h0M272.5 258.8h0M271.1 261.5h0M265.5 262.9h0M276.5 260.4h0M265.7 261.4h0M273.1 260.8h0M273.5 259.2h0M272.6 257.8h0M267.8 260.8h0M267.1 263.5h0M266.5 262.2h0M275.2 261.4h0M266.8 260.3h0M261.5 263.1h0M271.9 262.5h0M269.9 264.6h0M270.5 256.9h0M265.6 263.1h0M267.3 262.8h0M277.3 258.4h0M276.2 259.7h0M263.3 262.3h0M271.5 259.7h0M273.8 258.8h0M268.1 262.9h0M267.6 260.4h0M268.6 262.3h0M275.0 262.4h0M275.1 260.0h0M262.6 262.2h0M266.7 259.8h0M266.6 261.4h0M268.9 262.7h0M265.6 263.7h0M268.9 262.4h0M272.5 258.4h0M273.9 259.0h0M270.2 262.8h0M271.3 258.0h0M269.4 263.0h0M268.0 261.1h0M269.2 263.9h0M266.3 260.0h0M264.4 261.0h0M267.8 261.9h0M267.7 258.4h0M263.1 263.3h0M270.6 258.5h0M271.1 256.6h0M276.9 260.7h0M262.8 263.1h0M268.2 260.5h0M267.1 261.1h0M267.9 259.8h0M266.6 262.5h0M270.0 258.7h0M267.2 264.1h0M271.5 263.5h0M263.4 260.3h0M260.2 259.3h0" stroke="#70b070" stroke-width="0.6" stroke-linecap="round" opacity="0.35"/>
<ellipse cx="268.5" cy="261.2" rx="6.300000000000001" ry="2.94" transform="rotate(-10 268.5 261.2)" fill="#8cc49a" opacity="0.6" filter="url(#bl)"/>
<ellipse cx="268.5" cy="261.2" rx="4.800000000000001" ry="2.0999999999999996" transform="rotate(-10 268.5 261.2)" fill="#318a48" opacity="0.9" filter="url(#bl)"/>
<line x1="250.20" y1="305.30" x2="293.50" y2="305.30" stroke="#111" stroke-width="1.3"/>
<path d="M292.9 303.5 L297.5 305.3 L292.9 307.1Z" fill="#111"/>
<text transform="translate(265.30,314.90)" font-size="8.6" textLength="14.40" lengthAdjust="spacingAndGlyphs" font-weight="normal" fill="#222" class="c">CD21</text>
<rect x="303.3" y="248.2" width="50" height="50.5" fill="#fff" stroke="#c8c8c8" stroke-width="0.6"/>
<line x1="303.30" y1="248.20" x2="303.30" y2="298.70" stroke="#666" stroke-width="0.8"/>
<line x1="303.30" y1="298.70" x2="353.30" y2="298.70" stroke="#666" stroke-width="0.8"/>
<line x1="313.30" y1="298.70" x2="313.30" y2="297.70" stroke="#666" stroke-width="0.5"/>
<line x1="303.30" y1="258.30" x2="304.30" y2="258.30" stroke="#666" stroke-width="0.5"/>
<line x1="323.30" y1="298.70" x2="323.30" y2="297.70" stroke="#666" stroke-width="0.5"/>
<line x1="303.30" y1="268.40" x2="304.30" y2="268.40" stroke="#666" stroke-width="0.5"/>
<line x1="333.30" y1="298.70" x2="333.30" y2="297.70" stroke="#666" stroke-width="0.5"/>
<line x1="303.30" y1="278.50" x2="304.30" y2="278.50" stroke="#666" stroke-width="0.5"/>
<line x1="343.30" y1="298.70" x2="343.30" y2="297.70" stroke="#666" stroke-width="0.5"/>
<line x1="303.30" y1="288.60" x2="304.30" y2="288.60" stroke="#666" stroke-width="0.5"/>
<path d="M320.8 263.7h0M312.5 267.8h0M323.0 285.7h0M331.7 255.4h0M342.5 272.1h0M313.5 275.6h0M320.5 259.7h0M343.3 269.2h0M318.2 282.2h0M344.6 281.6h0M314.7 281.1h0M338.0 280.4h0M332.7 270.3h0M324.4 256.3h0M316.8 262.7h0M325.2 293.4h0M299.0 260.5h0M314.3 274.9h0M338.7 266.9h0M316.0 290.2h0M329.5 282.1h0M334.9 267.3h0M327.8 268.3h0M316.8 277.5h0M330.2 261.0h0M316.2 283.1h0M327.1 283.7h0M321.5 266.5h0M334.3 283.0h0M292.1 286.1h0M316.3 283.8h0M343.5 272.7h0M313.9 279.0h0M326.2 282.6h0M308.8 278.8h0M335.6 284.1h0M332.5 290.0h0M315.5 290.3h0M327.6 264.3h0M321.7 279.1h0M329.0 291.8h0M327.4 270.0h0M350.7 272.1h0M315.6 286.8h0M320.3 266.7h0M312.8 289.9h0M312.8 277.2h0M319.8 273.7h0M315.6 277.7h0M332.2 288.3h0M321.0 262.3h0M307.9 276.1h0M296.2 291.6h0M325.5 277.4h0M308.9 268.4h0M316.5 283.9h0M320.4 283.2h0M331.2 253.5h0M322.4 290.8h0M319.2 277.5h0M323.7 261.6h0M350.6 274.4h0M332.6 270.8h0M341.5 289.5h0M339.0 287.1h0M333.4 292.2h0M329.9 277.6h0M334.6 265.6h0M295.6 285.5h0M327.0 267.8h0M322.0 264.9h0M315.4 278.2h0M326.6 285.8h0M324.1 283.4h0M333.1 267.8h0M305.5 268.0h0M322.2 269.8h0M350.9 268.1h0M330.7 267.1h0M333.2 261.3h0M336.3 278.2h0M320.5 262.1h0M344.6 269.3h0M342.0 247.9h0M311.2 297.2h0M346.0 276.3h0M336.8 283.2h0M321.0 277.6h0M311.8 260.4h0M326.6 284.6h0M327.0 261.8h0M335.1 277.1h0M333.9 272.7h0M322.1 288.4h0M341.2 262.0h0M312.3 287.4h0M329.4 276.7h0M313.7 287.9h0M327.4 278.6h0M329.7 270.0h0M329.8 277.6h0M333.6 280.5h0M310.2 267.8h0M322.0 289.6h0M317.6 289.3h0M337.8 286.3h0M351.5 276.0h0M328.9 290.3h0M329.9 287.7h0M323.7 292.6h0M329.3 253.8h0M337.8 273.9h0M314.9 272.6h0M321.9 289.5h0M329.1 275.3h0M325.0 265.6h0M317.7 270.7h0M322.5 262.5h0M320.5 287.8h0M330.5 276.1h0M329.2 273.3h0M311.3 286.4h0M351.4 282.1h0M333.2 304.7h0M311.1 282.2h0M321.2 272.9h0M305.8 275.2h0M329.8 257.5h0M322.6 270.4h0M313.5 283.5h0M344.3 281.0h0M337.2 285.0h0M324.4 282.9h0M340.6 271.2h0M323.5 260.1h0M303.5 266.6h0M335.6 280.4h0M328.2 291.4h0M304.6 292.1h0M326.1 285.1h0M341.3 266.7h0M315.0 280.8h0M324.5 269.4h0M323.7 267.7h0M326.8 271.7h0M345.0 264.0h0M332.0 277.0h0M343.6 264.9h0M319.7 296.2h0M317.5 271.7h0M320.6 264.8h0M339.4 293.7h0M323.4 267.4h0M309.4 283.8h0M319.0 282.5h0M297.1 271.2h0M332.5 280.9h0M291.7 279.5h0M326.7 275.9h0M321.2 271.0h0M326.9 282.0h0M288.3 276.0h0M336.0 273.6h0M339.4 265.3h0M347.5 287.2h0M320.4 308.0h0M342.0 294.4h0M311.2 274.8h0M330.7 288.3h0M326.1 261.1h0M339.4 274.2h0M330.3 272.4h0M323.9 260.2h0M333.0 268.9h0M304.5 280.9h0M324.8 287.2h0M334.8 262.1h0M323.1 276.1h0M326.2 263.9h0M326.1 287.4h0M339.7 293.0h0M334.0 246.9h0M322.0 269.8h0M291.3 293.9h0M335.8 276.0h0M329.4 281.7h0M322.6 292.0h0M346.5 285.6h0M318.7 279.0h0M336.6 284.4h0M317.2 287.1h0M333.7 282.8h0M320.3 275.8h0M302.9 275.7h0M320.0 272.7h0M321.9 272.4h0M326.2 277.2h0M318.0 274.6h0M324.1 281.8h0M330.3 271.9h0M315.5 257.1h0M310.6 280.8h0M314.4 294.6h0M323.3 271.6h0M323.3 269.8h0M317.8 276.8h0M308.3 277.6h0M324.1 265.6h0M337.1 280.3h0M337.8 268.4h0M310.7 262.4h0M306.8 254.2h0M343.4 270.6h0M327.4 269.9h0M323.5 294.3h0M304.9 264.7h0M326.7 265.6h0M333.3 291.0h0M335.6 284.7h0M323.3 287.6h0" stroke="#b898c0" stroke-width="0.6" stroke-linecap="round" opacity="0.35"/>
<path d="M318.2 257.2h0M324.3 260.8h0M341.2 258.0h0M340.3 258.8h0M312.9 255.2h0M326.9 256.2h0M329.7 261.9h0M322.8 254.3h0M321.4 263.4h0M307.0 264.4h0M327.5 259.6h0M329.6 264.2h0M327.1 258.8h0M336.2 259.1h0M331.4 265.5h0M342.2 267.8h0M339.0 262.3h0M325.0 262.5h0M333.3 273.2h0M334.8 258.6h0M344.6 255.6h0M338.7 256.8h0M314.9 259.8h0M324.1 256.6h0M334.4 261.3h0M342.6 257.8h0M306.7 264.4h0M324.7 265.5h0M300.7 256.9h0M328.3 269.2h0M313.3 254.4h0M322.1 267.1h0M345.3 256.5h0M320.4 254.7h0M317.7 258.0h0M332.2 266.1h0M354.4 260.3h0M336.6 262.6h0M328.7 269.1h0M335.3 267.7h0M330.7 265.0h0M333.1 261.4h0M319.4 260.2h0M327.5 260.3h0M323.4 259.0h0M337.1 260.8h0M326.0 260.9h0M342.2 259.7h0M343.4 258.4h0M344.7 264.1h0M321.7 263.5h0M340.2 258.1h0M324.7 262.9h0M324.9 260.6h0M327.5 262.9h0M336.1 267.4h0M323.7 273.0h0M323.6 268.5h0M325.9 256.1h0M322.4 260.4h0M339.5 254.0h0M320.1 261.2h0M334.8 263.2h0M337.1 261.1h0M324.7 266.4h0M346.9 263.2h0M329.1 258.4h0M351.2 263.3h0M334.4 255.6h0M334.2 271.0h0M325.5 260.9h0M344.8 261.0h0M336.9 269.2h0M314.1 258.5h0M335.0 262.2h0M327.8 261.1h0M328.8 263.1h0M321.9 260.7h0M330.0 257.5h0M332.4 253.3h0M334.6 261.3h0M314.0 266.9h0M314.0 269.7h0M319.1 266.4h0M326.6 267.9h0M324.8 265.7h0M323.7 254.5h0M331.8 263.5h0M331.9 268.1h0M319.0 256.2h0" stroke="#a0c8a8" stroke-width="0.6" stroke-linecap="round" opacity="0.35"/>
<path d="M321.0 284.0h0M316.6 276.4h0M327.2 272.8h0M331.0 270.6h0M324.2 269.4h0M320.7 281.0h0M323.5 280.5h0M317.2 265.4h0M330.2 280.2h0M330.7 280.9h0M329.5 280.5h0M326.3 284.7h0M319.4 277.2h0M317.3 270.0h0M323.2 266.9h0M326.5 271.4h0M321.6 284.5h0M329.5 286.1h0M327.2 268.9h0M316.8 269.0h0M319.6 269.6h0M315.4 264.4h0M330.3 284.0h0M318.9 285.4h0M333.1 264.8h0M322.4 273.4h0M325.5 281.4h0M318.8 272.3h0M329.8 267.0h0M318.5 286.4h0M325.9 269.7h0M325.1 270.7h0M321.1 276.5h0M323.8 267.1h0M319.7 284.1h0M330.4 277.4h0M322.6 278.2h0M328.7 286.9h0M322.2 288.6h0M324.3 276.1h0M326.6 284.8h0M325.4 277.7h0M322.8 286.0h0M318.9 267.4h0M317.5 270.2h0M325.5 288.1h0M324.3 283.7h0M320.5 277.0h0M323.8 286.0h0M329.6 274.1h0M331.9 285.5h0M323.9 276.0h0M323.8 284.4h0M325.0 269.2h0M320.7 271.7h0M322.7 283.1h0M321.9 279.5h0M331.2 267.0h0M328.0 283.2h0M319.8 279.1h0M330.9 276.5h0M326.3 283.4h0M319.8 279.7h0M332.8 265.6h0M320.3 264.6h0M328.9 274.0h0M330.7 281.3h0M321.7 287.0h0M318.0 270.3h0M317.9 272.3h0M325.8 287.7h0M317.5 276.2h0M321.4 286.5h0M320.6 283.1h0M318.4 270.8h0M321.5 277.3h0M328.7 278.2h0M318.2 269.7h0M323.4 276.8h0M322.9 275.1h0M317.8 268.2h0M327.1 282.0h0M327.2 281.1h0M320.0 276.8h0M325.3 286.6h0M321.0 275.4h0M334.1 273.4h0M330.7 274.2h0M327.5 267.2h0M320.2 270.9h0M323.4 271.6h0M323.6 280.0h0M320.0 285.3h0M324.0 285.2h0M323.4 283.6h0M333.0 270.5h0M328.6 279.8h0M328.7 277.0h0M328.1 287.6h0M322.8 287.9h0M332.6 271.5h0M330.5 284.6h0M323.7 274.9h0M320.8 287.4h0M318.8 268.3h0M323.8 271.6h0M324.5 273.6h0M322.2 265.1h0M317.5 276.6h0M332.2 276.0h0M332.2 280.2h0M324.8 285.3h0M316.1 264.7h0M330.8 278.3h0M318.4 272.3h0M325.6 282.8h0M318.7 275.7h0M326.4 277.8h0M331.2 281.6h0M332.4 266.1h0M323.7 272.1h0M331.0 272.6h0M317.6 275.0h0M319.1 275.8h0M315.9 264.6h0M324.4 273.5h0M317.7 264.2h0M325.5 286.3h0M325.4 288.2h0M327.4 287.6h0M317.1 273.7h0M331.4 267.8h0M321.8 280.4h0M328.2 268.2h0M321.4 287.0h0M325.2 288.6h0M319.1 269.3h0M331.6 281.6h0M320.2 269.2h0M319.5 267.7h0M323.8 269.7h0M328.5 270.0h0M320.8 270.1h0M319.3 274.5h0M316.9 265.5h0M329.3 264.3h0M325.1 265.4h0M326.5 286.0h0M323.5 271.7h0M322.0 274.7h0M318.3 265.5h0M319.5 267.7h0M317.9 272.3h0M320.2 279.3h0M328.5 276.7h0M329.3 276.4h0M324.2 283.3h0M316.4 269.4h0M323.0 281.2h0M317.4 271.3h0M333.2 268.6h0M331.3 275.8h0M321.3 284.9h0M333.0 269.7h0M327.3 270.0h0M324.4 287.1h0M333.4 274.6h0M331.0 285.3h0M320.7 281.5h0M315.4 265.4h0M325.4 286.8h0M331.3 285.8h0M334.5 270.0h0M319.2 270.9h0M334.9 270.9h0M322.9 287.2h0M330.8 276.0h0M330.8 283.9h0M320.3 273.1h0M332.6 276.8h0M331.1 279.2h0M325.5 269.0h0M325.8 286.7h0M329.5 283.6h0M328.6 275.0h0M324.1 281.2h0M330.5 276.9h0M331.7 285.8h0M328.5 273.2h0M331.1 277.7h0M324.7 270.1h0M331.2 270.5h0M317.4 281.6h0M318.1 266.9h0M329.6 278.7h0M317.5 272.6h0M327.0 278.5h0M321.1 274.7h0M320.3 272.7h0M323.2 284.1h0M325.8 281.7h0M321.1 269.8h0M330.8 280.6h0M320.1 286.7h0M317.6 270.6h0M323.2 268.8h0M331.4 281.8h0M319.3 278.7h0M318.7 273.4h0M326.8 271.0h0M319.5 276.5h0M332.9 271.0h0M326.7 279.6h0M321.5 272.1h0M317.7 282.9h0M332.3 280.2h0M317.8 279.8h0M331.6 265.0h0M323.9 268.7h0M327.9 280.2h0M328.8 271.3h0M324.4 286.6h0M328.6 273.9h0M327.5 285.6h0M328.7 286.9h0M321.5 287.6h0M320.5 280.7h0M322.2 267.1h0M322.1 287.4h0M333.4 271.8h0M328.2 288.3h0M331.3 272.8h0M315.2 265.8h0M322.0 265.7h0M332.4 270.1h0M331.4 275.1h0M323.0 276.2h0M316.9 272.5h0M333.2 275.3h0M330.5 288.0h0M324.3 266.6h0M319.9 284.6h0M319.3 265.8h0M330.5 266.3h0M332.6 281.7h0M329.8 265.4h0M320.2 283.6h0M335.5 266.1h0M318.6 283.6h0M328.6 268.8h0" stroke="#cf92cb" stroke-width="0.6" stroke-linecap="round" opacity="0.4"/>
<path d="M316.8 265.2 L334.3 265.2 C334.8 275.9 329.8 284.7 324.8 286.7 C319.8 284.7 316.3 275.9 316.8 265.2Z" fill="#cf92cb" opacity="0.7" filter="url(#bl)"/>
<path d="M318.0 266.4 L333.1 266.4 C333.6 275.9 328.6 283.5 324.8 285.5 C321.0 283.5 317.5 275.9 318.0 266.4Z" fill="#a94ea1" opacity="0.9" filter="url(#bl)"/>
<path d="M324.6 269.2h0M320.0 268.8h0M325.6 274.7h0M320.9 281.0h0M320.2 272.4h0M321.7 275.9h0M330.9 272.0h0M326.7 277.6h0M322.1 276.8h0M329.4 278.2h0M330.2 267.8h0M321.7 272.2h0M328.4 277.7h0M321.4 269.1h0M322.0 275.0h0M330.4 275.1h0M324.5 266.6h0M321.1 269.7h0M329.6 276.5h0M325.8 274.4h0M328.3 278.4h0M323.6 283.1h0M330.9 269.3h0M328.9 276.8h0M329.3 268.8h0M320.5 268.3h0M323.6 268.3h0M327.0 273.5h0M324.3 282.6h0M324.2 276.3h0M322.5 272.9h0M322.0 266.3h0M327.7 278.9h0M324.5 278.2h0M321.7 273.4h0M331.7 270.4h0M324.1 276.5h0M325.1 275.6h0M324.3 271.3h0M329.7 273.7h0M323.2 281.8h0M322.1 274.2h0M322.2 282.9h0M319.9 274.6h0M324.8 274.3h0M320.5 266.5h0M324.9 274.9h0M319.9 271.5h0M323.5 271.9h0M326.8 268.0h0M325.8 270.0h0M320.6 278.6h0M326.7 274.9h0M326.4 281.8h0M326.3 280.9h0M329.4 270.1h0M324.9 279.4h0M321.4 282.4h0M323.8 282.1h0M328.2 275.7h0M325.4 269.1h0M318.9 266.5h0M322.8 282.9h0M320.9 273.7h0M324.9 282.5h0M323.1 281.2h0M322.4 274.3h0M327.2 276.5h0M326.0 276.2h0M330.8 271.6h0M320.7 266.5h0M329.5 277.9h0M322.8 281.0h0M324.5 282.7h0M326.6 276.2h0M328.8 277.0h0M323.4 281.9h0M323.4 281.8h0M321.8 278.2h0M323.1 277.4h0M326.0 283.6h0M330.6 273.0h0M328.8 268.2h0M320.4 277.5h0M321.0 274.2h0M322.0 283.7h0M325.5 277.3h0M331.3 268.4h0M326.3 276.2h0M321.0 270.8h0M319.7 271.9h0M325.3 269.7h0M328.3 273.0h0M321.5 268.7h0M327.1 275.4h0M321.8 271.7h0M323.6 268.4h0M328.7 272.8h0M323.3 270.4h0M322.4 279.2h0M332.2 266.9h0M323.5 282.2h0M324.8 271.2h0M329.1 269.9h0M326.6 281.7h0M329.2 273.2h0M322.5 282.6h0M321.9 277.9h0M326.9 283.5h0M328.0 273.4h0M320.0 271.3h0M320.6 275.2h0M329.1 274.2h0M322.7 276.3h0M326.1 269.9h0M329.5 275.1h0M325.0 269.2h0M323.8 274.0h0M323.9 269.5h0M322.0 275.7h0M325.6 271.8h0M324.7 282.7h0M319.7 272.3h0M323.5 275.3h0M325.1 268.2h0M323.6 277.0h0M326.2 279.1h0M319.2 267.3h0M326.3 275.4h0M322.3 275.9h0M327.9 272.2h0M325.6 273.1h0M327.0 270.2h0M319.8 274.6h0M327.7 279.4h0M327.9 283.5h0M324.7 278.5h0M327.9 270.8h0M323.2 273.5h0M326.9 268.2h0M327.5 278.6h0M321.5 268.9h0M321.5 277.4h0M328.2 281.7h0M322.7 277.2h0M327.9 276.0h0M327.1 272.2h0M329.2 276.7h0M326.4 279.8h0M329.2 275.7h0M327.0 276.7h0M320.5 271.6h0M322.3 276.0h0M322.8 283.2h0M323.6 281.9h0M326.4 269.6h0M331.3 271.8h0M321.1 277.0h0M320.6 271.6h0M325.5 274.8h0M327.4 271.7h0M328.8 274.0h0M322.8 278.1h0M321.0 280.7h0M319.4 270.3h0M325.1 282.9h0M328.9 280.9h0M331.0 267.8h0M328.4 266.6h0M324.0 280.1h0M327.0 281.8h0M322.8 274.9h0M319.8 269.0h0M325.4 275.7h0M325.8 269.5h0M322.7 267.6h0M321.7 277.9h0M321.3 275.4h0M322.6 281.6h0M328.0 282.5h0M323.2 283.1h0M321.0 278.1h0M326.2 283.2h0M320.4 266.8h0M323.4 268.0h0M327.0 282.6h0M329.0 271.9h0M326.2 266.4h0M320.3 273.0h0M326.1 282.3h0M325.8 283.6h0M321.4 277.1h0M329.5 274.5h0M326.6 276.0h0M323.6 274.2h0M321.5 266.4h0M320.1 269.5h0M329.1 267.1h0M326.2 283.6h0M322.5 280.7h0" stroke="#8a3585" stroke-width="0.6" stroke-linecap="round" opacity="0.3"/>
<path d="M331.3 260.6h0M330.4 260.9h0M324.7 263.4h0M328.2 262.8h0M325.5 259.2h0M337.3 261.5h0M322.7 263.0h0M319.4 260.7h0M335.1 260.8h0M334.9 261.3h0M325.7 261.8h0M323.7 263.2h0M334.7 261.8h0M331.4 262.5h0M338.7 259.6h0M334.2 263.0h0M325.0 261.7h0M324.8 263.4h0M319.3 262.5h0M336.0 262.5h0M323.9 261.1h0M312.6 260.3h0M334.7 260.4h0M315.9 261.4h0M316.9 262.3h0M321.2 263.0h0M326.4 259.8h0M321.9 260.8h0M321.4 263.4h0M320.3 262.2h0M323.2 262.5h0M317.3 259.6h0M330.7 263.7h0M317.7 261.3h0M323.7 260.5h0M333.8 261.8h0M317.7 261.4h0M336.4 260.8h0M323.6 260.6h0M328.3 261.0h0M333.3 260.6h0M317.2 262.3h0M305.4 260.4h0M329.1 262.1h0M323.2 261.1h0M330.8 266.8h0M321.6 261.5h0M324.0 262.5h0M327.3 262.5h0M338.4 261.4h0M325.2 262.2h0M341.6 261.2h0M338.8 263.3h0M308.3 260.4h0M320.4 262.3h0M336.3 261.8h0M328.3 264.7h0M329.6 264.6h0M321.0 264.0h0M323.7 258.4h0M321.5 261.1h0M326.9 262.8h0M331.9 262.4h0M322.0 264.1h0M335.4 261.8h0M323.3 261.7h0M325.7 260.8h0M327.1 260.8h0M331.6 260.8h0M330.6 262.2h0M328.3 262.4h0M320.1 265.2h0M322.4 262.7h0M327.4 261.1h0M339.2 263.2h0M325.3 262.5h0M331.9 263.9h0M334.2 261.5h0M325.5 260.1h0M329.0 262.9h0M324.5 262.6h0M328.1 261.1h0M318.8 263.2h0M344.7 262.5h0M319.8 260.3h0M329.0 262.6h0M337.7 258.4h0M340.0 261.9h0M328.2 262.2h0M324.8 261.3h0M334.5 259.4h0M326.4 262.5h0M315.9 261.5h0M337.8 262.2h0M332.1 262.7h0M328.7 262.2h0M321.6 261.4h0M340.0 260.0h0M326.1 260.0h0M323.5 260.7h0M318.8 262.1h0M320.7 262.4h0M339.7 258.2h0M326.1 258.9h0M326.4 262.2h0M328.7 263.4h0M328.3 259.4h0M337.6 260.4h0M326.6 262.2h0M321.2 261.8h0M337.5 259.4h0M315.7 261.1h0M326.1 260.0h0M311.4 263.0h0M329.9 259.9h0M331.2 261.6h0M328.4 259.9h0M325.7 262.4h0M315.2 260.3h0M333.9 264.5h0" stroke="#70b070" stroke-width="0.6" stroke-linecap="round" opacity="0.35"/>
<ellipse cx="327.3" cy="261.7" rx="12.075000000000001" ry="2.52" transform="rotate(0 327.3 261.7)" fill="#8cc49a" opacity="0.6" filter="url(#bl)"/>
<ellipse cx="327.3" cy="261.7" rx="9.200000000000001" ry="1.7999999999999998" transform="rotate(0 327.3 261.7)" fill="#318a48" opacity="0.9" filter="url(#bl)"/>
<line x1="304.00" y1="305.30" x2="347.30" y2="305.30" stroke="#111" stroke-width="1.3"/>
<path d="M346.7 303.5 L351.3 305.3 L346.7 307.1Z" fill="#111"/>
<text transform="translate(319.10,314.90)" font-size="8.6" textLength="14.40" lengthAdjust="spacingAndGlyphs" font-weight="normal" fill="#222" class="c">CD23</text>
<rect x="357.1" y="248.2" width="50" height="50.5" fill="#fff" stroke="#c8c8c8" stroke-width="0.6"/>
<line x1="357.10" y1="248.20" x2="357.10" y2="298.70" stroke="#666" stroke-width="0.8"/>
<line x1="357.10" y1="298.70" x2="407.10" y2="298.70" stroke="#666" stroke-width="0.8"/>
<line x1="367.10" y1="298.70" x2="367.10" y2="297.70" stroke="#666" stroke-width="0.5"/>
<line x1="357.10" y1="258.30" x2="358.10" y2="258.30" stroke="#666" stroke-width="0.5"/>
<line x1="377.10" y1="298.70" x2="377.10" y2="297.70" stroke="#666" stroke-width="0.5"/>
<line x1="357.10" y1="268.40" x2="358.10" y2="268.40" stroke="#666" stroke-width="0.5"/>
<line x1="387.10" y1="298.70" x2="387.10" y2="297.70" stroke="#666" stroke-width="0.5"/>
<line x1="357.10" y1="278.50" x2="358.10" y2="278.50" stroke="#666" stroke-width="0.5"/>
<line x1="397.10" y1="298.70" x2="397.10" y2="297.70" stroke="#666" stroke-width="0.5"/>
<line x1="357.10" y1="288.60" x2="358.10" y2="288.60" stroke="#666" stroke-width="0.5"/>
<path d="M380.3 275.3h0M364.8 271.8h0M372.2 280.8h0M372.2 302.5h0M386.2 252.6h0M364.0 276.1h0M383.1 280.4h0M350.0 258.5h0M386.4 282.4h0M397.2 284.6h0M378.5 292.4h0M370.5 270.3h0M365.4 278.7h0M378.3 286.1h0M387.3 282.8h0M385.4 273.4h0M365.9 283.9h0M383.4 290.4h0M373.0 271.0h0M371.2 279.9h0M374.0 274.1h0M376.7 273.0h0M377.4 269.7h0M360.7 272.7h0M391.3 267.4h0M382.6 290.5h0M369.6 278.8h0M354.2 282.2h0M388.1 278.1h0M356.8 269.8h0M367.8 277.3h0M377.0 271.6h0M371.7 267.3h0M379.6 278.2h0M377.5 270.6h0M378.8 272.8h0M377.1 274.3h0M368.6 264.3h0M357.9 261.4h0M378.6 311.1h0M359.9 267.3h0M374.4 314.5h0M372.6 263.5h0M378.2 298.5h0M349.6 263.4h0M385.5 263.5h0M373.5 269.2h0M381.3 260.4h0M377.2 278.4h0M379.5 280.6h0M375.8 256.9h0M371.6 265.8h0M379.2 273.5h0M375.8 287.9h0M373.5 294.2h0M381.9 260.0h0M369.3 289.2h0M370.0 288.9h0M369.5 274.7h0M383.6 259.0h0M375.1 271.1h0M376.0 294.5h0M378.8 261.4h0M383.0 271.1h0M375.9 288.5h0M371.7 286.4h0M376.1 266.2h0M371.7 261.3h0M385.0 277.8h0M383.1 263.9h0M382.0 263.1h0M377.0 275.8h0M369.2 279.3h0M374.8 266.6h0M367.9 261.9h0M386.7 277.6h0M371.2 283.5h0M366.8 263.4h0M377.6 293.2h0M377.1 277.7h0M390.0 259.2h0M401.7 264.0h0M373.8 261.4h0M363.7 273.4h0M396.2 265.8h0M369.0 278.9h0M365.4 273.2h0M381.7 252.3h0M371.8 272.8h0M369.9 274.7h0M358.5 271.2h0M369.8 264.8h0M385.7 297.7h0M381.6 266.6h0M387.1 281.4h0M367.2 282.5h0M369.3 282.2h0M382.6 288.5h0M365.1 274.6h0M374.5 262.7h0M378.2 283.5h0M362.2 270.0h0M364.7 262.1h0M365.0 290.9h0M368.6 271.7h0M383.3 287.1h0M387.0 253.4h0M381.2 256.9h0M368.8 271.4h0M369.4 297.3h0M373.0 288.7h0M372.9 275.3h0M379.0 280.8h0M378.9 257.1h0M379.0 279.4h0M379.8 275.4h0M378.1 261.8h0M384.5 262.7h0M386.9 287.0h0M373.9 272.7h0M381.4 272.6h0M363.9 279.0h0M363.6 271.0h0M390.4 284.8h0M370.5 275.2h0M368.7 275.8h0M361.6 283.4h0M374.6 269.3h0M369.0 304.6h0M370.5 270.8h0M369.3 270.6h0M386.1 283.3h0M378.2 279.9h0M364.4 249.6h0M387.9 283.8h0M376.4 279.0h0M376.3 276.2h0M372.2 251.6h0M379.5 276.5h0M383.2 279.3h0M371.9 282.5h0M376.1 271.1h0M371.1 271.3h0M371.8 271.1h0M383.2 307.8h0M373.5 288.2h0M357.0 240.7h0M370.3 274.3h0M367.9 261.1h0M366.9 270.4h0M375.8 272.3h0M363.8 271.9h0M387.9 266.3h0M375.1 287.0h0M367.3 269.7h0M400.2 289.5h0M369.8 277.7h0M375.4 277.6h0M378.6 272.7h0M354.8 265.5h0M375.8 261.0h0M371.6 292.4h0M376.6 268.8h0M375.7 287.4h0M359.3 262.3h0M368.6 271.2h0M373.7 269.6h0M375.4 276.9h0M364.1 269.1h0M363.5 279.1h0M376.8 283.1h0M366.7 270.1h0M354.8 276.1h0M360.1 279.7h0M384.0 280.8h0M380.0 278.4h0M377.8 286.2h0M385.7 298.0h0M372.1 285.0h0M382.2 280.6h0M376.8 262.2h0M384.1 266.3h0M368.7 266.6h0M379.4 265.4h0M378.5 282.1h0M375.4 272.2h0M379.8 290.2h0M370.4 264.5h0M369.1 266.4h0M372.4 274.3h0M354.1 291.9h0M367.3 271.3h0M357.1 254.5h0M365.5 278.4h0M382.0 256.2h0M376.4 292.4h0M372.0 285.9h0M377.2 265.9h0M383.3 269.3h0M377.6 271.6h0M372.6 277.6h0M386.2 257.6h0M364.6 277.1h0M383.1 273.9h0M372.8 281.7h0M388.4 266.1h0M360.3 272.9h0M381.3 261.6h0M384.4 286.2h0M381.5 266.8h0M363.0 283.1h0M376.8 283.4h0M362.5 243.8h0M384.4 286.8h0M372.0 275.9h0M378.5 284.1h0M372.8 270.3h0M365.8 287.1h0M375.3 238.9h0M377.5 269.7h0" stroke="#b898c0" stroke-width="0.6" stroke-linecap="round" opacity="0.35"/>
<path d="M365.0 260.5h0M364.9 260.7h0M373.9 263.8h0M367.6 255.0h0M372.5 256.3h0M388.7 259.6h0M360.2 259.4h0M379.8 261.1h0M358.4 262.6h0M383.9 264.8h0M392.9 259.6h0M364.7 261.0h0M387.4 256.9h0M394.5 256.1h0M367.2 265.7h0M379.0 262.6h0M376.5 261.6h0M373.9 269.3h0M387.7 260.0h0M385.9 264.0h0M374.0 262.4h0M382.3 258.7h0M370.9 261.2h0M376.4 259.9h0M357.3 263.5h0M387.8 260.8h0M400.5 262.9h0M375.7 258.9h0M385.8 259.2h0M361.2 263.3h0M376.5 260.6h0M387.3 261.3h0M403.6 256.2h0M379.1 262.5h0M374.7 259.6h0M400.1 253.6h0M383.6 253.9h0M383.4 253.2h0M366.8 266.9h0M398.2 260.1h0M348.6 268.0h0M382.6 256.6h0M375.5 256.3h0M379.0 260.9h0M381.8 264.2h0M371.8 253.1h0M366.0 257.4h0M375.6 259.8h0M380.1 266.7h0M380.0 256.9h0M376.2 258.0h0M377.5 263.7h0M367.1 265.1h0M401.5 265.4h0M399.2 259.9h0M365.0 270.5h0M379.6 262.2h0M375.6 257.8h0M386.8 255.0h0M364.2 264.8h0M375.4 258.3h0M386.4 266.3h0M376.7 261.0h0M387.0 264.3h0M392.4 262.8h0M372.5 264.0h0M379.6 254.5h0M394.8 262.2h0M396.1 259.5h0M388.6 260.2h0M382.3 264.6h0M381.0 263.6h0M380.1 266.1h0M387.2 254.0h0M399.7 261.2h0M373.9 259.3h0M403.4 259.5h0M386.3 263.0h0M373.7 268.7h0M404.4 256.0h0M392.8 253.6h0M376.2 261.8h0M380.9 263.4h0M384.9 262.3h0M378.6 262.5h0M374.3 269.5h0M381.3 266.0h0M381.3 260.5h0M377.5 256.3h0M404.5 260.7h0" stroke="#a0c8a8" stroke-width="0.6" stroke-linecap="round" opacity="0.35"/>
<path d="M369.7 283.4h0M374.9 287.3h0M370.8 279.6h0M378.2 265.4h0M370.5 281.5h0M376.0 265.5h0M372.4 271.9h0M374.9 285.1h0M377.9 267.5h0M375.1 281.6h0M373.9 287.1h0M368.9 280.0h0M371.7 271.8h0M374.7 274.8h0M377.8 267.4h0M370.8 266.0h0M368.4 278.5h0M379.0 272.4h0M372.8 281.9h0M378.6 268.6h0M369.7 285.1h0M375.2 274.5h0M370.8 281.0h0M375.4 284.0h0M379.3 283.5h0M376.4 280.8h0M371.3 271.7h0M378.9 273.5h0M371.6 278.7h0M374.4 285.9h0M375.7 287.7h0M372.5 282.0h0M373.9 288.0h0M373.2 280.5h0M370.2 277.0h0M373.4 273.4h0M370.3 282.2h0M376.9 269.3h0M379.6 275.8h0M373.9 265.2h0M377.1 284.2h0M374.8 273.0h0M367.7 274.0h0M370.4 266.6h0M370.9 285.2h0M375.5 271.4h0M376.1 281.1h0M372.3 272.0h0M379.7 265.0h0M371.6 273.6h0M374.6 269.6h0M372.0 268.2h0M369.9 267.2h0M372.2 277.1h0M380.6 267.2h0M373.4 266.1h0M368.2 271.6h0M373.8 271.7h0M371.4 280.9h0M380.2 273.6h0M373.7 279.6h0M379.0 269.7h0M371.4 286.6h0M372.8 284.7h0M368.1 276.0h0M370.8 270.4h0M379.6 269.5h0M372.3 287.0h0M372.0 283.6h0M370.5 278.4h0M374.3 286.1h0M378.1 278.6h0M374.3 277.0h0M374.0 281.4h0M371.9 278.2h0M370.4 268.3h0M375.0 287.5h0M369.7 265.1h0M374.6 278.4h0M378.2 287.9h0M379.7 266.4h0M376.6 287.8h0M372.9 287.1h0M376.7 279.5h0M376.7 283.4h0M372.4 284.0h0M375.4 283.4h0M372.3 287.3h0M378.9 279.3h0M376.6 282.6h0M369.4 268.1h0M376.8 272.2h0M377.4 265.5h0M369.9 267.5h0M375.4 271.2h0M379.6 281.6h0M368.5 270.1h0M375.2 284.9h0M376.4 286.3h0M372.6 267.8h0M373.9 269.9h0M379.9 271.4h0M370.9 285.8h0M378.7 288.2h0M379.8 273.8h0M376.6 286.9h0M376.4 273.2h0M372.4 282.7h0M369.0 275.9h0M379.3 268.4h0M377.6 272.0h0M377.4 274.8h0M368.6 271.4h0M371.4 280.4h0M374.1 269.5h0M379.7 276.4h0M373.6 281.1h0M375.9 275.1h0M371.6 267.7h0M379.9 278.9h0M370.7 278.8h0M377.1 287.4h0M372.7 269.9h0M379.1 265.5h0M379.6 269.8h0M377.6 281.6h0M371.1 278.0h0M376.4 265.5h0M375.2 265.0h0M370.1 282.9h0M375.1 275.0h0M370.1 268.2h0M370.3 279.0h0M370.4 268.3h0M378.3 286.7h0M375.9 267.3h0M368.1 274.4h0M376.9 270.6h0M382.3 265.2h0M372.4 271.4h0M370.4 287.0h0M374.3 267.8h0M372.0 272.1h0M380.1 278.4h0M368.2 274.5h0M379.5 273.5h0M368.5 274.9h0M370.6 270.6h0M372.0 272.9h0M377.0 280.5h0M369.1 265.7h0M378.4 284.0h0M370.6 283.2h0M369.2 281.0h0M371.0 280.6h0M378.0 284.4h0M377.5 275.7h0M378.2 286.9h0M375.8 279.9h0M377.2 273.1h0M374.1 268.0h0M368.3 266.7h0M373.5 280.4h0M381.5 269.6h0M375.2 271.5h0M370.3 276.2h0M376.7 288.1h0M372.0 285.7h0M378.5 286.1h0M370.8 286.8h0M368.3 268.4h0M378.0 266.8h0M374.2 265.9h0M377.8 273.0h0M378.4 265.8h0M372.0 287.2h0M377.9 274.2h0M379.6 271.9h0M371.3 288.1h0M369.7 275.8h0M373.1 277.8h0M376.4 287.5h0M377.2 288.0h0M372.9 284.1h0M369.6 280.3h0M380.6 272.9h0M370.8 287.7h0M373.2 276.3h0M375.6 279.3h0M380.3 270.8h0M378.3 275.3h0M380.0 281.7h0M375.6 276.8h0M371.2 282.8h0M379.9 265.8h0M377.3 281.0h0M370.9 283.5h0M375.7 285.3h0M374.7 286.9h0M369.4 285.0h0M375.5 268.6h0M373.0 280.4h0M381.0 266.4h0M381.0 266.4h0M377.8 270.2h0M371.1 278.6h0M370.9 272.4h0M371.6 277.2h0M371.6 277.5h0M377.9 267.5h0M381.3 270.8h0M371.2 274.2h0M379.1 281.6h0M377.9 273.4h0M381.7 272.5h0M367.9 271.8h0M375.6 264.8h0M371.7 279.4h0M373.3 274.4h0M370.2 273.2h0M376.6 277.5h0M381.1 265.3h0M374.3 270.8h0M377.3 269.8h0M375.7 274.2h0M374.7 274.3h0M382.5 266.7h0M372.2 274.7h0M372.0 284.6h0M373.4 283.3h0M375.9 267.4h0M370.3 271.3h0M378.5 288.0h0M378.6 275.8h0M372.0 280.4h0M376.0 267.7h0M378.6 269.2h0M370.9 278.7h0M379.6 283.0h0M380.8 276.0h0M368.0 275.3h0M372.5 275.6h0M374.4 286.3h0M370.7 287.3h0M367.8 273.7h0M378.2 265.9h0M370.3 265.5h0M380.3 274.9h0M367.3 270.2h0M376.7 281.2h0" stroke="#cf92cb" stroke-width="0.6" stroke-linecap="round" opacity="0.4"/>
<path d="M368.6 265.7 L381.1 265.7 C381.6 275.9 377.6 284.2 374.1 286.2 C370.6 284.2 368.1 275.9 368.6 265.7Z" fill="#cf92cb" opacity="0.7" filter="url(#bl)"/>
<path d="M369.8 266.9 L379.9 266.9 C380.4 275.9 376.4 283.0 374.1 285.0 C371.8 283.0 369.3 275.9 369.8 266.9Z" fill="#a94ea1" opacity="0.9" filter="url(#bl)"/>
<path d="M378.5 269.0h0M376.3 281.0h0M374.5 280.3h0M372.2 278.3h0M373.5 277.3h0M373.2 272.2h0M377.6 268.0h0M371.7 279.3h0M371.3 275.2h0M372.3 275.7h0M373.4 282.6h0M372.9 275.3h0M371.9 281.6h0M372.5 271.7h0M373.6 279.0h0M373.4 280.9h0M374.4 268.8h0M371.6 268.1h0M375.0 275.3h0M372.0 270.2h0M374.1 275.3h0M375.7 274.6h0M370.5 269.0h0M377.5 267.8h0M372.4 278.3h0M373.1 272.2h0M373.8 281.9h0M372.0 278.5h0M372.3 267.4h0M374.1 277.3h0M375.7 281.1h0M377.3 277.7h0M375.7 282.5h0M373.9 268.2h0M375.7 269.1h0M371.7 275.0h0M374.5 268.0h0M373.8 277.0h0M375.4 274.5h0M375.5 278.2h0M372.2 273.5h0M372.0 281.1h0M372.1 270.1h0M375.2 276.5h0M374.9 268.3h0M375.6 276.2h0M376.9 267.9h0M373.7 271.2h0M377.8 268.8h0M376.3 276.9h0M371.9 275.2h0M371.5 273.3h0M377.5 268.3h0M373.8 266.7h0M377.3 267.4h0M372.2 283.0h0M378.1 272.7h0M373.1 270.8h0M375.8 283.0h0M375.8 273.1h0M373.5 279.8h0M373.7 266.7h0M377.0 278.1h0M373.9 274.0h0M375.4 273.0h0M378.7 267.1h0M372.1 282.4h0M373.1 266.8h0M377.1 269.1h0M374.4 281.1h0M373.0 282.3h0M373.7 269.9h0M372.4 274.1h0M375.3 281.9h0M372.5 271.5h0M373.8 271.4h0M376.0 277.5h0M372.3 282.4h0M373.7 269.9h0M374.0 282.4h0M376.1 278.6h0M373.6 274.3h0M375.0 279.5h0M373.2 283.1h0M374.1 282.4h0M374.9 281.0h0M376.7 276.0h0M372.8 268.0h0M376.7 274.7h0M377.1 269.8h0M373.4 268.2h0M376.0 274.4h0M376.8 275.3h0M373.7 278.1h0M373.7 275.3h0M373.3 281.1h0M372.5 269.7h0M377.2 270.8h0M372.9 278.0h0M377.4 273.6h0M373.0 282.6h0M372.2 282.3h0M373.4 283.2h0M372.1 282.4h0M376.8 278.1h0M374.6 280.2h0M372.5 269.3h0M375.7 282.3h0M373.4 270.4h0M373.2 276.8h0M377.8 270.2h0M375.9 268.5h0M374.3 273.4h0M375.4 281.1h0M371.7 279.5h0M375.7 280.1h0M372.2 266.7h0M376.3 278.8h0M377.0 275.6h0M372.6 268.1h0M375.7 280.2h0M375.3 270.4h0M376.2 273.9h0M373.2 273.3h0M375.3 279.3h0M376.2 272.7h0M374.7 271.0h0M373.4 269.8h0M371.6 273.6h0M373.5 271.8h0M374.7 272.1h0M375.8 281.5h0M371.8 271.6h0M378.3 268.1h0M375.6 279.2h0M373.7 281.7h0M371.2 269.5h0M376.5 273.3h0M374.2 268.1h0M372.2 268.0h0M375.4 275.8h0M373.4 282.3h0M371.1 270.5h0M370.8 269.8h0M371.2 266.7h0M374.2 275.6h0M374.1 281.7h0M371.6 268.1h0M377.0 278.3h0M372.9 279.1h0M374.1 272.4h0M373.0 273.9h0M370.6 269.3h0M376.4 281.2h0M373.6 282.8h0M372.7 278.0h0M370.3 268.6h0M376.9 272.2h0M372.7 275.4h0M374.8 274.6h0M374.3 269.9h0M373.9 282.0h0M375.0 283.0h0M378.4 268.8h0M374.0 278.1h0M376.0 269.8h0M374.4 269.8h0M374.0 269.2h0M374.5 282.7h0M375.3 275.2h0M375.0 277.5h0M372.4 271.4h0M377.0 276.7h0M374.1 281.1h0M375.3 271.6h0M374.8 267.5h0M376.7 279.6h0M372.1 268.2h0M375.2 274.6h0M372.5 282.6h0M374.6 268.8h0M371.8 279.8h0M376.1 273.0h0M372.2 273.6h0M377.2 267.9h0M374.7 275.1h0M375.8 278.0h0M373.6 273.3h0M372.3 281.9h0M374.1 279.5h0M372.8 275.5h0M373.3 282.3h0M371.2 272.0h0M375.7 281.4h0M371.6 267.5h0M370.9 271.5h0M376.8 274.9h0M374.3 278.6h0M373.3 282.9h0M372.8 271.9h0" stroke="#8a3585" stroke-width="0.6" stroke-linecap="round" opacity="0.3"/>
<path d="M373.6 260.7h0M386.1 262.0h0M394.4 259.3h0M369.7 259.9h0M371.7 262.1h0M378.4 260.4h0M373.0 260.8h0M377.8 263.2h0M384.8 262.8h0M386.1 261.8h0M388.6 261.1h0M391.2 261.9h0M393.0 260.4h0M375.0 265.4h0M378.3 262.1h0M377.4 260.4h0M383.1 259.3h0M379.2 263.4h0M381.2 262.3h0M384.7 261.4h0M381.0 262.0h0M373.4 262.6h0M372.5 260.8h0M375.8 259.6h0M366.3 263.0h0M383.8 261.9h0M395.8 260.1h0M385.4 259.6h0M385.0 259.1h0M394.0 258.6h0M377.4 262.5h0M364.8 264.5h0M373.5 262.1h0M387.1 260.8h0M386.7 259.9h0M384.1 257.6h0M390.8 259.3h0M374.0 261.8h0M392.1 259.1h0M380.0 260.7h0M373.4 259.9h0M384.4 261.9h0M374.9 262.0h0M383.4 261.5h0M379.0 261.4h0M382.0 259.5h0M379.2 262.4h0M376.3 263.5h0M378.3 259.7h0M377.9 259.4h0M384.2 258.5h0M380.2 260.8h0M378.0 262.0h0M382.1 260.2h0M385.9 260.0h0M386.7 262.6h0M382.9 262.3h0M370.7 262.8h0M369.6 261.9h0M384.7 256.8h0M374.5 260.6h0M373.5 261.8h0M384.5 259.1h0M375.5 258.9h0M374.9 258.6h0M369.5 262.8h0M386.2 259.5h0M382.5 259.8h0M387.9 263.1h0M362.6 261.5h0M375.5 260.9h0M391.4 262.5h0M380.1 262.1h0M368.8 261.7h0M378.1 261.2h0M382.0 258.7h0M373.0 265.0h0M367.9 262.4h0M385.3 261.5h0M380.3 258.8h0M376.6 259.2h0M394.0 260.5h0M385.3 261.0h0M377.5 263.2h0M386.4 261.6h0M384.3 261.9h0M378.2 262.0h0M380.7 260.8h0M385.0 263.9h0M365.9 264.6h0M377.2 263.2h0M372.9 261.6h0M387.3 260.5h0M382.4 259.2h0M372.2 264.3h0M381.2 261.0h0M370.2 260.5h0M372.8 261.8h0M379.2 260.4h0M375.4 261.8h0M388.2 258.4h0M370.2 263.7h0M370.0 261.5h0M381.2 263.8h0M365.3 258.2h0M379.7 262.8h0M381.0 259.9h0M381.2 258.1h0M386.1 262.9h0M378.8 262.5h0M372.8 264.0h0M375.4 260.4h0M374.5 259.1h0M385.1 263.7h0M370.0 261.8h0M383.2 260.1h0M369.1 262.7h0M387.2 260.7h0M372.5 261.4h0M366.4 262.3h0" stroke="#70b070" stroke-width="0.6" stroke-linecap="round" opacity="0.35"/>
<ellipse cx="380.1" cy="261.2" rx="12.600000000000001" ry="2.7300000000000004" transform="rotate(-5 380.1 261.2)" fill="#8cc49a" opacity="0.6" filter="url(#bl)"/>
<ellipse cx="380.1" cy="261.2" rx="9.600000000000001" ry="1.9500000000000002" transform="rotate(-5 380.1 261.2)" fill="#318a48" opacity="0.9" filter="url(#bl)"/>
<line x1="357.80" y1="305.30" x2="401.10" y2="305.30" stroke="#111" stroke-width="1.3"/>
<path d="M400.5 303.5 L405.1 305.3 L400.5 307.1Z" fill="#111"/>
<text transform="translate(373.20,314.90)" font-size="8.6" textLength="13.80" lengthAdjust="spacingAndGlyphs" font-weight="normal" fill="#222" class="c">Mac1</text>
<rect x="410.9" y="248.2" width="50" height="50.5" fill="#fff" stroke="#c8c8c8" stroke-width="0.6"/>
<line x1="410.90" y1="248.20" x2="410.90" y2="298.70" stroke="#666" stroke-width="0.8"/>
<line x1="410.90" y1="298.70" x2="460.90" y2="298.70" stroke="#666" stroke-width="0.8"/>
<line x1="420.90" y1="298.70" x2="420.90" y2="297.70" stroke="#666" stroke-width="0.5"/>
<line x1="410.90" y1="258.30" x2="411.90" y2="258.30" stroke="#666" stroke-width="0.5"/>
<line x1="430.90" y1="298.70" x2="430.90" y2="297.70" stroke="#666" stroke-width="0.5"/>
<line x1="410.90" y1="268.40" x2="411.90" y2="268.40" stroke="#666" stroke-width="0.5"/>
<line x1="440.90" y1="298.70" x2="440.90" y2="297.70" stroke="#666" stroke-width="0.5"/>
<line x1="410.90" y1="278.50" x2="411.90" y2="278.50" stroke="#666" stroke-width="0.5"/>
<line x1="450.90" y1="298.70" x2="450.90" y2="297.70" stroke="#666" stroke-width="0.5"/>
<line x1="410.90" y1="288.60" x2="411.90" y2="288.60" stroke="#666" stroke-width="0.5"/>
<path d="M446.1 283.8h0M435.7 277.0h0M432.3 274.0h0M431.7 274.3h0M432.3 274.7h0M441.9 272.5h0M426.1 277.7h0M434.5 267.8h0M440.9 264.4h0M443.8 278.3h0M430.9 265.8h0M435.4 263.7h0M443.9 250.3h0M437.6 269.2h0M427.7 279.0h0M432.6 277.2h0M433.0 269.9h0M440.6 282.2h0M444.3 272.5h0M448.2 269.3h0M425.6 254.1h0M425.0 264.1h0M422.3 276.0h0M436.7 272.4h0M438.3 271.6h0M434.4 269.5h0M436.7 261.5h0M446.5 288.1h0M436.7 295.4h0M428.7 281.7h0M423.6 278.7h0M430.5 282.7h0M437.3 282.2h0M441.2 277.9h0M434.2 288.6h0M439.2 277.5h0M447.8 270.1h0M450.2 283.5h0M437.0 258.3h0M446.1 269.6h0M437.2 273.9h0M444.0 279.0h0M422.0 266.2h0M439.2 274.4h0M442.7 278.4h0M449.3 265.5h0M446.8 276.5h0M438.8 279.5h0M433.8 279.9h0M434.8 279.9h0M430.4 284.4h0M424.4 266.2h0M436.0 275.1h0M430.1 268.7h0M438.5 283.2h0M446.7 268.0h0M435.9 269.6h0M424.4 268.3h0M445.4 259.3h0M459.1 282.5h0M450.1 274.6h0M418.2 277.1h0M449.0 267.0h0M446.5 280.3h0M442.6 280.2h0M441.1 279.2h0M445.9 277.0h0M441.4 277.0h0M437.6 264.0h0M422.2 262.6h0M426.6 258.0h0M441.9 269.4h0M446.5 303.9h0M442.6 268.1h0M439.5 270.7h0M438.7 293.5h0M449.1 285.5h0M438.7 290.5h0M443.0 281.6h0M427.2 266.6h0M437.8 270.6h0M432.3 252.8h0M430.6 271.6h0M438.9 262.0h0M435.4 290.8h0M437.7 253.1h0M435.0 272.8h0M446.5 274.7h0M447.3 276.1h0M445.7 286.3h0M448.6 274.7h0M441.6 312.0h0M426.8 274.7h0M440.2 265.7h0M443.0 271.1h0M442.7 274.7h0M429.1 283.2h0M452.4 282.0h0M438.7 255.5h0M439.0 272.4h0M430.2 253.6h0M440.0 282.5h0M442.1 295.6h0M421.5 276.3h0M436.3 287.0h0M436.2 263.1h0M436.0 277.1h0M430.7 264.9h0M438.6 281.5h0M434.7 277.6h0M432.5 269.3h0M438.0 282.5h0M449.0 271.5h0M440.0 292.5h0M443.1 269.2h0M439.7 258.5h0M419.9 265.1h0M430.8 259.3h0M444.6 268.2h0M437.2 273.5h0M434.9 261.0h0M451.8 252.9h0M436.2 279.7h0M434.9 271.7h0M438.9 275.1h0M433.9 283.6h0M440.5 287.9h0M437.2 252.8h0M423.5 267.6h0M440.1 256.4h0M432.1 285.3h0M439.1 265.6h0M435.7 273.9h0M433.2 269.6h0M431.5 275.0h0M449.0 287.4h0M426.7 296.1h0M435.6 258.7h0M424.8 274.2h0M438.3 266.3h0M430.2 270.6h0M438.6 279.5h0M440.9 248.9h0M431.9 275.4h0M439.5 280.8h0M424.8 288.5h0M427.2 270.7h0M432.9 268.0h0M430.4 281.0h0M442.7 276.3h0M426.6 266.5h0M436.1 276.8h0M432.2 270.1h0M457.1 273.4h0M434.2 248.1h0M430.6 289.1h0M443.2 260.8h0M442.7 274.5h0M430.3 280.7h0M431.8 269.7h0M436.7 274.9h0M433.1 275.7h0M436.6 274.7h0M439.6 266.4h0M425.8 272.0h0M446.2 276.1h0M438.3 265.3h0M427.6 260.3h0M429.4 269.0h0M424.5 271.6h0M424.3 279.3h0M436.3 255.1h0M432.3 275.1h0M439.5 280.6h0M433.8 271.3h0M434.7 278.2h0M431.1 271.1h0M437.7 269.3h0M428.1 286.4h0M440.4 263.6h0M451.9 265.1h0M429.7 269.1h0M440.7 287.8h0M447.2 278.3h0M437.1 279.4h0M430.4 265.7h0M440.7 274.8h0M438.4 262.6h0M438.5 258.3h0M443.8 272.9h0M431.5 268.1h0M458.2 304.2h0M431.1 286.5h0M413.9 284.1h0M436.7 275.3h0M429.1 259.6h0M438.4 268.3h0M440.5 283.4h0M435.6 278.2h0M437.9 275.1h0M432.5 275.2h0M439.9 273.5h0M433.0 258.2h0M428.2 288.5h0M444.4 275.7h0M438.8 271.3h0M441.9 282.4h0M434.6 275.9h0M444.0 256.9h0M429.2 267.0h0M427.5 268.4h0M430.0 268.8h0M440.3 261.0h0M437.3 286.6h0M438.0 260.5h0M431.9 284.5h0M434.5 266.5h0M442.6 265.6h0M427.9 278.9h0M436.7 266.3h0" stroke="#b898c0" stroke-width="0.6" stroke-linecap="round" opacity="0.35"/>
<path d="M432.9 265.7h0M436.1 260.9h0M432.4 263.2h0M420.6 270.2h0M424.3 260.2h0M423.0 258.7h0M436.2 260.5h0M424.0 254.9h0M430.1 261.3h0M422.3 262.5h0M417.6 266.5h0M421.5 265.1h0M428.1 252.9h0M421.3 260.3h0M434.6 263.2h0M434.3 267.8h0M426.8 260.0h0M416.1 259.6h0M432.1 257.6h0M424.1 266.6h0M414.0 270.2h0M436.1 252.9h0M432.1 261.1h0M434.7 259.3h0M429.3 267.6h0M425.5 264.1h0M433.1 260.5h0M435.1 262.8h0M433.2 253.8h0M422.5 264.1h0M437.7 266.2h0M428.6 258.7h0M420.5 255.0h0M426.2 264.7h0M427.5 255.8h0M428.4 262.0h0M425.2 268.5h0M432.7 265.7h0M429.0 257.6h0M436.9 265.0h0M424.3 256.9h0M433.9 258.5h0M421.5 262.7h0M432.1 258.0h0M430.0 265.7h0M432.8 254.5h0M435.0 268.2h0M434.9 260.3h0M430.3 254.9h0M424.9 260.3h0M442.5 259.4h0M424.0 269.8h0M435.8 253.6h0M426.5 255.0h0M434.1 251.2h0M440.3 255.3h0M423.8 271.6h0M432.8 262.6h0M433.9 256.7h0M434.5 259.6h0M432.6 262.1h0M437.1 254.9h0M420.5 266.0h0M444.7 261.3h0M428.5 264.7h0M421.3 263.5h0M418.3 264.1h0M435.0 267.9h0M426.5 266.1h0M437.0 255.9h0M425.9 254.4h0M423.7 264.5h0M415.7 262.8h0M434.8 266.8h0M413.2 266.1h0M423.4 253.0h0M422.9 265.3h0M429.4 264.6h0M427.6 264.8h0M422.0 258.8h0M426.7 254.7h0M436.8 259.3h0M422.1 259.3h0M422.9 263.3h0M427.3 265.7h0M421.6 262.7h0M419.0 261.5h0M437.7 259.7h0M434.7 260.5h0M421.4 259.3h0" stroke="#a0c8a8" stroke-width="0.6" stroke-linecap="round" opacity="0.35"/>
<path d="M431.9 272.7h0M430.5 287.7h0M440.1 279.6h0M432.9 271.8h0M428.0 283.0h0M431.3 277.4h0M430.2 274.5h0M433.4 268.6h0M436.7 273.7h0M436.4 272.4h0M433.8 270.9h0M438.4 268.0h0M437.9 274.5h0M430.9 278.1h0M438.9 262.5h0M441.5 272.9h0M440.3 277.2h0M430.9 276.9h0M435.8 278.1h0M433.0 280.6h0M440.3 272.6h0M431.5 270.2h0M438.9 268.0h0M432.3 279.9h0M432.3 277.6h0M435.6 266.5h0M440.0 273.4h0M434.8 278.2h0M444.7 269.2h0M437.9 274.8h0M432.8 281.9h0M437.0 269.4h0M442.8 263.5h0M439.7 268.9h0M439.2 269.6h0M438.7 272.3h0M432.8 274.3h0M442.6 266.0h0M432.7 269.5h0M432.1 278.8h0M440.6 277.6h0M440.8 272.9h0M431.2 272.1h0M426.8 278.1h0M434.6 278.9h0M438.0 263.7h0M434.6 274.9h0M436.9 269.9h0M437.1 271.9h0M444.1 268.4h0M429.3 268.8h0M440.9 265.6h0M435.3 274.9h0M436.8 274.8h0M437.3 264.4h0M440.4 272.5h0M428.2 278.3h0M445.4 259.9h0M444.7 277.5h0M428.8 275.0h0M434.6 279.5h0M440.3 264.5h0M436.9 270.4h0M437.8 272.3h0M441.1 267.6h0M435.8 269.3h0M441.8 264.9h0M430.9 284.6h0M428.0 275.1h0M434.5 277.8h0M436.0 274.1h0M436.6 275.6h0M432.7 270.2h0M439.2 282.7h0M435.8 266.7h0M433.4 277.8h0M440.8 271.3h0M428.6 268.8h0M428.1 276.1h0M439.8 278.4h0M437.1 276.5h0M440.0 281.0h0M443.9 269.3h0M434.7 271.9h0M429.6 267.8h0M436.5 272.4h0M445.3 275.7h0M436.0 271.8h0M438.6 265.1h0M440.1 274.6h0M437.5 273.5h0M437.5 263.6h0M434.2 275.0h0M434.3 276.2h0M434.5 270.0h0M437.1 272.5h0M433.7 280.2h0M434.7 272.8h0M433.0 274.4h0M438.9 269.4h0M435.8 265.2h0M435.1 273.1h0M435.0 271.4h0M431.4 284.7h0M435.0 286.1h0M436.4 274.0h0M442.0 277.7h0M439.8 271.2h0M432.8 275.8h0M435.9 268.5h0M430.7 271.9h0M434.8 275.3h0M436.4 265.2h0M440.1 274.6h0M441.7 268.2h0M438.0 258.1h0M435.1 278.1h0M436.7 283.6h0M432.8 264.4h0M436.5 268.0h0M437.6 268.4h0M431.6 270.2h0M438.6 269.1h0M439.5 266.3h0M436.1 270.5h0M435.1 271.6h0M435.3 264.0h0M431.9 275.1h0M435.4 266.6h0M443.6 274.5h0M437.2 267.7h0M440.1 277.6h0M433.6 281.1h0M436.3 262.5h0M439.1 276.6h0M432.8 275.9h0M431.5 282.3h0M431.3 272.5h0M437.6 278.7h0M436.1 270.2h0M433.3 275.5h0M435.4 271.4h0M440.1 273.8h0M437.5 272.5h0M441.6 261.6h0M432.4 273.1h0M435.7 268.6h0M431.2 284.2h0M436.1 266.8h0M429.3 272.2h0M438.2 268.4h0M432.7 277.0h0M439.0 276.1h0M437.9 279.6h0M433.0 276.0h0M435.1 276.8h0M432.4 283.8h0M431.3 272.6h0M427.4 282.6h0M435.5 270.1h0M436.4 272.5h0M442.3 275.1h0M434.8 278.4h0M443.7 270.3h0M440.5 266.5h0M434.7 280.6h0M435.3 270.5h0M439.4 276.8h0M440.2 271.7h0M436.2 270.4h0M445.1 267.7h0M431.0 279.7h0M438.7 267.1h0M437.7 272.0h0M434.8 275.0h0M442.5 266.4h0M433.6 280.5h0M432.1 270.1h0M430.9 274.2h0M434.3 269.7h0M433.9 274.3h0M435.3 263.6h0M433.8 279.8h0M433.7 274.0h0M437.0 273.7h0M437.6 269.9h0M432.8 278.4h0M434.9 279.8h0M433.7 272.2h0M437.3 265.0h0M440.1 272.7h0M440.5 266.0h0M435.8 271.7h0M432.7 277.2h0M437.6 274.1h0M438.2 270.8h0M434.7 270.2h0M433.4 270.2h0M433.4 278.2h0M429.2 284.3h0M434.3 272.5h0M437.7 269.6h0M440.3 263.7h0M441.5 271.5h0M440.6 263.5h0M441.3 267.1h0M443.4 269.5h0M432.4 274.9h0M445.3 264.7h0M426.9 278.2h0M441.4 265.7h0M433.3 275.5h0M431.5 279.7h0M433.6 272.4h0M436.8 282.0h0M435.8 276.0h0M435.4 271.8h0M433.5 273.8h0M441.6 268.9h0M432.4 271.1h0M442.5 277.0h0M436.9 272.7h0M432.5 266.5h0M446.4 264.4h0M445.2 269.4h0M437.0 289.2h0M441.7 274.3h0M439.7 270.8h0M434.4 273.0h0M424.5 270.6h0M437.9 266.7h0M433.9 275.5h0M433.0 273.3h0M431.7 271.1h0M430.7 274.8h0M431.4 274.2h0M429.3 270.5h0M442.0 270.2h0M438.6 268.4h0M436.2 277.3h0M437.1 281.2h0M442.5 271.0h0M435.5 275.6h0M440.1 266.3h0M437.1 288.8h0M442.8 259.5h0M442.9 274.6h0M446.4 270.9h0M436.3 277.5h0M432.4 268.7h0" stroke="#cf92cb" stroke-width="0.6" stroke-linecap="round" opacity="0.4"/>
<ellipse cx="436.4" cy="272.7" rx="5.225" ry="9.025" transform="rotate(25 436.4 272.7)" fill="#cf92cb" opacity="0.7" filter="url(#bl)"/>
<ellipse cx="436.4" cy="272.7" rx="4.125" ry="7.6000000000000005" transform="rotate(25 436.4 272.7)" fill="#a94ea1" opacity="0.9" filter="url(#bl)"/>
<path d="M436.3 275.4h0M441.3 264.1h0M431.3 271.8h0M441.9 268.9h0M435.7 276.2h0M437.0 266.4h0M437.6 271.4h0M436.5 271.9h0M435.7 273.6h0M435.4 272.1h0M436.7 269.2h0M438.4 270.2h0M437.4 273.1h0M437.5 275.6h0M432.6 270.8h0M437.5 273.6h0M434.7 276.4h0M439.8 268.7h0M435.0 276.2h0M438.7 268.5h0M436.9 275.4h0M438.3 274.3h0M435.2 275.7h0M431.6 277.5h0M436.8 273.8h0M436.6 276.0h0M430.7 273.9h0M437.4 269.9h0M436.6 276.7h0M438.1 270.9h0M438.1 269.5h0M442.3 272.7h0M435.5 279.0h0M435.6 270.1h0M432.5 269.8h0M433.6 272.0h0M435.9 272.5h0M437.2 271.1h0M436.7 272.5h0M435.5 271.0h0M437.4 267.8h0M439.3 266.3h0M437.5 273.0h0M434.9 276.8h0M438.9 272.0h0M435.2 277.0h0M435.5 273.8h0M438.8 269.5h0M437.5 271.6h0M435.2 273.9h0M439.1 270.2h0M436.2 271.8h0M434.0 273.1h0M437.1 270.1h0M438.3 273.2h0M434.3 271.3h0M435.6 273.5h0M439.8 276.6h0M439.4 273.4h0M436.5 274.8h0M435.8 273.4h0M434.4 274.6h0M431.9 277.7h0M431.5 264.6h0M435.6 273.8h0M439.2 267.3h0M438.6 270.0h0M437.4 271.4h0M438.3 267.2h0M434.8 269.6h0M434.0 272.6h0M433.4 272.2h0M438.6 270.6h0M435.1 270.6h0M435.7 278.1h0M440.4 274.9h0M437.3 273.9h0M438.0 269.0h0M433.9 276.2h0M440.0 271.8h0M430.3 277.7h0M435.7 274.3h0M438.9 266.4h0M438.5 269.6h0M436.8 270.3h0M432.1 280.6h0M442.4 267.3h0M434.2 269.6h0M433.9 274.7h0M440.5 271.6h0M437.8 272.5h0M430.7 274.9h0M441.0 271.4h0M438.4 271.5h0M436.9 271.0h0M436.0 272.7h0M434.8 273.1h0M432.6 274.3h0M437.5 265.5h0M438.5 272.2h0M433.9 275.3h0M433.2 279.3h0M439.5 268.2h0M436.5 269.9h0M433.1 278.2h0M438.8 280.9h0M436.4 274.9h0M440.2 265.3h0M435.9 280.7h0M435.4 272.1h0M435.3 271.3h0M436.5 268.0h0M441.8 267.1h0M440.2 269.7h0M439.1 265.6h0M439.2 269.8h0M442.6 271.7h0M435.8 275.2h0M435.8 269.0h0M433.4 273.6h0M435.3 276.4h0M435.1 268.2h0M436.9 271.0h0M435.2 276.8h0M437.9 270.1h0M437.4 270.2h0M432.2 278.4h0M434.8 279.5h0M436.1 272.3h0M433.6 272.4h0M436.7 275.7h0M434.0 272.0h0M438.9 271.9h0M438.5 271.6h0M437.3 270.7h0M434.9 268.5h0M437.2 271.8h0M437.3 270.7h0M438.4 272.9h0M437.9 271.4h0M439.0 273.5h0M433.7 280.6h0M439.7 267.7h0M434.6 273.2h0M436.2 266.5h0M438.7 267.2h0M437.8 275.1h0M433.9 276.5h0M437.0 268.0h0M438.1 273.5h0M434.3 276.0h0M435.1 274.8h0M435.0 276.8h0M438.2 271.6h0M439.8 272.8h0M441.7 269.9h0M440.1 265.1h0M435.2 277.7h0M434.9 273.9h0M433.7 277.4h0M436.5 274.2h0M440.9 268.5h0M437.5 273.8h0M438.8 273.9h0M437.6 273.0h0M435.3 270.1h0M438.2 268.0h0M437.1 271.0h0M440.3 273.5h0M436.5 273.1h0M440.3 267.8h0M430.5 276.5h0M436.2 268.9h0M438.1 274.7h0M433.7 274.5h0M431.6 277.2h0M435.3 273.6h0M433.3 279.2h0M434.7 271.5h0M443.7 267.6h0M435.0 273.2h0M435.3 274.0h0M440.4 269.9h0M433.1 276.6h0M444.4 265.3h0M435.8 276.6h0M436.5 269.1h0M434.6 271.0h0M433.1 274.1h0M434.3 273.8h0M432.0 274.3h0M436.2 276.5h0M433.3 280.8h0M438.2 273.7h0M440.0 272.9h0M434.1 278.4h0M435.5 272.3h0M436.6 273.6h0M434.3 275.9h0M441.1 273.3h0" stroke="#8a3585" stroke-width="0.6" stroke-linecap="round" opacity="0.3"/>
<path d="M423.4 261.9h0M423.4 260.5h0M425.4 264.1h0M429.7 262.8h0M428.8 263.4h0M427.8 264.1h0M432.2 261.5h0M423.2 260.8h0M429.6 259.8h0M428.2 261.5h0M433.8 259.7h0M429.2 260.9h0M426.3 262.9h0M432.1 258.7h0M435.1 264.4h0M429.6 262.5h0M425.0 261.7h0M430.0 261.4h0M433.7 259.4h0M428.1 262.7h0M428.6 261.3h0M428.6 262.4h0M422.6 267.2h0M431.3 259.5h0M425.3 260.4h0M430.0 258.4h0M437.8 259.2h0M424.3 266.0h0M429.0 262.5h0M428.1 261.4h0M435.9 257.1h0M429.6 260.3h0M427.6 261.8h0M422.3 263.9h0M429.8 262.5h0M426.9 263.3h0M427.4 263.3h0M434.0 261.8h0M423.6 262.8h0M425.7 265.6h0M429.3 259.5h0M423.7 264.9h0M425.3 263.0h0M427.7 261.7h0M427.3 262.0h0M434.6 259.2h0M430.9 262.2h0M426.1 260.3h0M425.8 263.2h0M429.8 263.3h0M430.3 261.7h0M429.0 262.1h0M429.3 262.8h0M426.1 264.0h0M434.9 260.5h0M430.7 259.4h0M428.9 259.3h0M432.6 261.1h0M433.2 262.8h0M426.4 263.5h0M435.2 264.3h0M428.7 262.7h0M426.8 263.2h0M431.5 263.7h0M428.4 261.9h0M430.7 261.1h0M435.9 256.8h0M422.5 262.0h0M431.5 261.3h0M430.0 259.0h0M431.3 262.2h0M435.2 262.0h0M426.4 260.9h0M424.6 261.6h0M428.9 263.8h0M435.0 260.8h0M431.1 261.0h0M424.3 263.4h0M425.8 259.6h0M426.3 264.7h0M425.1 264.7h0M423.9 262.5h0M430.7 260.7h0M425.4 262.3h0M435.3 261.7h0M429.8 262.5h0M433.7 263.1h0M427.7 260.5h0M425.3 262.4h0M427.8 261.9h0M427.4 266.1h0M426.8 264.5h0M425.5 261.0h0M424.3 260.7h0M422.7 261.4h0M428.2 263.0h0M422.5 263.6h0M428.5 261.8h0M421.1 263.9h0M431.7 263.1h0M428.2 263.9h0M428.9 260.2h0M431.1 262.9h0M429.8 261.5h0M428.2 263.0h0M422.3 263.4h0M424.0 261.7h0M430.0 263.6h0M428.6 260.2h0M439.1 260.5h0M418.9 263.3h0M426.0 261.2h0M433.4 264.5h0M428.9 259.5h0M432.2 261.3h0M427.5 262.3h0M424.7 262.8h0M430.6 263.4h0M436.2 259.4h0M430.1 260.2h0" stroke="#70b070" stroke-width="0.6" stroke-linecap="round" opacity="0.35"/>
<ellipse cx="428.9" cy="261.7" rx="6.825" ry="2.94" transform="rotate(-10 428.9 261.7)" fill="#8cc49a" opacity="0.6" filter="url(#bl)"/>
<ellipse cx="428.9" cy="261.7" rx="5.2" ry="2.0999999999999996" transform="rotate(-10 428.9 261.7)" fill="#318a48" opacity="0.9" filter="url(#bl)"/>
<line x1="411.60" y1="305.30" x2="454.90" y2="305.30" stroke="#111" stroke-width="1.3"/>
<path d="M454.3 303.5 L458.9 305.3 L454.3 307.1Z" fill="#111"/>
<text transform="translate(428.30,314.90)" font-size="8.6" textLength="11.20" lengthAdjust="spacingAndGlyphs" font-weight="normal" fill="#222" class="c">CD5</text>
<rect x="460.90" y="181.60" width="7.50" height="2.80" fill="#318a48"/>
<text transform="translate(472.00,184.80)" font-size="5.8" textLength="31.70" lengthAdjust="spacingAndGlyphs" font-weight="normal" fill="#222">CD19<tspan font-size="3.8" dy="-2.3">+</tspan><tspan dy="2.3">B220</tspan><tspan font-size="3.8" dy="-2.3">+</tspan></text>
<rect x="461.10" y="192.20" width="7.30" height="2.80" fill="#9a2c90"/>
<text transform="translate(473.00,195.70)" font-size="5.8" textLength="33.80" lengthAdjust="spacingAndGlyphs" font-weight="normal" fill="#222">CD19<tspan font-size="3.8" dy="-2.3">+</tspan><tspan dy="2.3">B220</tspan><tspan font-size="3.8" dy="-2.3">low</tspan></text>
<text transform="translate(7.40,338.70)" font-size="11.6" text-anchor="start" font-weight="bold" fill="#000" stroke="#000" stroke-width="0.25">E</text>
<line x1="21.00" y1="466.00" x2="21.00" y2="358.00" stroke="#111" stroke-width="1.3"/>
<path d="M18.8 359 L21 353 L23.2 359Z" fill="#111"/>
<text transform="translate(15.40,429.10) rotate(-90)" font-size="8.4" textLength="38.50" lengthAdjust="spacingAndGlyphs" font-weight="normal" fill="#222" class="c">Mean intensity</text>
<text transform="translate(79.80,353.30)" font-size="9.4" textLength="15.60" lengthAdjust="spacingAndGlyphs" font-weight="normal" fill="#222" font-style="italic">Tet2</text>
<text transform="translate(96.10,350.30)" font-size="6.8" textLength="30.50" lengthAdjust="spacingAndGlyphs" font-weight="normal" fill="#222">CD19Cre-</text>
<text transform="translate(130.00,353.30)" font-size="9.2" textLength="26.00" lengthAdjust="spacingAndGlyphs" font-weight="normal" fill="#222">B-cells</text>
<text transform="translate(60.50,417.90)" font-size="9.4" textLength="15.00" lengthAdjust="spacingAndGlyphs" font-weight="normal" fill="#222" font-style="italic">Tet2</text>
<text transform="translate(76.20,414.80)" font-size="6.8" textLength="32.50" lengthAdjust="spacingAndGlyphs" font-weight="normal" fill="#222">CD19Cre+</text>
<text transform="translate(113.00,417.90)" font-size="9.2" textLength="20.00" lengthAdjust="spacingAndGlyphs" font-weight="normal" fill="#222">B220</text>
<text transform="translate(133.70,414.30)" font-size="6.8" textLength="8.80" lengthAdjust="spacingAndGlyphs" font-weight="normal" fill="#222">low</text>
<text transform="translate(147.00,417.90)" font-size="9.2" textLength="25.50" lengthAdjust="spacingAndGlyphs" font-weight="normal" fill="#222">B-cells</text>
<line x1="22.50" y1="395.40" x2="51.80" y2="395.40" stroke="#7a7a7a" stroke-width="0.7"/>
<line x1="22.80" y1="368.70" x2="51.80" y2="359.40" stroke="#b86a78" stroke-width="0.65"/>
<line x1="53.80" y1="395.40" x2="82.30" y2="395.40" stroke="#7a7a7a" stroke-width="0.7"/>
<line x1="54.10" y1="368.70" x2="82.30" y2="359.40" stroke="#b86a78" stroke-width="0.65"/>
<line x1="84.40" y1="395.40" x2="112.50" y2="395.40" stroke="#7a7a7a" stroke-width="0.7"/>
<line x1="84.70" y1="368.70" x2="112.50" y2="359.40" stroke="#b86a78" stroke-width="0.65"/>
<line x1="116.00" y1="395.40" x2="147.80" y2="395.40" stroke="#7a7a7a" stroke-width="0.7"/>
<line x1="116.30" y1="368.70" x2="147.80" y2="359.40" stroke="#b86a78" stroke-width="0.65"/>
<line x1="148.50" y1="395.40" x2="179.10" y2="395.40" stroke="#7a7a7a" stroke-width="0.7"/>
<line x1="148.80" y1="368.70" x2="179.10" y2="359.40" stroke="#b86a78" stroke-width="0.65"/>
<line x1="181.30" y1="395.40" x2="214.00" y2="395.40" stroke="#7a7a7a" stroke-width="0.7"/>
<line x1="181.60" y1="368.70" x2="214.00" y2="359.40" stroke="#b86a78" stroke-width="0.65"/>
<line x1="22.50" y1="464.60" x2="51.50" y2="464.60" stroke="#7a7a8a" stroke-width="0.7"/>
<line x1="22.80" y1="438.60" x2="50.50" y2="429.30" stroke="#b86a78" stroke-width="0.65"/>
<text transform="translate(36.00,474.90)" font-size="6.5" text-anchor="middle" font-weight="normal" fill="#222">VH1</text>
<line x1="53.80" y1="464.60" x2="82.30" y2="464.60" stroke="#7a7a8a" stroke-width="0.7"/>
<line x1="54.10" y1="438.60" x2="81.30" y2="429.30" stroke="#b86a78" stroke-width="0.65"/>
<text transform="translate(69.20,474.90)" font-size="6.5" text-anchor="middle" font-weight="normal" fill="#222">VH2</text>
<line x1="84.90" y1="464.60" x2="113.50" y2="464.60" stroke="#7a7a8a" stroke-width="0.7"/>
<line x1="85.20" y1="438.60" x2="112.50" y2="429.30" stroke="#b86a78" stroke-width="0.65"/>
<text transform="translate(101.00,474.90)" font-size="6.5" text-anchor="middle" font-weight="normal" fill="#222">VH3</text>
<line x1="116.00" y1="464.60" x2="147.80" y2="464.60" stroke="#7a7a8a" stroke-width="0.7"/>
<line x1="116.30" y1="438.60" x2="146.80" y2="429.30" stroke="#b86a78" stroke-width="0.65"/>
<text transform="translate(133.50,474.90)" font-size="6.5" text-anchor="middle" font-weight="normal" fill="#222">VH5</text>
<line x1="150.80" y1="464.60" x2="179.60" y2="464.60" stroke="#7a7a8a" stroke-width="0.7"/>
<line x1="151.10" y1="438.60" x2="178.60" y2="429.30" stroke="#b86a78" stroke-width="0.65"/>
<text transform="translate(165.50,474.90)" font-size="6.5" text-anchor="middle" font-weight="normal" fill="#222">VH6</text>
<line x1="182.30" y1="464.60" x2="213.50" y2="464.60" stroke="#7a7a8a" stroke-width="0.7"/>
<line x1="182.60" y1="438.60" x2="212.50" y2="429.30" stroke="#b86a78" stroke-width="0.65"/>
<text transform="translate(197.20,474.90)" font-size="6.5" text-anchor="middle" font-weight="normal" fill="#222">VH7</text>
<line x1="69.40" y1="364.80" x2="69.40" y2="395.40" stroke="#9090b8" stroke-width="0.6"/>
<path d="M36.20 395.40 L36.20 395.40 L36.56 395.40 L36.92 394.46 L37.28 393.60 L37.64 392.66 L38.00 391.01 L38.36 388.69 L38.72 386.74 L39.08 382.84 L39.44 378.95 L39.80 374.68 L40.16 374.77 L40.52 368.12 L40.70 366.00 L40.88 368.12 L41.24 373.68 L41.60 377.81 L41.96 378.30 L42.32 382.31 L42.68 387.05 L43.04 388.10 L43.40 390.55 L43.76 392.54 L44.12 393.71 L44.48 394.55 L44.84 395.40 L45.20 395.40 L45.20 395.40Z" fill="#50509f" stroke="#2a2a70" stroke-width="0.4" stroke-linejoin="round"/>
<line x1="40.70" y1="368.00" x2="40.70" y2="395.40" stroke="#2e2e78" stroke-width="0.7" opacity="0.6"/>
<path d="M66.40 395.40 L66.40 395.40 L66.76 395.40 L67.12 394.70 L67.48 394.19 L67.84 393.64 L68.20 392.74 L68.56 391.07 L68.92 389.41 L69.28 386.27 L69.64 383.95 L70.00 381.59 L70.36 379.21 L70.72 376.32 L71.08 373.43 L71.20 372.30 L71.44 374.50 L71.80 379.55 L72.16 381.21 L72.52 384.85 L72.88 386.01 L73.24 389.95 L73.60 391.09 L73.96 393.15 L74.32 393.88 L74.68 394.64 L75.04 395.40 L75.40 395.40 L75.40 395.40Z" fill="#50509f" stroke="#2a2a70" stroke-width="0.4" stroke-linejoin="round"/>
<line x1="71.20" y1="374.30" x2="71.20" y2="395.40" stroke="#2e2e78" stroke-width="0.7" opacity="0.6"/>
<path d="M96.40 395.40 L96.40 395.40 L96.76 395.40 L97.12 394.54 L97.48 393.92 L97.84 392.87 L98.20 392.00 L98.56 390.27 L98.92 388.29 L99.28 385.61 L99.64 381.24 L100.00 380.26 L100.36 375.68 L100.72 374.33 L101.08 368.49 L101.20 367.10 L101.44 369.80 L101.80 375.26 L102.16 378.05 L102.52 380.30 L102.88 384.62 L103.24 388.80 L103.60 390.73 L103.96 392.59 L104.32 393.47 L104.68 394.36 L105.04 395.40 L105.40 395.40 L105.40 395.40Z" fill="#50509f" stroke="#2a2a70" stroke-width="0.4" stroke-linejoin="round"/>
<line x1="101.20" y1="369.10" x2="101.20" y2="395.40" stroke="#2e2e78" stroke-width="0.7" opacity="0.6"/>
<path d="M126.90 395.40 L126.90 395.40 L127.26 395.40 L127.61 394.69 L127.97 394.30 L128.33 393.61 L128.68 393.12 L129.04 392.14 L129.39 390.35 L129.75 388.72 L130.11 387.37 L130.46 384.32 L130.82 382.67 L131.18 378.88 L131.53 378.97 L131.89 376.30 L132.24 370.54 L132.60 368.91 L132.90 365.70 L132.96 366.41 L133.31 371.78 L133.67 374.94 L134.03 375.12 L134.38 378.74 L134.74 383.11 L135.09 384.61 L135.45 386.90 L135.81 389.81 L136.16 390.94 L136.52 392.70 L136.88 393.53 L137.23 394.29 L137.59 394.70 L137.94 395.40 L138.30 395.40 L138.30 395.40Z" fill="#50509f" stroke="#2a2a70" stroke-width="0.4" stroke-linejoin="round"/>
<line x1="132.90" y1="367.70" x2="132.90" y2="395.40" stroke="#2e2e78" stroke-width="0.7" opacity="0.6"/>
<path d="M162.20 395.40 L162.20 395.40 L162.56 395.40 L162.91 395.40 L163.27 394.59 L163.62 394.36 L163.98 393.61 L164.34 393.40 L164.69 392.07 L165.05 391.16 L165.41 389.69 L165.76 387.94 L166.12 387.61 L166.47 385.75 L166.83 382.99 L167.19 382.40 L167.54 380.75 L167.90 379.25 L168.26 374.93 L168.61 372.83 L168.97 371.13 L169.10 369.80 L169.32 372.06 L169.68 374.60 L170.04 379.85 L170.39 380.45 L170.75 384.70 L171.11 387.95 L171.46 389.86 L171.82 391.74 L172.17 393.27 L172.53 393.97 L172.89 394.63 L173.24 395.40 L173.60 395.40 L173.60 395.40Z" fill="#50509f" stroke="#2a2a70" stroke-width="0.4" stroke-linejoin="round"/>
<line x1="169.10" y1="371.80" x2="169.10" y2="395.40" stroke="#2e2e78" stroke-width="0.7" opacity="0.6"/>
<path d="M191.80 395.40 L191.80 395.40 L192.15 395.40 L192.51 395.40 L192.86 394.78 L193.21 394.50 L193.57 394.18 L193.92 393.69 L194.28 393.42 L194.63 392.75 L194.98 392.72 L195.34 392.13 L195.69 391.81 L196.04 391.80 L196.40 391.22 L196.75 391.70 L197.10 391.49 L197.46 391.65 L197.81 392.45 L198.16 392.18 L198.52 392.23 L198.87 392.02 L199.23 391.90 L199.58 390.41 L199.93 388.59 L200.29 387.17 L200.64 385.12 L200.99 382.50 L201.35 380.28 L201.70 375.71 L202.05 373.47 L202.30 371.20 L202.41 372.27 L202.76 376.80 L203.11 379.21 L203.47 381.36 L203.82 383.61 L204.18 387.80 L204.53 390.37 L204.88 391.25 L205.24 392.87 L205.59 393.92 L205.94 394.62 L206.30 395.40 L206.65 395.40 L206.65 395.40Z" fill="#50509f" stroke="#2a2a70" stroke-width="0.4" stroke-linejoin="round"/>
<line x1="202.30" y1="373.20" x2="202.30" y2="395.40" stroke="#2e2e78" stroke-width="0.7" opacity="0.6"/>
<line x1="41.00" y1="424.00" x2="41.00" y2="464.60" stroke="#9a9ab8" stroke-width="0.85"/>
<line x1="71.20" y1="424.00" x2="71.20" y2="464.60" stroke="#6a6aa4" stroke-width="0.85"/>
<line x1="104.10" y1="424.00" x2="104.10" y2="464.60" stroke="#50509a" stroke-width="0.85"/>
<line x1="135.00" y1="424.00" x2="135.00" y2="464.60" stroke="#50509a" stroke-width="0.85"/>
<line x1="167.80" y1="424.00" x2="167.80" y2="464.60" stroke="#50509a" stroke-width="0.85"/>
<line x1="202.30" y1="424.00" x2="202.30" y2="464.60" stroke="#50509a" stroke-width="0.85"/>
<line x1="100.10" y1="453.80" x2="100.10" y2="464.60" stroke="#404090" stroke-width="0.8"/>
<path d="M132 464.6 L134.7 460.5 L135.3 460.5 L138 464.6Z" fill="#404090"/>
<line x1="204.40" y1="424.00" x2="204.40" y2="464.60" stroke="#50509a" stroke-width="0.85"/>
<rect x="202.30" y="424.00" width="2.10" height="40.60" fill="#b0b0d8" opacity="0.5"/>
<text transform="translate(233.20,338.60)" font-size="11.6" text-anchor="start" font-weight="bold" fill="#000" stroke="#000" stroke-width="0.25">F</text>
<line x1="262.40" y1="356.00" x2="262.40" y2="451.90" stroke="#1a1a1a" stroke-width="1.4"/>
<line x1="259.50" y1="451.30" x2="403.00" y2="451.30" stroke="#1a1a1a" stroke-width="1.4"/>
<line x1="259.40" y1="451.30" x2="262.40" y2="451.30" stroke="#1a1a1a" stroke-width="1"/>
<text transform="translate(255.60,453.75)" font-size="6.9" text-anchor="end" font-weight="normal" fill="#3a3a3a">0</text>
<line x1="259.40" y1="420.40" x2="262.40" y2="420.40" stroke="#1a1a1a" stroke-width="1"/>
<text transform="translate(255.60,422.85)" font-size="6.9" text-anchor="end" font-weight="normal" fill="#3a3a3a">5</text>
<line x1="259.40" y1="389.50" x2="262.40" y2="389.50" stroke="#1a1a1a" stroke-width="1"/>
<text transform="translate(255.60,391.95)" font-size="6.9" text-anchor="end" font-weight="normal" fill="#3a3a3a">10</text>
<line x1="259.40" y1="358.60" x2="262.40" y2="358.60" stroke="#1a1a1a" stroke-width="1"/>
<text transform="translate(255.60,361.05)" font-size="6.9" text-anchor="end" font-weight="normal" fill="#3a3a3a">15</text>
<line x1="267.60" y1="451.30" x2="267.60" y2="454.30" stroke="#1a1a1a" stroke-width="1"/>
<text transform="translate(269.50,460.50) rotate(-45) scale(0.9,1)" font-size="6.9" text-anchor="end" font-weight="normal" fill="#222">Ebf1</text>
<line x1="265.30" y1="407.42" x2="265.30" y2="420.40" stroke="#222" stroke-width="0.8"/>
<line x1="264.10" y1="407.42" x2="266.50" y2="407.42" stroke="#222" stroke-width="0.8"/>
<line x1="264.10" y1="420.40" x2="266.50" y2="420.40" stroke="#222" stroke-width="0.8"/>
<rect x="263.20" y="408.66" width="4.2" height="5.56" rx="1.2" fill="#a6042c" stroke="#1a1a2a" stroke-width="0.55"/>
<line x1="263.20" y1="411.44" x2="267.40" y2="411.44" stroke="#222" stroke-width="0.5"/>
<line x1="269.90" y1="401.24" x2="269.90" y2="405.57" stroke="#222" stroke-width="0.8"/>
<line x1="268.70" y1="401.24" x2="271.10" y2="401.24" stroke="#222" stroke-width="0.8"/>
<line x1="268.70" y1="405.57" x2="271.10" y2="405.57" stroke="#222" stroke-width="0.8"/>
<rect x="267.80" y="401.86" width="4.2" height="3.09" rx="1.2" fill="#2e4b7c" stroke="#1a1a2a" stroke-width="0.55"/>
<line x1="267.80" y1="403.41" x2="272.00" y2="403.41" stroke="#222" stroke-width="0.5"/>
<text transform="translate(267.60,398.20)" font-size="5.4" text-anchor="middle" font-weight="normal" fill="#333">***</text>
<line x1="280.46" y1="451.30" x2="280.46" y2="454.30" stroke="#1a1a1a" stroke-width="1"/>
<text transform="translate(282.36,460.50) rotate(-45) scale(0.9,1)" font-size="6.9" text-anchor="end" font-weight="normal" fill="#222">Pax5</text>
<line x1="278.16" y1="406.19" x2="278.16" y2="408.04" stroke="#222" stroke-width="0.8"/>
<line x1="276.96" y1="406.19" x2="279.36" y2="406.19" stroke="#222" stroke-width="0.8"/>
<line x1="276.96" y1="408.04" x2="279.36" y2="408.04" stroke="#222" stroke-width="0.8"/>
<ellipse cx="278.16" cy="407.11" rx="1.9" ry="1.4" fill="#1c1c24"/>
<circle cx="278.16" cy="414.22" r="0.9" fill="#222"/>
<line x1="282.76" y1="401.86" x2="282.76" y2="405.57" stroke="#222" stroke-width="0.8"/>
<line x1="281.56" y1="401.86" x2="283.96" y2="401.86" stroke="#222" stroke-width="0.8"/>
<line x1="281.56" y1="405.57" x2="283.96" y2="405.57" stroke="#222" stroke-width="0.8"/>
<rect x="280.66" y="402.48" width="4.2" height="2.47" rx="1.2" fill="#2e4b7c" stroke="#1a1a2a" stroke-width="0.55"/>
<line x1="280.66" y1="403.71" x2="284.86" y2="403.71" stroke="#222" stroke-width="0.5"/>
<text transform="translate(280.46,401.00)" font-size="5.4" text-anchor="middle" font-weight="normal" fill="#333">***</text>
<line x1="293.32" y1="451.30" x2="293.32" y2="454.30" stroke="#1a1a1a" stroke-width="1"/>
<text transform="translate(295.22,460.50) rotate(-45) scale(0.9,1)" font-size="6.9" text-anchor="end" font-weight="normal" fill="#222">Bcl6</text>
<line x1="291.02" y1="403.10" x2="291.02" y2="420.40" stroke="#222" stroke-width="0.8"/>
<line x1="289.82" y1="403.10" x2="292.22" y2="403.10" stroke="#222" stroke-width="0.8"/>
<line x1="289.82" y1="420.40" x2="292.22" y2="420.40" stroke="#222" stroke-width="0.8"/>
<rect x="288.92" y="408.66" width="4.2" height="7.42" rx="1.2" fill="#a6042c" stroke="#1a1a2a" stroke-width="0.55"/>
<line x1="288.92" y1="412.37" x2="293.12" y2="412.37" stroke="#222" stroke-width="0.5"/>
<line x1="295.62" y1="396.30" x2="295.62" y2="398.77" stroke="#222" stroke-width="0.8"/>
<line x1="294.42" y1="396.30" x2="296.82" y2="396.30" stroke="#222" stroke-width="0.8"/>
<line x1="294.42" y1="398.77" x2="296.82" y2="398.77" stroke="#222" stroke-width="0.8"/>
<ellipse cx="295.62" cy="397.84" rx="1.9" ry="1.4" fill="#1c1c24"/>
<text transform="translate(293.32,394.10)" font-size="5.4" text-anchor="middle" font-weight="normal" fill="#333">***</text>
<line x1="306.18" y1="451.30" x2="306.18" y2="454.30" stroke="#1a1a1a" stroke-width="1"/>
<text transform="translate(308.08,460.50) rotate(-45) scale(0.9,1)" font-size="6.9" text-anchor="end" font-weight="normal" fill="#222">Bach2</text>
<line x1="303.88" y1="388.26" x2="303.88" y2="401.86" stroke="#222" stroke-width="0.8"/>
<line x1="302.68" y1="388.26" x2="305.08" y2="388.26" stroke="#222" stroke-width="0.8"/>
<line x1="302.68" y1="401.86" x2="305.08" y2="401.86" stroke="#222" stroke-width="0.8"/>
<rect x="301.78" y="391.97" width="4.2" height="6.80" rx="1.2" fill="#a6042c" stroke="#1a1a2a" stroke-width="0.55"/>
<line x1="301.78" y1="395.37" x2="305.98" y2="395.37" stroke="#222" stroke-width="0.5"/>
<circle cx="303.88" cy="423.49" r="0.9" fill="#222"/>
<line x1="308.48" y1="377.14" x2="308.48" y2="379.61" stroke="#222" stroke-width="0.8"/>
<line x1="307.28" y1="377.14" x2="309.68" y2="377.14" stroke="#222" stroke-width="0.8"/>
<line x1="307.28" y1="379.61" x2="309.68" y2="379.61" stroke="#222" stroke-width="0.8"/>
<ellipse cx="308.48" cy="378.38" rx="1.9" ry="1.4" fill="#1c1c24"/>
<text transform="translate(306.18,373.10)" font-size="5.4" text-anchor="middle" font-weight="normal" fill="#333">***</text>
<line x1="319.04" y1="451.30" x2="319.04" y2="454.30" stroke="#1a1a1a" stroke-width="1"/>
<text transform="translate(320.94,460.50) rotate(-45) scale(0.9,1)" font-size="6.9" text-anchor="end" font-weight="normal" fill="#222">Lmo2</text>
<line x1="316.74" y1="374.05" x2="316.74" y2="395.68" stroke="#222" stroke-width="0.8"/>
<line x1="315.54" y1="374.05" x2="317.94" y2="374.05" stroke="#222" stroke-width="0.8"/>
<line x1="315.54" y1="395.68" x2="317.94" y2="395.68" stroke="#222" stroke-width="0.8"/>
<rect x="314.64" y="383.94" width="4.2" height="10.51" rx="1.2" fill="#a6042c" stroke="#1a1a2a" stroke-width="0.55"/>
<line x1="314.64" y1="389.19" x2="318.84" y2="389.19" stroke="#222" stroke-width="0.5"/>
<line x1="321.34" y1="377.76" x2="321.34" y2="378.38" stroke="#222" stroke-width="0.8"/>
<line x1="320.14" y1="377.76" x2="322.54" y2="377.76" stroke="#222" stroke-width="0.8"/>
<line x1="320.14" y1="378.38" x2="322.54" y2="378.38" stroke="#222" stroke-width="0.8"/>
<ellipse cx="321.34" cy="378.07" rx="1.9" ry="1.4" fill="#1c1c24"/>
<text transform="translate(319.04,372.80)" font-size="5.4" text-anchor="middle" font-weight="normal" fill="#333">*</text>
<line x1="331.90" y1="451.30" x2="331.90" y2="454.30" stroke="#1a1a1a" stroke-width="1"/>
<text transform="translate(333.80,460.50) rotate(-45) scale(0.9,1)" font-size="6.9" text-anchor="end" font-weight="normal" fill="#222">Irf8</text>
<line x1="329.60" y1="384.56" x2="329.60" y2="394.44" stroke="#222" stroke-width="0.8"/>
<line x1="328.40" y1="384.56" x2="330.80" y2="384.56" stroke="#222" stroke-width="0.8"/>
<line x1="328.40" y1="394.44" x2="330.80" y2="394.44" stroke="#222" stroke-width="0.8"/>
<rect x="327.50" y="387.65" width="4.2" height="4.33" rx="1.2" fill="#a6042c" stroke="#1a1a2a" stroke-width="0.55"/>
<line x1="327.50" y1="389.81" x2="331.70" y2="389.81" stroke="#222" stroke-width="0.5"/>
<circle cx="329.60" cy="375.90" r="0.9" fill="#222"/>
<line x1="334.20" y1="382.08" x2="334.20" y2="382.70" stroke="#222" stroke-width="0.8"/>
<line x1="333.00" y1="382.08" x2="335.40" y2="382.08" stroke="#222" stroke-width="0.8"/>
<line x1="333.00" y1="382.70" x2="335.40" y2="382.70" stroke="#222" stroke-width="0.8"/>
<ellipse cx="334.20" cy="382.39" rx="1.9" ry="1.4" fill="#1c1c24"/>
<text transform="translate(331.90,374.00)" font-size="5.4" text-anchor="middle" font-weight="normal" fill="#333">*</text>
<line x1="344.76" y1="451.30" x2="344.76" y2="454.30" stroke="#1a1a1a" stroke-width="1"/>
<text transform="translate(346.66,460.50) rotate(-45) scale(0.9,1)" font-size="6.9" text-anchor="end" font-weight="normal" fill="#222">Irf4</text>
<line x1="342.46" y1="398.15" x2="342.46" y2="403.10" stroke="#222" stroke-width="0.8"/>
<line x1="341.26" y1="398.15" x2="343.66" y2="398.15" stroke="#222" stroke-width="0.8"/>
<line x1="341.26" y1="403.10" x2="343.66" y2="403.10" stroke="#222" stroke-width="0.8"/>
<rect x="340.36" y="399.39" width="4.2" height="2.47" rx="1.2" fill="#a6042c" stroke="#1a1a2a" stroke-width="0.55"/>
<line x1="340.36" y1="400.62" x2="344.56" y2="400.62" stroke="#222" stroke-width="0.5"/>
<circle cx="342.46" cy="408.04" r="0.9" fill="#222"/>
<line x1="347.06" y1="390.74" x2="347.06" y2="401.86" stroke="#222" stroke-width="0.8"/>
<line x1="345.86" y1="390.74" x2="348.26" y2="390.74" stroke="#222" stroke-width="0.8"/>
<line x1="345.86" y1="401.86" x2="348.26" y2="401.86" stroke="#222" stroke-width="0.8"/>
<rect x="344.96" y="392.59" width="4.2" height="7.42" rx="1.2" fill="#2e4b7c" stroke="#1a1a2a" stroke-width="0.55"/>
<line x1="344.96" y1="396.30" x2="349.16" y2="396.30" stroke="#222" stroke-width="0.5"/>
<line x1="357.62" y1="451.30" x2="357.62" y2="454.30" stroke="#1a1a1a" stroke-width="1"/>
<text transform="translate(359.52,460.50) rotate(-45) scale(0.9,1)" font-size="6.9" text-anchor="end" font-weight="normal" fill="#222">Spi1</text>
<line x1="355.32" y1="403.71" x2="355.32" y2="409.28" stroke="#222" stroke-width="0.8"/>
<line x1="354.12" y1="403.71" x2="356.52" y2="403.71" stroke="#222" stroke-width="0.8"/>
<line x1="354.12" y1="409.28" x2="356.52" y2="409.28" stroke="#222" stroke-width="0.8"/>
<rect x="353.22" y="404.95" width="4.2" height="3.09" rx="1.2" fill="#a6042c" stroke="#1a1a2a" stroke-width="0.55"/>
<line x1="353.22" y1="406.50" x2="357.42" y2="406.50" stroke="#222" stroke-width="0.5"/>
<circle cx="355.32" cy="416.69" r="0.9" fill="#222"/>
<line x1="359.92" y1="403.71" x2="359.92" y2="406.80" stroke="#222" stroke-width="0.8"/>
<line x1="358.72" y1="403.71" x2="361.12" y2="403.71" stroke="#222" stroke-width="0.8"/>
<line x1="358.72" y1="406.80" x2="361.12" y2="406.80" stroke="#222" stroke-width="0.8"/>
<ellipse cx="359.92" cy="405.26" rx="1.9" ry="1.4" fill="#1c1c24"/>
<line x1="370.48" y1="451.30" x2="370.48" y2="454.30" stroke="#1a1a1a" stroke-width="1"/>
<text transform="translate(372.38,460.50) rotate(-45) scale(0.9,1)" font-size="6.9" text-anchor="end" font-weight="normal" fill="#222">Prdm1</text>
<line x1="368.18" y1="391.97" x2="368.18" y2="408.66" stroke="#222" stroke-width="0.8"/>
<line x1="366.98" y1="391.97" x2="369.38" y2="391.97" stroke="#222" stroke-width="0.8"/>
<line x1="366.98" y1="408.66" x2="369.38" y2="408.66" stroke="#222" stroke-width="0.8"/>
<rect x="366.08" y="395.68" width="4.2" height="9.27" rx="1.2" fill="#a6042c" stroke="#1a1a2a" stroke-width="0.55"/>
<line x1="366.08" y1="400.32" x2="370.28" y2="400.32" stroke="#222" stroke-width="0.5"/>
<line x1="372.78" y1="412.98" x2="372.78" y2="421.64" stroke="#222" stroke-width="0.8"/>
<line x1="371.58" y1="412.98" x2="373.98" y2="412.98" stroke="#222" stroke-width="0.8"/>
<line x1="371.58" y1="421.64" x2="373.98" y2="421.64" stroke="#222" stroke-width="0.8"/>
<rect x="370.68" y="414.22" width="4.2" height="7.42" rx="1.2" fill="#2e4b7c" stroke="#1a1a2a" stroke-width="0.55"/>
<line x1="370.68" y1="417.93" x2="374.88" y2="417.93" stroke="#222" stroke-width="0.5"/>
<text transform="translate(370.48,386.80)" font-size="5.4" text-anchor="middle" font-weight="normal" fill="#333">***</text>
<line x1="383.34" y1="451.30" x2="383.34" y2="454.30" stroke="#1a1a1a" stroke-width="1"/>
<text transform="translate(385.24,460.50) rotate(-45) scale(0.9,1)" font-size="6.9" text-anchor="end" font-weight="normal" fill="#222">Stab1</text>
<line x1="381.04" y1="424.11" x2="381.04" y2="425.34" stroke="#222" stroke-width="0.8"/>
<line x1="379.84" y1="424.11" x2="382.24" y2="424.11" stroke="#222" stroke-width="0.8"/>
<line x1="379.84" y1="425.34" x2="382.24" y2="425.34" stroke="#222" stroke-width="0.8"/>
<ellipse cx="381.04" cy="424.73" rx="1.9" ry="1.4" fill="#1c1c24"/>
<circle cx="381.04" cy="421.64" r="0.9" fill="#222"/>
<line x1="385.64" y1="425.96" x2="385.64" y2="426.58" stroke="#222" stroke-width="0.8"/>
<line x1="384.44" y1="425.96" x2="386.84" y2="425.96" stroke="#222" stroke-width="0.8"/>
<line x1="384.44" y1="426.58" x2="386.84" y2="426.58" stroke="#222" stroke-width="0.8"/>
<ellipse cx="385.64" cy="426.27" rx="1.9" ry="1.4" fill="#1c1c24"/>
<line x1="396.20" y1="451.30" x2="396.20" y2="454.30" stroke="#1a1a1a" stroke-width="1"/>
<text transform="translate(398.10,460.50) rotate(-45) scale(0.9,1)" font-size="6.9" text-anchor="end" font-weight="normal" fill="#222">Ccnd2</text>
<line x1="393.90" y1="390.12" x2="393.90" y2="404.95" stroke="#222" stroke-width="0.8"/>
<line x1="392.70" y1="390.12" x2="395.10" y2="390.12" stroke="#222" stroke-width="0.8"/>
<line x1="392.70" y1="404.95" x2="395.10" y2="404.95" stroke="#222" stroke-width="0.8"/>
<rect x="391.80" y="391.35" width="4.2" height="6.80" rx="1.2" fill="#a6042c" stroke="#1a1a2a" stroke-width="0.55"/>
<line x1="391.80" y1="394.75" x2="396.00" y2="394.75" stroke="#222" stroke-width="0.5"/>
<line x1="398.50" y1="401.86" x2="398.50" y2="410.51" stroke="#222" stroke-width="0.8"/>
<line x1="397.30" y1="401.86" x2="399.70" y2="401.86" stroke="#222" stroke-width="0.8"/>
<line x1="397.30" y1="410.51" x2="399.70" y2="410.51" stroke="#222" stroke-width="0.8"/>
<rect x="396.40" y="403.10" width="4.2" height="5.56" rx="1.2" fill="#2e4b7c" stroke="#1a1a2a" stroke-width="0.55"/>
<line x1="396.40" y1="405.88" x2="400.60" y2="405.88" stroke="#222" stroke-width="0.5"/>
<text transform="translate(396.20,388.90)" font-size="5.4" text-anchor="middle" font-weight="normal" fill="#333">**</text>
<text transform="translate(242.80,425.70) rotate(-90)" font-size="7.6" textLength="49.60" lengthAdjust="spacingAndGlyphs" font-weight="normal" fill="#222" class="c">Relative expression</text>
<rect x="423.00" y="355.80" width="10.90" height="5.00" fill="#a6042c"/>
<text transform="translate(437.60,360.70)" font-size="6" textLength="18.40" lengthAdjust="spacingAndGlyphs" font-weight="normal" fill="#222">Tet2 -/-</text>
<rect x="423.00" y="367.40" width="10.90" height="5.00" fill="#2e4b7c"/>
<text transform="translate(437.60,372.20)" font-size="6" textLength="23.00" lengthAdjust="spacingAndGlyphs" font-weight="normal" fill="#222">Tet2 +/+</text>
<rect x="1.5" y="1.5" width="517" height="481" fill="none" stroke="#8a8a8a" stroke-width="1"/>
<rect x="0.5" y="0.5" width="519" height="483" fill="none" stroke="#000" stroke-width="1"/>
</svg>
</body></html>
